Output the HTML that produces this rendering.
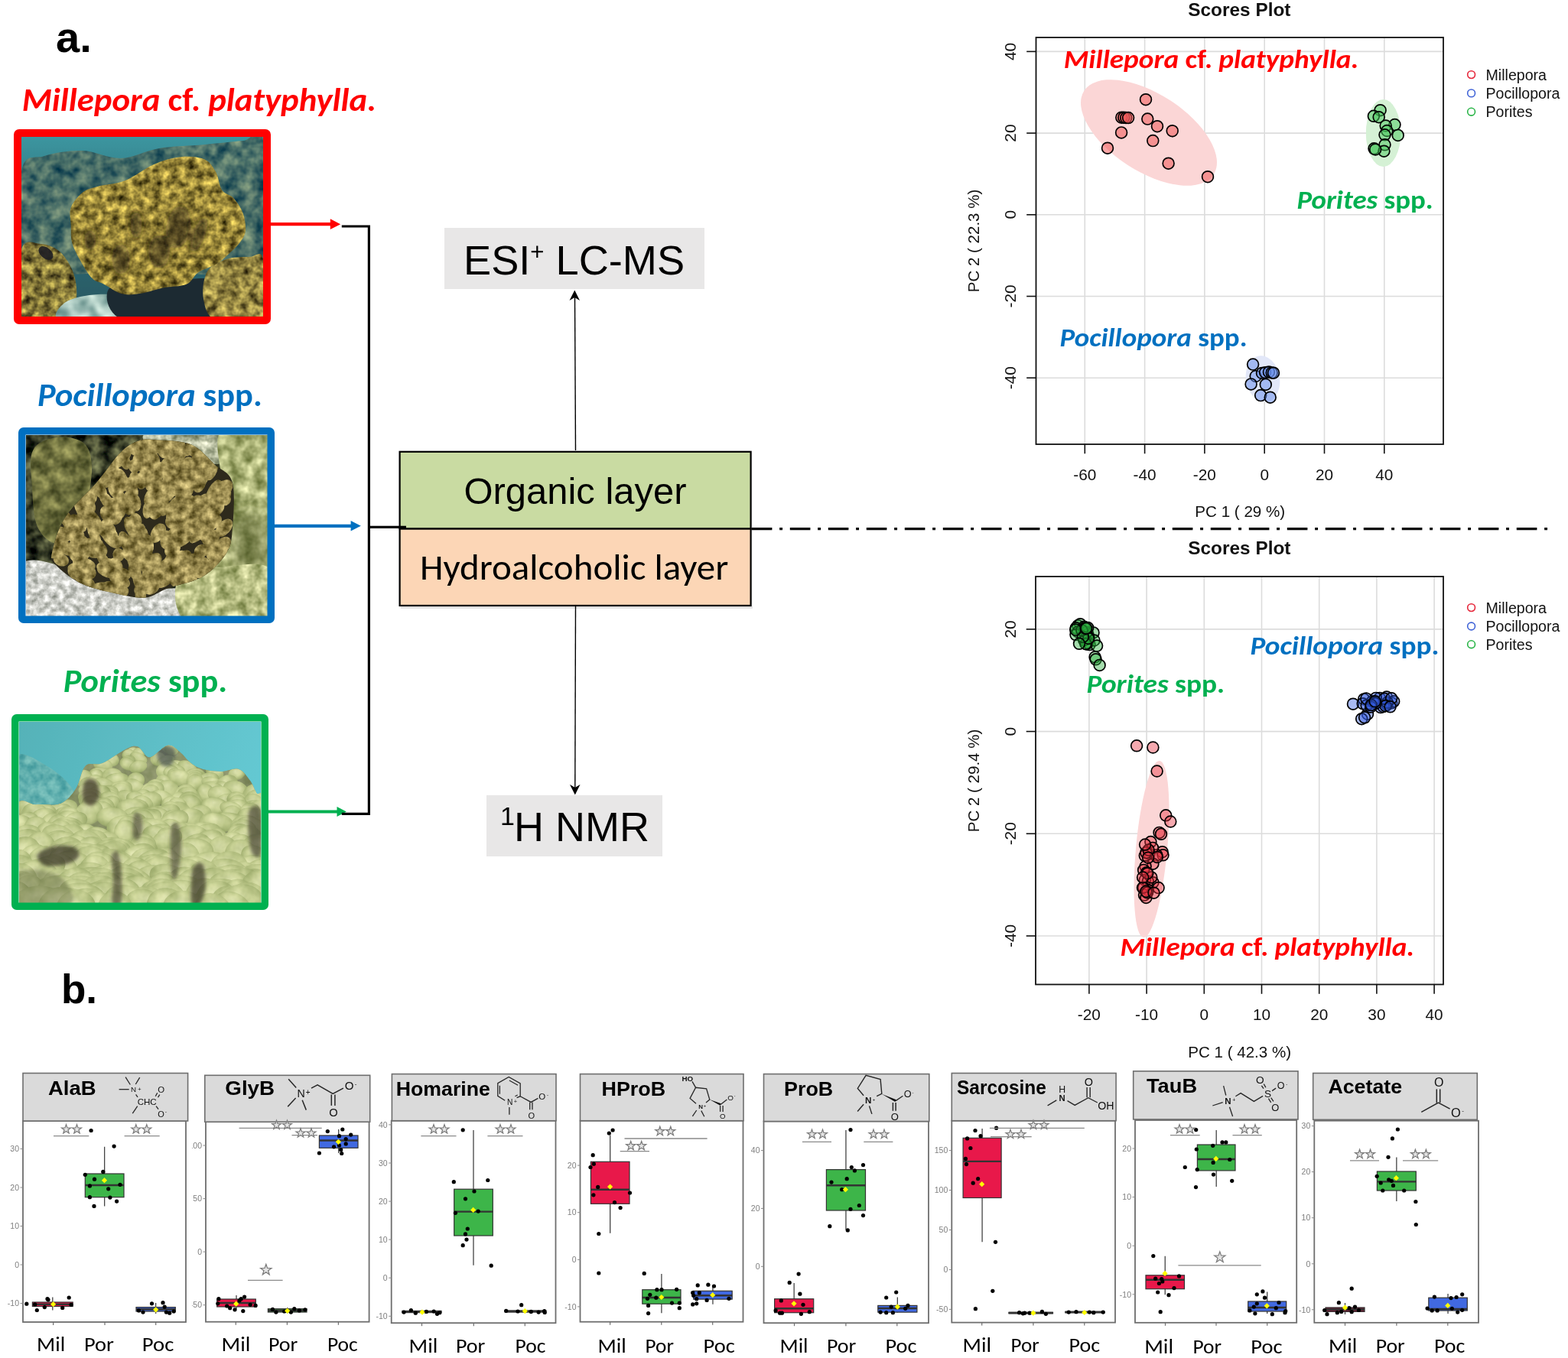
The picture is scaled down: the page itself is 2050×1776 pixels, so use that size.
<!DOCTYPE html>
<html><head><meta charset="utf-8"><title>Figure</title>
<style>html,body{margin:0;padding:0;background:#fff;width:2050px;height:1776px;overflow:hidden} svg{display:block}</style>
</head><body>
<svg width="2050" height="1776" viewBox="0 0 2050 1776">
<defs>
<filter id="tf1" x="28" y="179" width="316" height="237" filterUnits="userSpaceOnUse" color-interpolation-filters="sRGB"><feTurbulence type="fractalNoise" baseFrequency="0.06" numOctaves="3" seed="4"/><feColorMatrix type="matrix" values="0.8298 0 0 0 -0.1247 0.6765 0 0 0 0.0833 0.3608 0 0 0 0.2118 0 0 0 0 1"/></filter>
<clipPath id="tc1"><path d="M28.0,224.0 C33.0,199.0 44.7,208.5 58.0,204.0 C71.3,199.5 91.3,196.5 108.0,197.0 C124.7,197.5 141.3,207.5 158.0,207.0 C174.7,206.5 189.7,197.0 208.0,194.0 C226.3,191.0 249.7,190.7 268.0,189.0 C286.3,187.3 305.3,184.8 318.0,184.0 C330.7,183.2 339.7,156.5 344.0,184.0 C348.3,211.5 355.0,319.8 344.0,349.0 C333.0,378.2 305.7,358.2 278.0,359.0 C250.3,359.8 209.7,354.0 178.0,354.0 C146.3,354.0 113.0,359.0 88.0,359.0 C63.0,359.0 38.0,376.5 28.0,354.0 C18.0,331.5 23.0,249.0 28.0,224.0 Z"/></clipPath>
<filter id="tf2" x="28" y="179" width="316" height="237" filterUnits="userSpaceOnUse" color-interpolation-filters="sRGB"><feTurbulence type="fractalNoise" baseFrequency="0.09" numOctaves="3" seed="5"/><feColorMatrix type="matrix" values="1.1765 0 0 0 -0.0686 1.0918 0 0 0 -0.0753 0.5365 0 0 0 -0.0467 0 0 0 0 1"/></filter>
<clipPath id="tc2"><path d="M28.0,327.0 C32.2,310.3 44.7,318.7 53.0,319.0 C61.3,319.3 70.8,322.7 78.0,329.0 C85.2,335.3 92.3,346.7 96.0,357.0 C99.7,367.3 101.0,380.7 100.0,391.0 C99.0,401.3 102.0,414.3 90.0,419.0 C78.0,423.7 38.3,434.3 28.0,419.0 C17.7,403.7 23.8,343.7 28.0,327.0 Z"/></clipPath>
<filter id="tf3" x="28" y="179" width="316" height="237" filterUnits="userSpaceOnUse" color-interpolation-filters="sRGB"><feTurbulence type="fractalNoise" baseFrequency="0.05" numOctaves="2" seed="6"/><feColorMatrix type="matrix" values="0.8824 0 0 0 0.1667 0.7353 0 0 0 0.3676 0.6863 0 0 0 0.3627 0 0 0 0 1"/></filter>
<clipPath id="tc3"><path d="M86.0,395.0 C94.0,389.3 114.3,385.7 128.0,385.0 C141.7,384.3 159.3,385.3 168.0,391.0 C176.7,396.7 194.7,414.3 180.0,419.0 C165.3,423.7 95.7,423.0 80.0,419.0 C64.3,415.0 78.0,400.7 86.0,395.0 Z"/></clipPath>
<filter id="tf4" x="28" y="179" width="316" height="237" filterUnits="userSpaceOnUse" color-interpolation-filters="sRGB"><feTurbulence type="fractalNoise" baseFrequency="0.08" numOctaves="3" seed="7"/><feColorMatrix type="matrix" values="1.2706 0 0 0 -0.0569 1.1765 0 0 0 -0.0686 0.6588 0 0 0 -0.0745 0 0 0 0 1"/></filter>
<clipPath id="tc4"><path d="M271.0,355.0 C276.0,346.3 286.8,342.2 296.0,339.0 C305.2,335.8 318.0,336.0 326.0,336.0 C334.0,336.0 341.0,325.2 344.0,339.0 C347.0,352.8 354.2,405.7 344.0,419.0 C333.8,432.3 296.0,423.7 283.0,419.0 C270.0,414.3 268.0,401.7 266.0,391.0 C264.0,380.3 266.0,363.7 271.0,355.0 Z"/></clipPath>
<filter id="tf5" x="28" y="179" width="316" height="237" filterUnits="userSpaceOnUse" color-interpolation-filters="sRGB"><feTurbulence type="fractalNoise" baseFrequency="0.09" numOctaves="3" seed="8"/><feColorMatrix type="matrix" values="1.2255 0 0 0 -0.0147 1.0980 0 0 0 -0.0235 0.5588 0 0 0 -0.0578 0 0 0 0 1"/></filter>
<clipPath id="tc5"><path d="M92.7,271.5 C95.3,264.3 102.3,256.1 108.2,251.5 C114.1,246.9 118.9,246.3 128.2,243.7 C137.4,241.1 151.4,240.9 163.7,236.0 C176.0,231.1 190.1,219.6 202.2,214.5 C214.3,209.4 225.3,206.2 236.1,205.2 C246.9,204.2 259.3,205.0 267.0,208.3 C274.7,211.6 278.5,218.5 282.4,225.2 C286.2,231.9 286.2,242.7 290.1,248.4 C294.0,254.1 300.9,254.1 305.5,259.2 C310.1,264.3 315.2,272.0 317.8,279.2 C320.4,286.4 321.7,295.9 320.9,302.3 C320.1,308.7 317.0,312.6 313.2,317.7 C309.4,322.8 302.9,328.6 297.8,333.2 C292.7,337.8 288.8,341.6 282.4,345.5 C276.0,349.4 265.6,351.9 259.2,356.3 C252.8,360.7 251.5,368.4 243.8,371.7 C236.1,375.0 223.3,374.3 213.0,376.4 C202.7,378.5 191.2,382.8 182.2,384.1 C173.2,385.4 166.7,386.2 159.0,384.1 C151.3,382.0 142.3,375.1 135.9,371.7 C129.5,368.3 125.6,369.1 120.5,364.0 C115.4,358.9 109.5,348.6 105.1,340.9 C100.7,333.2 96.4,325.4 94.3,317.7 C92.2,310.0 93.0,302.3 92.7,294.6 C92.4,286.9 90.1,278.7 92.7,271.5 Z"/></clipPath>
<clipPath id="mc1"><path d="M92.7,271.5 C95.3,264.3 102.3,256.1 108.2,251.5 C114.1,246.9 118.9,246.3 128.2,243.7 C137.4,241.1 151.4,240.9 163.7,236.0 C176.0,231.1 190.1,219.6 202.2,214.5 C214.3,209.4 225.3,206.2 236.1,205.2 C246.9,204.2 259.3,205.0 267.0,208.3 C274.7,211.6 278.5,218.5 282.4,225.2 C286.2,231.9 286.2,242.7 290.1,248.4 C294.0,254.1 300.9,254.1 305.5,259.2 C310.1,264.3 315.2,272.0 317.8,279.2 C320.4,286.4 321.7,295.9 320.9,302.3 C320.1,308.7 317.0,312.6 313.2,317.7 C309.4,322.8 302.9,328.6 297.8,333.2 C292.7,337.8 288.8,341.6 282.4,345.5 C276.0,349.4 265.6,351.9 259.2,356.3 C252.8,360.7 251.5,368.4 243.8,371.7 C236.1,375.0 223.3,374.3 213.0,376.4 C202.7,378.5 191.2,382.8 182.2,384.1 C173.2,385.4 166.7,386.2 159.0,384.1 C151.3,382.0 142.3,375.1 135.9,371.7 C129.5,368.3 125.6,369.1 120.5,364.0 C115.4,358.9 109.5,348.6 105.1,340.9 C100.7,333.2 96.4,325.4 94.3,317.7 C92.2,310.0 93.0,302.3 92.7,294.6 C92.4,286.9 90.1,278.7 92.7,271.5 Z"/></clipPath>
<filter id="pb1s" x="28" y="179" width="316" height="237" filterUnits="userSpaceOnUse"><feGaussianBlur stdDeviation="5"/></filter>
<clipPath id="pc1"><rect x="28" y="179" width="316" height="237"/></clipPath>
<filter id="pb1" x="18" y="169" width="336" height="257" filterUnits="userSpaceOnUse"><feGaussianBlur stdDeviation="0.6"/></filter>
<filter id="tf6" x="34" y="569" width="316" height="237" filterUnits="userSpaceOnUse" color-interpolation-filters="sRGB"><feTurbulence type="fractalNoise" baseFrequency="0.06" numOctaves="3" seed="11"/><feColorMatrix type="matrix" values="0.8333 0 0 0 -0.1912 0.8333 0 0 0 -0.1716 0.5686 0 0 0 -0.1235 0 0 0 0 1"/></filter>
<filter id="tf7" x="34" y="569" width="316" height="237" filterUnits="userSpaceOnUse" color-interpolation-filters="sRGB"><feTurbulence type="fractalNoise" baseFrequency="0.08" numOctaves="3" seed="12"/><feColorMatrix type="matrix" values="1.0373 0 0 0 0.1382 0.9741 0 0 0 0.1953 0.9922 0 0 0 0.0725 0 0 0 0 1"/></filter>
<clipPath id="tc7"><path d="M199.0,564.0 C224.2,559.8 324.8,557.8 350.0,564.0 C375.2,570.2 361.0,593.8 350.0,601.0 C339.0,608.2 304.2,607.3 284.0,607.0 C263.8,606.7 243.2,602.0 229.0,599.0 C214.8,596.0 204.0,594.8 199.0,589.0 C194.0,583.2 173.8,568.2 199.0,564.0 Z"/></clipPath>
<filter id="tf8" x="34" y="569" width="316" height="237" filterUnits="userSpaceOnUse" color-interpolation-filters="sRGB"><feTurbulence type="fractalNoise" baseFrequency="0.06" numOctaves="3" seed="13"/><feColorMatrix type="matrix" values="0.8667 0 0 0 0.2431 0.8157 0 0 0 0.2980 0.8157 0 0 0 0.0627 0 0 0 0 1"/></filter>
<clipPath id="tc8"><path d="M289.0,564.0 C299.7,553.2 343.2,522.3 354.0,564.0 C364.8,605.7 369.3,772.3 354.0,814.0 C338.7,855.7 275.7,826.2 262.0,814.0 C248.3,801.8 266.3,761.8 272.0,741.0 C277.7,720.2 293.0,707.7 296.0,689.0 C299.0,670.3 291.2,649.8 290.0,629.0 C288.8,608.2 278.3,574.8 289.0,564.0 Z"/></clipPath>
<filter id="pshade2" x="34" y="569" width="316" height="237" filterUnits="userSpaceOnUse"><feGaussianBlur stdDeviation="8"/></filter>
<filter id="tf9" x="34" y="569" width="316" height="237" filterUnits="userSpaceOnUse" color-interpolation-filters="sRGB"><feTurbulence type="fractalNoise" baseFrequency="0.06" numOctaves="3" seed="14"/><feColorMatrix type="matrix" values="0.7216 0 0 0 0.0706 0.6855 0 0 0 0.0965 0.4690 0 0 0 0.0086 0 0 0 0 1"/></filter>
<clipPath id="tc9"><path d="M43.0,589.0 C48.3,577.8 63.0,573.7 74.0,572.0 C85.0,570.3 101.3,572.8 109.0,579.0 C116.7,585.2 119.2,595.7 120.0,609.0 C120.8,622.3 116.7,644.8 114.0,659.0 C111.3,673.2 110.7,685.3 104.0,694.0 C97.3,702.7 83.2,711.8 74.0,711.0 C64.8,710.2 54.3,701.0 49.0,689.0 C43.7,677.0 43.0,655.7 42.0,639.0 C41.0,622.3 37.7,600.2 43.0,589.0 Z"/></clipPath>
<filter id="tf10" x="34" y="569" width="316" height="237" filterUnits="userSpaceOnUse" color-interpolation-filters="sRGB"><feTurbulence type="fractalNoise" baseFrequency="0.12" numOctaves="3" seed="15"/><feColorMatrix type="matrix" values="0.7216 0 0 0 0.4471 0.6980 0 0 0 0.4647 0.7294 0 0 0 0.4255 0 0 0 0 1"/></filter>
<clipPath id="tc10"><path d="M29.0,737.0 C39.8,725.3 73.2,739.3 94.0,744.0 C114.8,748.7 130.7,760.8 154.0,765.0 C177.3,769.2 210.7,770.7 234.0,769.0 C257.3,767.3 274.0,755.3 294.0,755.0 C314.0,754.7 344.0,757.2 354.0,767.0 C364.0,776.8 408.2,806.2 354.0,814.0 C299.8,821.8 83.2,826.8 29.0,814.0 C-25.2,801.2 18.2,748.7 29.0,737.0 Z"/></clipPath>
<filter id="tf11" x="34" y="569" width="316" height="237" filterUnits="userSpaceOnUse" color-interpolation-filters="sRGB"><feTurbulence type="fractalNoise" baseFrequency="0.07" numOctaves="3" seed="16"/><feColorMatrix type="matrix" values="0.8667 0 0 0 0.2824 0.7953 0 0 0 0.3435 0.8157 0 0 0 0.1020 0 0 0 0 1"/></filter>
<clipPath id="tc11"><path d="M234.0,755.0 C242.3,742.8 276.0,742.7 296.0,741.0 C316.0,739.3 344.3,732.8 354.0,745.0 C363.7,757.2 372.0,802.5 354.0,814.0 C336.0,825.5 266.0,823.8 246.0,814.0 C226.0,804.2 225.7,767.2 234.0,755.0 Z"/></clipPath>
<mask id="brm"><rect x="34" y="569" width="316" height="237" fill="black"/><ellipse cx="220.8" cy="646.1" rx="15.2" ry="7.3" transform="rotate(-50.4 220.8 646.1)" fill="white" opacity="1"/><ellipse cx="143.4" cy="697.2" rx="15.5" ry="8.9" transform="rotate(-98.3 143.4 697.2)" fill="white" opacity="1"/><ellipse cx="234.0" cy="586.7" rx="15.2" ry="8.6" transform="rotate(-84.1 234.0 586.7)" fill="white" opacity="1"/><ellipse cx="113.3" cy="747.0" rx="13.1" ry="9.8" transform="rotate(-149.0 113.3 747.0)" fill="white" opacity="1"/><ellipse cx="293.0" cy="690.3" rx="13.9" ry="8.6" transform="rotate(-47.9 293.0 690.3)" fill="white" opacity="1"/><ellipse cx="291.9" cy="639.5" rx="14.5" ry="9.8" transform="rotate(-42.7 291.9 639.5)" fill="white" opacity="1"/><ellipse cx="102.1" cy="742.0" rx="13.7" ry="7.1" transform="rotate(-184.3 102.1 742.0)" fill="white" opacity="1"/><ellipse cx="192.9" cy="583.5" rx="15.5" ry="8.3" transform="rotate(-86.4 192.9 583.5)" fill="white" opacity="1"/><ellipse cx="164.4" cy="709.2" rx="15.4" ry="7.6" transform="rotate(-114.5 164.4 709.2)" fill="white" opacity="1"/><ellipse cx="204.7" cy="636.5" rx="13.2" ry="8.4" transform="rotate(-84.4 204.7 636.5)" fill="white" opacity="1"/><ellipse cx="225.9" cy="682.6" rx="9.6" ry="10.0" transform="rotate(-71.4 225.9 682.6)" fill="white" opacity="1"/><ellipse cx="169.6" cy="657.6" rx="15.5" ry="9.8" transform="rotate(-96.8 169.6 657.6)" fill="white" opacity="1"/><ellipse cx="162.4" cy="596.3" rx="15.3" ry="7.1" transform="rotate(-94.8 162.4 596.3)" fill="white" opacity="1"/><ellipse cx="150.3" cy="642.7" rx="11.5" ry="7.2" transform="rotate(-128.1 150.3 642.7)" fill="white" opacity="1"/><ellipse cx="193.8" cy="736.2" rx="13.5" ry="7.2" transform="rotate(-63.8 193.8 736.2)" fill="white" opacity="1"/><ellipse cx="176.3" cy="746.3" rx="12.5" ry="8.3" transform="rotate(-104.5 176.3 746.3)" fill="white" opacity="1"/><ellipse cx="179.2" cy="722.5" rx="13.5" ry="7.7" transform="rotate(-81.7 179.2 722.5)" fill="white" opacity="1"/><ellipse cx="260.0" cy="698.7" rx="15.6" ry="6.6" transform="rotate(-42.8 260.0 698.7)" fill="white" opacity="1"/><ellipse cx="216.9" cy="645.1" rx="10.2" ry="8.9" transform="rotate(-78.4 216.9 645.1)" fill="white" opacity="1"/><ellipse cx="294.3" cy="647.5" rx="9.8" ry="7.3" transform="rotate(-60.0 294.3 647.5)" fill="white" opacity="1"/><ellipse cx="270.8" cy="613.1" rx="10.9" ry="6.8" transform="rotate(-62.4 270.8 613.1)" fill="white" opacity="1"/><ellipse cx="117.4" cy="645.8" rx="14.1" ry="9.7" transform="rotate(-101.7 117.4 645.8)" fill="white" opacity="1"/><ellipse cx="116.3" cy="675.0" rx="11.7" ry="9.1" transform="rotate(-114.8 116.3 675.0)" fill="white" opacity="1"/><ellipse cx="177.2" cy="626.8" rx="10.6" ry="7.4" transform="rotate(-114.5 177.2 626.8)" fill="white" opacity="1"/><ellipse cx="224.1" cy="608.6" rx="15.2" ry="8.8" transform="rotate(-98.1 224.1 608.6)" fill="white" opacity="1"/><ellipse cx="185.2" cy="697.7" rx="9.3" ry="8.2" transform="rotate(-112.5 185.2 697.7)" fill="white" opacity="1"/><ellipse cx="266.2" cy="623.7" rx="12.7" ry="7.0" transform="rotate(-68.4 266.2 623.7)" fill="white" opacity="1"/><ellipse cx="270.3" cy="740.5" rx="9.1" ry="7.8" transform="rotate(-11.2 270.3 740.5)" fill="white" opacity="1"/><ellipse cx="109.9" cy="737.5" rx="15.3" ry="8.4" transform="rotate(-163.9 109.9 737.5)" fill="white" opacity="1"/><ellipse cx="266.7" cy="679.6" rx="10.3" ry="7.5" transform="rotate(-64.3 266.7 679.6)" fill="white" opacity="1"/><ellipse cx="264.4" cy="679.0" rx="13.9" ry="9.4" transform="rotate(-24.5 264.4 679.0)" fill="white" opacity="1"/><ellipse cx="113.4" cy="658.1" rx="15.1" ry="9.2" transform="rotate(-128.2 113.4 658.1)" fill="white" opacity="1"/><ellipse cx="221.8" cy="616.0" rx="10.1" ry="6.7" transform="rotate(-82.1 221.8 616.0)" fill="white" opacity="1"/><ellipse cx="124.0" cy="680.5" rx="15.8" ry="7.0" transform="rotate(-121.3 124.0 680.5)" fill="white" opacity="1"/><ellipse cx="270.5" cy="696.7" rx="12.7" ry="9.2" transform="rotate(-63.8 270.5 696.7)" fill="white" opacity="1"/><ellipse cx="290.0" cy="714.3" rx="14.6" ry="9.4" transform="rotate(-47.4 290.0 714.3)" fill="white" opacity="1"/><ellipse cx="186.6" cy="764.7" rx="15.4" ry="7.9" transform="rotate(-52.8 186.6 764.7)" fill="white" opacity="1"/><ellipse cx="241.4" cy="643.5" rx="15.8" ry="9.8" transform="rotate(-54.1 241.4 643.5)" fill="white" opacity="1"/><ellipse cx="279.0" cy="737.2" rx="13.6" ry="7.6" transform="rotate(-29.5 279.0 737.2)" fill="white" opacity="1"/><ellipse cx="284.7" cy="636.7" rx="9.2" ry="7.6" transform="rotate(-72.6 284.7 636.7)" fill="white" opacity="1"/><ellipse cx="172.7" cy="643.4" rx="10.2" ry="8.2" transform="rotate(-99.4 172.7 643.4)" fill="white" opacity="1"/><ellipse cx="151.5" cy="739.7" rx="11.1" ry="8.4" transform="rotate(-119.0 151.5 739.7)" fill="white" opacity="1"/><ellipse cx="292.5" cy="652.0" rx="9.3" ry="9.8" transform="rotate(-46.5 292.5 652.0)" fill="white" opacity="1"/><ellipse cx="124.7" cy="639.1" rx="10.0" ry="6.7" transform="rotate(-89.8 124.7 639.1)" fill="white" opacity="1"/><ellipse cx="260.1" cy="599.7" rx="12.4" ry="9.3" transform="rotate(-65.6 260.1 599.7)" fill="white" opacity="1"/><ellipse cx="157.7" cy="759.9" rx="13.1" ry="8.1" transform="rotate(-154.4 157.7 759.9)" fill="white" opacity="1"/><ellipse cx="80.3" cy="714.2" rx="14.7" ry="8.8" transform="rotate(-159.1 80.3 714.2)" fill="white" opacity="1"/><ellipse cx="174.6" cy="732.7" rx="10.5" ry="8.2" transform="rotate(-97.7 174.6 732.7)" fill="white" opacity="1"/><ellipse cx="215.7" cy="581.1" rx="15.4" ry="8.5" transform="rotate(-90.3 215.7 581.1)" fill="white" opacity="1"/><ellipse cx="124.8" cy="714.8" rx="15.5" ry="7.7" transform="rotate(-142.6 124.8 714.8)" fill="white" opacity="1"/><ellipse cx="198.8" cy="612.0" rx="11.8" ry="9.7" transform="rotate(-81.8 198.8 612.0)" fill="white" opacity="1"/><ellipse cx="260.8" cy="629.4" rx="15.1" ry="9.2" transform="rotate(-74.9 260.8 629.4)" fill="white" opacity="1"/><ellipse cx="192.5" cy="713.4" rx="13.0" ry="8.6" transform="rotate(-94.3 192.5 713.4)" fill="white" opacity="1"/><ellipse cx="198.1" cy="647.9" rx="14.6" ry="7.8" transform="rotate(-59.4 198.1 647.9)" fill="white" opacity="1"/><ellipse cx="204.3" cy="622.6" rx="11.9" ry="6.9" transform="rotate(-70.3 204.3 622.6)" fill="white" opacity="1"/><ellipse cx="79.7" cy="698.0" rx="11.2" ry="9.2" transform="rotate(-164.4 79.7 698.0)" fill="white" opacity="1"/><ellipse cx="227.5" cy="719.8" rx="10.6" ry="7.0" transform="rotate(-54.9 227.5 719.8)" fill="white" opacity="1"/><ellipse cx="220.2" cy="629.2" rx="9.1" ry="8.0" transform="rotate(-60.0 220.2 629.2)" fill="white" opacity="1"/><ellipse cx="187.4" cy="609.1" rx="9.7" ry="7.8" transform="rotate(-90.0 187.4 609.1)" fill="white" opacity="1"/><ellipse cx="185.8" cy="627.8" rx="12.1" ry="8.1" transform="rotate(-79.4 185.8 627.8)" fill="white" opacity="1"/><ellipse cx="203.6" cy="622.7" rx="10.3" ry="9.5" transform="rotate(-104.9 203.6 622.7)" fill="white" opacity="1"/><ellipse cx="261.5" cy="685.2" rx="15.5" ry="8.7" transform="rotate(-55.5 261.5 685.2)" fill="white" opacity="1"/><ellipse cx="169.3" cy="723.5" rx="10.6" ry="9.3" transform="rotate(-112.5 169.3 723.5)" fill="white" opacity="1"/><ellipse cx="199.5" cy="606.3" rx="15.3" ry="9.7" transform="rotate(-84.0 199.5 606.3)" fill="white" opacity="1"/><ellipse cx="279.8" cy="715.0" rx="12.8" ry="7.1" transform="rotate(-6.8 279.8 715.0)" fill="white" opacity="1"/><ellipse cx="283.3" cy="667.4" rx="11.7" ry="6.8" transform="rotate(-39.7 283.3 667.4)" fill="white" opacity="1"/><ellipse cx="268.2" cy="654.8" rx="11.0" ry="8.6" transform="rotate(-38.9 268.2 654.8)" fill="white" opacity="1"/><ellipse cx="218.7" cy="585.3" rx="14.7" ry="7.6" transform="rotate(-62.7 218.7 585.3)" fill="white" opacity="1"/><ellipse cx="175.0" cy="610.1" rx="9.1" ry="6.9" transform="rotate(-105.2 175.0 610.1)" fill="white" opacity="1"/><ellipse cx="245.5" cy="735.8" rx="13.4" ry="7.6" transform="rotate(-20.2 245.5 735.8)" fill="white" opacity="1"/><ellipse cx="239.7" cy="650.5" rx="9.6" ry="8.1" transform="rotate(-78.7 239.7 650.5)" fill="white" opacity="1"/><ellipse cx="113.0" cy="655.1" rx="9.5" ry="9.6" transform="rotate(-132.9 113.0 655.1)" fill="white" opacity="1"/><ellipse cx="278.3" cy="724.5" rx="9.1" ry="9.6" transform="rotate(-9.8 278.3 724.5)" fill="white" opacity="1"/><ellipse cx="191.4" cy="753.9" rx="12.3" ry="6.6" transform="rotate(-81.4 191.4 753.9)" fill="white" opacity="1"/><ellipse cx="141.4" cy="748.6" rx="14.8" ry="6.9" transform="rotate(-161.9 141.4 748.6)" fill="white" opacity="1"/><ellipse cx="151.0" cy="659.9" rx="10.0" ry="8.8" transform="rotate(-119.7 151.0 659.9)" fill="white" opacity="1"/><ellipse cx="276.4" cy="673.3" rx="12.0" ry="9.2" transform="rotate(-53.8 276.4 673.3)" fill="white" opacity="1"/><ellipse cx="137.7" cy="623.9" rx="14.1" ry="7.7" transform="rotate(-97.4 137.7 623.9)" fill="white" opacity="1"/><ellipse cx="140.0" cy="655.5" rx="15.4" ry="7.2" transform="rotate(-125.6 140.0 655.5)" fill="white" opacity="1"/><ellipse cx="182.4" cy="693.9" rx="9.8" ry="8.0" transform="rotate(-77.8 182.4 693.9)" fill="white" opacity="1"/><ellipse cx="69.3" cy="720.7" rx="13.8" ry="9.3" transform="rotate(-157.8 69.3 720.7)" fill="white" opacity="1"/><ellipse cx="177.1" cy="680.7" rx="10.0" ry="8.3" transform="rotate(-107.5 177.1 680.7)" fill="white" opacity="1"/><ellipse cx="195.1" cy="624.3" rx="12.9" ry="8.3" transform="rotate(-99.0 195.1 624.3)" fill="white" opacity="1"/><ellipse cx="98.6" cy="696.2" rx="13.7" ry="8.9" transform="rotate(-139.2 98.6 696.2)" fill="white" opacity="1"/><ellipse cx="204.1" cy="581.9" rx="11.1" ry="9.3" transform="rotate(-90.0 204.1 581.9)" fill="white" opacity="1"/><ellipse cx="263.3" cy="596.6" rx="9.8" ry="8.2" transform="rotate(-46.7 263.3 596.6)" fill="white" opacity="1"/><ellipse cx="160.0" cy="626.6" rx="14.4" ry="6.8" transform="rotate(-109.8 160.0 626.6)" fill="white" opacity="1"/><ellipse cx="208.4" cy="746.9" rx="15.0" ry="7.6" transform="rotate(-53.9 208.4 746.9)" fill="white" opacity="1"/><ellipse cx="153.7" cy="601.3" rx="10.9" ry="9.2" transform="rotate(-76.3 153.7 601.3)" fill="white" opacity="1"/><ellipse cx="254.0" cy="659.5" rx="14.2" ry="9.2" transform="rotate(-45.2 254.0 659.5)" fill="white" opacity="1"/><ellipse cx="183.8" cy="776.8" rx="14.5" ry="7.3" transform="rotate(87.8 183.8 776.8)" fill="white" opacity="1"/><ellipse cx="259.4" cy="674.3" rx="12.7" ry="9.2" transform="rotate(-72.1 259.4 674.3)" fill="white" opacity="1"/><ellipse cx="151.4" cy="673.7" rx="12.5" ry="8.9" transform="rotate(-87.0 151.4 673.7)" fill="white" opacity="1"/><ellipse cx="255.7" cy="686.1" rx="13.8" ry="8.4" transform="rotate(-24.8 255.7 686.1)" fill="white" opacity="1"/><ellipse cx="208.0" cy="695.8" rx="11.8" ry="8.0" transform="rotate(-58.7 208.0 695.8)" fill="white" opacity="1"/><ellipse cx="155.9" cy="757.8" rx="14.1" ry="9.8" transform="rotate(-147.9 155.9 757.8)" fill="white" opacity="1"/><ellipse cx="201.8" cy="650.4" rx="9.1" ry="8.8" transform="rotate(-68.9 201.8 650.4)" fill="white" opacity="1"/><ellipse cx="237.5" cy="728.8" rx="9.3" ry="8.9" transform="rotate(-47.9 237.5 728.8)" fill="white" opacity="1"/><ellipse cx="159.5" cy="750.7" rx="11.8" ry="8.1" transform="rotate(-165.7 159.5 750.7)" fill="white" opacity="1"/><ellipse cx="119.1" cy="681.5" rx="9.3" ry="6.8" transform="rotate(-147.3 119.1 681.5)" fill="white" opacity="1"/><ellipse cx="243.8" cy="680.0" rx="9.9" ry="9.2" transform="rotate(-74.7 243.8 680.0)" fill="white" opacity="1"/><ellipse cx="86.9" cy="679.3" rx="15.0" ry="7.6" transform="rotate(-119.1 86.9 679.3)" fill="white" opacity="1"/><ellipse cx="146.4" cy="770.3" rx="14.2" ry="9.5" transform="rotate(202.3 146.4 770.3)" fill="white" opacity="1"/><ellipse cx="259.3" cy="616.2" rx="12.6" ry="8.4" transform="rotate(-52.6 259.3 616.2)" fill="white" opacity="1"/><ellipse cx="122.5" cy="692.4" rx="11.0" ry="7.1" transform="rotate(-131.3 122.5 692.4)" fill="white" opacity="1"/><ellipse cx="256.2" cy="687.8" rx="11.5" ry="7.3" transform="rotate(-55.4 256.2 687.8)" fill="white" opacity="1"/><ellipse cx="162.0" cy="631.3" rx="11.2" ry="7.3" transform="rotate(-109.4 162.0 631.3)" fill="white" opacity="1"/><ellipse cx="225.9" cy="702.0" rx="13.4" ry="9.7" transform="rotate(-49.7 225.9 702.0)" fill="white" opacity="1"/><ellipse cx="191.1" cy="726.3" rx="12.7" ry="6.8" transform="rotate(-81.7 191.1 726.3)" fill="white" opacity="1"/><ellipse cx="221.6" cy="734.1" rx="12.1" ry="7.2" transform="rotate(-66.2 221.6 734.1)" fill="white" opacity="1"/><ellipse cx="186.2" cy="727.0" rx="9.8" ry="8.3" transform="rotate(-82.1 186.2 727.0)" fill="white" opacity="1"/><ellipse cx="199.5" cy="623.3" rx="9.6" ry="6.6" transform="rotate(-93.7 199.5 623.3)" fill="white" opacity="1"/><ellipse cx="278.0" cy="660.9" rx="15.9" ry="9.4" transform="rotate(-44.8 278.0 660.9)" fill="white" opacity="1"/><ellipse cx="171.5" cy="689.5" rx="14.9" ry="7.7" transform="rotate(-116.1 171.5 689.5)" fill="white" opacity="1"/><ellipse cx="278.4" cy="703.2" rx="11.6" ry="7.9" transform="rotate(-54.8 278.4 703.2)" fill="white" opacity="1"/><ellipse cx="201.2" cy="734.2" rx="12.5" ry="8.9" transform="rotate(-51.8 201.2 734.2)" fill="white" opacity="1"/><ellipse cx="146.1" cy="704.6" rx="15.8" ry="9.0" transform="rotate(-136.3 146.1 704.6)" fill="white" opacity="1"/><ellipse cx="223.4" cy="705.9" rx="14.4" ry="9.0" transform="rotate(-37.4 223.4 705.9)" fill="white" opacity="1"/><ellipse cx="180.7" cy="586.1" rx="15.9" ry="6.9" transform="rotate(-94.7 180.7 586.1)" fill="white" opacity="1"/><ellipse cx="212.6" cy="662.8" rx="10.2" ry="8.3" transform="rotate(-88.7 212.6 662.8)" fill="white" opacity="1"/><ellipse cx="183.2" cy="720.0" rx="11.1" ry="8.1" transform="rotate(-84.4 183.2 720.0)" fill="white" opacity="1"/><ellipse cx="192.9" cy="737.2" rx="15.2" ry="9.9" transform="rotate(-91.1 192.9 737.2)" fill="white" opacity="1"/><ellipse cx="181.4" cy="600.6" rx="13.9" ry="7.9" transform="rotate(-73.4 181.4 600.6)" fill="white" opacity="1"/><ellipse cx="181.6" cy="736.6" rx="9.2" ry="8.6" transform="rotate(-98.5 181.6 736.6)" fill="white" opacity="1"/><ellipse cx="263.0" cy="597.6" rx="9.6" ry="8.9" transform="rotate(-73.9 263.0 597.6)" fill="white" opacity="1"/><ellipse cx="170.3" cy="657.8" rx="15.9" ry="8.7" transform="rotate(-80.4 170.3 657.8)" fill="white" opacity="1"/><ellipse cx="264.5" cy="748.6" rx="12.1" ry="7.5" transform="rotate(-13.5 264.5 748.6)" fill="white" opacity="1"/><ellipse cx="180.4" cy="758.4" rx="14.3" ry="6.6" transform="rotate(-102.0 180.4 758.4)" fill="white" opacity="1"/><ellipse cx="253.9" cy="585.7" rx="11.6" ry="8.8" transform="rotate(-68.8 253.9 585.7)" fill="white" opacity="1"/><ellipse cx="192.5" cy="595.0" rx="10.8" ry="9.5" transform="rotate(-94.7 192.5 595.0)" fill="white" opacity="1"/><ellipse cx="180.6" cy="695.1" rx="11.0" ry="8.0" transform="rotate(-92.3 180.6 695.1)" fill="white" opacity="1"/><ellipse cx="271.5" cy="745.5" rx="10.2" ry="8.3" transform="rotate(-2.5 271.5 745.5)" fill="white" opacity="1"/><ellipse cx="277.9" cy="683.1" rx="13.4" ry="8.8" transform="rotate(-34.1 277.9 683.1)" fill="white" opacity="1"/><ellipse cx="236.0" cy="654.6" rx="11.0" ry="6.8" transform="rotate(-45.0 236.0 654.6)" fill="white" opacity="1"/><ellipse cx="277.2" cy="682.7" rx="12.5" ry="7.2" transform="rotate(-21.4 277.2 682.7)" fill="white" opacity="1"/><ellipse cx="245.5" cy="610.4" rx="13.0" ry="10.0" transform="rotate(-80.6 245.5 610.4)" fill="white" opacity="1"/><ellipse cx="155.9" cy="649.7" rx="11.6" ry="6.9" transform="rotate(-96.8 155.9 649.7)" fill="white" opacity="1"/><ellipse cx="126.0" cy="713.1" rx="12.3" ry="9.5" transform="rotate(-123.7 126.0 713.1)" fill="white" opacity="1"/><ellipse cx="269.0" cy="608.0" rx="14.6" ry="9.2" transform="rotate(-72.6 269.0 608.0)" fill="white" opacity="1"/><ellipse cx="162.7" cy="590.6" rx="13.5" ry="9.5" transform="rotate(-79.7 162.7 590.6)" fill="white" opacity="1"/><ellipse cx="110.6" cy="759.1" rx="14.5" ry="7.0" transform="rotate(-154.6 110.6 759.1)" fill="white" opacity="1"/><ellipse cx="244.0" cy="740.4" rx="12.7" ry="6.5" transform="rotate(-16.6 244.0 740.4)" fill="white" opacity="1"/><ellipse cx="185.4" cy="606.7" rx="9.9" ry="9.6" transform="rotate(-69.3 185.4 606.7)" fill="white" opacity="1"/><ellipse cx="231.6" cy="635.3" rx="15.1" ry="8.1" transform="rotate(-59.8 231.6 635.3)" fill="white" opacity="1"/><ellipse cx="79.9" cy="732.3" rx="10.4" ry="8.0" transform="rotate(-161.3 79.9 732.3)" fill="white" opacity="1"/><ellipse cx="144.7" cy="625.6" rx="12.1" ry="6.7" transform="rotate(-122.5 144.7 625.6)" fill="white" opacity="1"/><ellipse cx="99.3" cy="747.8" rx="11.2" ry="9.9" transform="rotate(-145.9 99.3 747.8)" fill="white" opacity="1"/><ellipse cx="107.5" cy="748.2" rx="15.9" ry="8.0" transform="rotate(-165.6 107.5 748.2)" fill="white" opacity="1"/><ellipse cx="226.1" cy="675.1" rx="10.8" ry="9.1" transform="rotate(-79.9 226.1 675.1)" fill="white" opacity="1"/><ellipse cx="144.4" cy="738.2" rx="10.0" ry="7.2" transform="rotate(-147.4 144.4 738.2)" fill="white" opacity="1"/><ellipse cx="253.7" cy="732.3" rx="14.6" ry="8.9" transform="rotate(-2.9 253.7 732.3)" fill="white" opacity="1"/><ellipse cx="129.1" cy="718.5" rx="12.1" ry="9.9" transform="rotate(-140.3 129.1 718.5)" fill="white" opacity="1"/><ellipse cx="237.6" cy="732.2" rx="15.7" ry="9.2" transform="rotate(-43.1 237.6 732.2)" fill="white" opacity="1"/><ellipse cx="220.3" cy="736.3" rx="15.6" ry="7.4" transform="rotate(-30.5 220.3 736.3)" fill="white" opacity="1"/><ellipse cx="237.1" cy="608.6" rx="9.8" ry="8.5" transform="rotate(-66.8 237.1 608.6)" fill="white" opacity="1"/><ellipse cx="145.6" cy="700.7" rx="10.0" ry="8.5" transform="rotate(-117.6 145.6 700.7)" fill="white" opacity="1"/><ellipse cx="262.7" cy="721.0" rx="9.6" ry="8.4" transform="rotate(-50.0 262.7 721.0)" fill="white" opacity="1"/><ellipse cx="191.6" cy="712.7" rx="13.9" ry="6.5" transform="rotate(-80.7 191.6 712.7)" fill="white" opacity="1"/><ellipse cx="109.7" cy="678.3" rx="12.5" ry="8.2" transform="rotate(-116.2 109.7 678.3)" fill="white" opacity="1"/><ellipse cx="138.4" cy="672.3" rx="10.7" ry="7.2" transform="rotate(-108.6 138.4 672.3)" fill="white" opacity="1"/><ellipse cx="105.9" cy="737.0" rx="11.6" ry="6.9" transform="rotate(-143.3 105.9 737.0)" fill="white" opacity="1"/><ellipse cx="221.6" cy="580.2" rx="13.9" ry="8.5" transform="rotate(-54.9 221.6 580.2)" fill="white" opacity="1"/><ellipse cx="141.8" cy="742.9" rx="15.9" ry="8.2" transform="rotate(-169.4 141.8 742.9)" fill="white" opacity="1"/><ellipse cx="148.5" cy="739.8" rx="9.0" ry="8.7" transform="rotate(-139.5 148.5 739.8)" fill="white" opacity="1"/><ellipse cx="241.5" cy="651.0" rx="15.6" ry="6.9" transform="rotate(-68.2 241.5 651.0)" fill="white" opacity="1"/><ellipse cx="140.3" cy="688.8" rx="10.5" ry="7.9" transform="rotate(-121.1 140.3 688.8)" fill="white" opacity="1"/><ellipse cx="235.6" cy="731.3" rx="9.1" ry="9.2" transform="rotate(-17.1 235.6 731.3)" fill="white" opacity="1"/><ellipse cx="176.9" cy="696.1" rx="14.5" ry="9.7" transform="rotate(-109.3 176.9 696.1)" fill="white" opacity="1"/><ellipse cx="234.0" cy="592.8" rx="11.6" ry="9.7" transform="rotate(-67.8 234.0 592.8)" fill="white" opacity="1"/><ellipse cx="193.3" cy="666.1" rx="12.2" ry="6.6" transform="rotate(-81.8 193.3 666.1)" fill="white" opacity="1"/><ellipse cx="77.1" cy="702.0" rx="14.8" ry="8.0" transform="rotate(-168.7 77.1 702.0)" fill="white" opacity="1"/><ellipse cx="219.2" cy="708.3" rx="10.6" ry="9.3" transform="rotate(-57.7 219.2 708.3)" fill="white" opacity="1"/><ellipse cx="252.2" cy="624.0" rx="11.5" ry="8.8" transform="rotate(-56.4 252.2 624.0)" fill="white" opacity="1"/><ellipse cx="177.5" cy="710.2" rx="14.5" ry="7.6" transform="rotate(-118.3 177.5 710.2)" fill="white" opacity="1"/><ellipse cx="204.3" cy="615.6" rx="12.6" ry="7.3" transform="rotate(-63.5 204.3 615.6)" fill="white" opacity="1"/><ellipse cx="273.7" cy="705.5" rx="10.0" ry="8.4" transform="rotate(-19.0 273.7 705.5)" fill="white" opacity="1"/><ellipse cx="216.1" cy="758.2" rx="14.7" ry="7.8" transform="rotate(-37.3 216.1 758.2)" fill="white" opacity="1"/><ellipse cx="230.0" cy="673.1" rx="14.7" ry="8.1" transform="rotate(-53.4 230.0 673.1)" fill="white" opacity="1"/><ellipse cx="102.5" cy="728.2" rx="15.1" ry="9.3" transform="rotate(-139.6 102.5 728.2)" fill="white" opacity="1"/><ellipse cx="225.4" cy="611.1" rx="11.3" ry="7.5" transform="rotate(-85.7 225.4 611.1)" fill="white" opacity="1"/><ellipse cx="205.2" cy="649.6" rx="13.6" ry="9.6" transform="rotate(-55.3 205.2 649.6)" fill="white" opacity="1"/><ellipse cx="204.0" cy="663.5" rx="14.1" ry="9.6" transform="rotate(-92.0 204.0 663.5)" fill="white" opacity="1"/><ellipse cx="217.1" cy="608.6" rx="12.1" ry="7.7" transform="rotate(-62.3 217.1 608.6)" fill="white" opacity="1"/><ellipse cx="190.7" cy="719.0" rx="13.6" ry="8.4" transform="rotate(-100.6 190.7 719.0)" fill="white" opacity="1"/><ellipse cx="131.7" cy="768.3" rx="13.2" ry="6.9" transform="rotate(-186.4 131.7 768.3)" fill="white" opacity="1"/><ellipse cx="157.7" cy="635.4" rx="9.1" ry="8.2" transform="rotate(-79.7 157.7 635.4)" fill="white" opacity="1"/><ellipse cx="176.8" cy="657.0" rx="11.7" ry="7.4" transform="rotate(-102.3 176.8 657.0)" fill="white" opacity="1"/><ellipse cx="114.3" cy="662.8" rx="15.4" ry="7.8" transform="rotate(-104.3 114.3 662.8)" fill="white" opacity="1"/><ellipse cx="185.3" cy="704.3" rx="12.4" ry="7.9" transform="rotate(-69.6 185.3 704.3)" fill="white" opacity="1"/><ellipse cx="206.7" cy="615.1" rx="11.1" ry="7.9" transform="rotate(-78.3 206.7 615.1)" fill="white" opacity="1"/><ellipse cx="156.9" cy="630.1" rx="11.1" ry="10.0" transform="rotate(-89.1 156.9 630.1)" fill="white" opacity="1"/><ellipse cx="102.0" cy="684.2" rx="14.1" ry="8.2" transform="rotate(-132.6 102.0 684.2)" fill="white" opacity="1"/><ellipse cx="216.4" cy="703.5" rx="10.2" ry="6.7" transform="rotate(-75.0 216.4 703.5)" fill="white" opacity="1"/><ellipse cx="222.0" cy="616.0" rx="14.0" ry="8.0" transform="rotate(-59.2 222.0 616.0)" fill="white" opacity="1"/><ellipse cx="199.0" cy="751.3" rx="12.0" ry="8.0" transform="rotate(-28.3 199.0 751.3)" fill="white" opacity="1"/><ellipse cx="228.6" cy="662.7" rx="15.1" ry="9.1" transform="rotate(-60.0 228.6 662.7)" fill="white" opacity="1"/><ellipse cx="148.0" cy="615.8" rx="10.7" ry="8.2" transform="rotate(-103.1 148.0 615.8)" fill="white" opacity="1"/><ellipse cx="227.5" cy="750.1" rx="13.9" ry="9.5" transform="rotate(-27.0 227.5 750.1)" fill="white" opacity="1"/><ellipse cx="103.5" cy="719.1" rx="16.0" ry="7.1" transform="rotate(-142.5 103.5 719.1)" fill="white" opacity="1"/><ellipse cx="159.2" cy="773.6" rx="9.2" ry="8.2" transform="rotate(162.4 159.2 773.6)" fill="white" opacity="1"/><ellipse cx="155.0" cy="725.7" rx="9.0" ry="7.5" transform="rotate(-100.4 155.0 725.7)" fill="white" opacity="1"/><ellipse cx="176.1" cy="579.7" rx="13.3" ry="8.8" transform="rotate(-71.0 176.1 579.7)" fill="white" opacity="1"/><ellipse cx="130.7" cy="640.6" rx="13.9" ry="7.7" transform="rotate(-118.8 130.7 640.6)" fill="white" opacity="1"/><ellipse cx="232.3" cy="615.8" rx="11.0" ry="6.8" transform="rotate(-77.2 232.3 615.8)" fill="white" opacity="1"/><ellipse cx="206.0" cy="697.2" rx="13.5" ry="8.4" transform="rotate(-63.2 206.0 697.2)" fill="white" opacity="1"/><ellipse cx="255.6" cy="745.0" rx="9.0" ry="9.8" transform="rotate(-19.6 255.6 745.0)" fill="white" opacity="1"/><ellipse cx="176.7" cy="586.1" rx="9.7" ry="9.2" transform="rotate(-117.0 176.7 586.1)" fill="white" opacity="1"/><ellipse cx="80.7" cy="716.7" rx="13.3" ry="8.9" transform="rotate(-174.8 80.7 716.7)" fill="white" opacity="1"/><ellipse cx="292.3" cy="726.8" rx="9.1" ry="8.5" transform="rotate(-30.0 292.3 726.8)" fill="white" opacity="1"/><ellipse cx="123.2" cy="699.8" rx="15.9" ry="6.6" transform="rotate(-116.1 123.2 699.8)" fill="white" opacity="1"/><ellipse cx="199.9" cy="664.1" rx="15.8" ry="9.1" transform="rotate(-102.7 199.9 664.1)" fill="white" opacity="1"/><ellipse cx="258.9" cy="737.4" rx="14.9" ry="9.5" transform="rotate(-11.3 258.9 737.4)" fill="white" opacity="1"/><ellipse cx="199.3" cy="745.3" rx="14.8" ry="9.4" transform="rotate(-38.2 199.3 745.3)" fill="white" opacity="1"/><ellipse cx="192.9" cy="594.4" rx="13.4" ry="9.0" transform="rotate(-64.6 192.9 594.4)" fill="white" opacity="1"/><ellipse cx="243.1" cy="756.1" rx="15.4" ry="7.6" transform="rotate(9.0 243.1 756.1)" fill="white" opacity="1"/><ellipse cx="201.6" cy="663.7" rx="12.1" ry="8.2" transform="rotate(-84.8 201.6 663.7)" fill="white" opacity="1"/><ellipse cx="237.2" cy="628.3" rx="12.1" ry="8.8" transform="rotate(-45.8 237.2 628.3)" fill="white" opacity="1"/><ellipse cx="239.2" cy="688.0" rx="11.6" ry="8.8" transform="rotate(-34.5 239.2 688.0)" fill="white" opacity="1"/><ellipse cx="135.1" cy="732.1" rx="13.7" ry="6.5" transform="rotate(-123.1 135.1 732.1)" fill="white" opacity="1"/><ellipse cx="164.1" cy="604.7" rx="9.7" ry="6.7" transform="rotate(-109.5 164.1 604.7)" fill="white" opacity="1"/><ellipse cx="88.1" cy="718.0" rx="10.0" ry="8.0" transform="rotate(-144.1 88.1 718.0)" fill="white" opacity="1"/><ellipse cx="171.9" cy="635.3" rx="12.2" ry="8.1" transform="rotate(-91.3 171.9 635.3)" fill="white" opacity="1"/><ellipse cx="206.4" cy="640.2" rx="13.8" ry="9.5" transform="rotate(-56.8 206.4 640.2)" fill="white" opacity="1"/><ellipse cx="213.2" cy="635.8" rx="9.0" ry="8.0" transform="rotate(-53.1 213.2 635.8)" fill="white" opacity="1"/><ellipse cx="105.1" cy="663.6" rx="15.7" ry="7.2" transform="rotate(-111.0 105.1 663.6)" fill="white" opacity="1"/><ellipse cx="196.9" cy="630.4" rx="12.2" ry="6.7" transform="rotate(-78.0 196.9 630.4)" fill="white" opacity="1"/><ellipse cx="279.7" cy="641.8" rx="15.8" ry="7.5" transform="rotate(-60.4 279.7 641.8)" fill="white" opacity="1"/><ellipse cx="231.0" cy="619.8" rx="9.3" ry="8.2" transform="rotate(-73.0 231.0 619.8)" fill="white" opacity="1"/><ellipse cx="104.0" cy="707.1" rx="15.2" ry="8.6" transform="rotate(-155.8 104.0 707.1)" fill="white" opacity="1"/><ellipse cx="197.6" cy="768.0" rx="11.5" ry="9.1" transform="rotate(-29.1 197.6 768.0)" fill="white" opacity="1"/><ellipse cx="247.4" cy="748.9" rx="12.8" ry="9.6" transform="rotate(-12.8 247.4 748.9)" fill="white" opacity="1"/><ellipse cx="251.3" cy="675.0" rx="11.7" ry="7.5" transform="rotate(-51.4 251.3 675.0)" fill="white" opacity="1"/><ellipse cx="248.7" cy="584.0" rx="13.7" ry="6.6" transform="rotate(-63.5 248.7 584.0)" fill="white" opacity="1"/><ellipse cx="235.7" cy="760.4" rx="13.6" ry="8.8" transform="rotate(-0.3 235.7 760.4)" fill="white" opacity="1"/><ellipse cx="225.9" cy="715.8" rx="13.8" ry="9.5" transform="rotate(-58.9 225.9 715.8)" fill="white" opacity="1"/><ellipse cx="196.8" cy="748.3" rx="9.9" ry="9.6" transform="rotate(-58.3 196.8 748.3)" fill="white" opacity="1"/><ellipse cx="223.7" cy="610.0" rx="15.9" ry="8.1" transform="rotate(-89.0 223.7 610.0)" fill="white" opacity="1"/><ellipse cx="214.1" cy="586.1" rx="13.6" ry="9.4" transform="rotate(-99.4 214.1 586.1)" fill="white" opacity="1"/><ellipse cx="127.9" cy="631.8" rx="10.4" ry="8.7" transform="rotate(-96.5 127.9 631.8)" fill="white" opacity="1"/><ellipse cx="175.6" cy="716.0" rx="15.4" ry="9.4" transform="rotate(-105.0 175.6 716.0)" fill="white" opacity="1"/><ellipse cx="277.4" cy="614.4" rx="14.8" ry="6.8" transform="rotate(-67.9 277.4 614.4)" fill="white" opacity="1"/><ellipse cx="93.1" cy="689.8" rx="9.8" ry="8.6" transform="rotate(-155.6 93.1 689.8)" fill="white" opacity="1"/><ellipse cx="225.7" cy="676.1" rx="11.2" ry="7.0" transform="rotate(-53.0 225.7 676.1)" fill="white" opacity="1"/><ellipse cx="237.4" cy="704.5" rx="14.9" ry="9.4" transform="rotate(-33.8 237.4 704.5)" fill="white" opacity="1"/><ellipse cx="244.3" cy="660.1" rx="14.3" ry="7.9" transform="rotate(-57.9 244.3 660.1)" fill="white" opacity="1"/><ellipse cx="226.1" cy="594.1" rx="9.7" ry="9.6" transform="rotate(-56.6 226.1 594.1)" fill="white" opacity="1"/><ellipse cx="139.0" cy="698.1" rx="12.6" ry="6.8" transform="rotate(-139.5 139.0 698.1)" fill="white" opacity="1"/><ellipse cx="211.9" cy="661.8" rx="13.0" ry="9.7" transform="rotate(-96.8 211.9 661.8)" fill="white" opacity="1"/><ellipse cx="198.0" cy="630.2" rx="11.7" ry="7.1" transform="rotate(-68.8 198.0 630.2)" fill="white" opacity="1"/><ellipse cx="121.6" cy="721.4" rx="12.2" ry="8.3" transform="rotate(-163.7 121.6 721.4)" fill="white" opacity="1"/><ellipse cx="158.1" cy="665.9" rx="13.3" ry="7.4" transform="rotate(-79.3 158.1 665.9)" fill="white" opacity="1"/><ellipse cx="149.3" cy="621.0" rx="14.1" ry="8.8" transform="rotate(-97.8 149.3 621.0)" fill="white" opacity="1"/></mask>
<clipPath id="mc2"><path d="M67.9,723.2 C70.0,712.9 75.1,692.3 84.9,676.9 C94.7,661.5 114.4,644.8 126.5,630.7 C138.6,616.6 148.3,601.1 157.3,592.1 C166.3,583.1 172.7,579.5 180.4,576.7 C188.1,573.9 192.0,574.4 203.6,575.2 C215.2,576.0 237.0,575.9 249.8,581.3 C262.6,586.7 271.6,599.3 280.6,607.5 C289.6,615.7 299.9,616.6 303.8,630.7 C307.7,644.8 305.1,676.9 303.8,692.3 C302.5,707.7 302.5,712.9 296.1,723.2 C289.7,733.5 278.1,746.3 265.2,754.0 C252.3,761.7 231.8,764.8 219.0,769.4 C206.2,774.0 201.0,780.9 188.2,781.7 C175.3,782.5 156.0,777.4 141.9,774.1 C127.8,770.8 115.0,767.6 103.4,761.7 C91.8,755.8 78.4,745.0 72.5,738.6 C66.6,732.2 65.8,733.5 67.9,723.2 Z"/></clipPath>
<filter id="tf12" x="34" y="569" width="316" height="237" filterUnits="userSpaceOnUse" color-interpolation-filters="sRGB"><feTurbulence type="fractalNoise" baseFrequency="0.1" numOctaves="3" seed="17"/><feColorMatrix type="matrix" values="0.9020 0 0 0 0.1373 0.8478 0 0 0 0.1055 0.6765 0 0 0 -0.0343 0 0 0 0 1"/></filter>
<clipPath id="pc2"><rect x="34" y="569" width="316" height="237"/></clipPath>
<filter id="pb2" x="24" y="559" width="336" height="257" filterUnits="userSpaceOnUse"><feGaussianBlur stdDeviation="0.7"/></filter>
<filter id="tf13" x="25" y="944" width="316" height="237" filterUnits="userSpaceOnUse" color-interpolation-filters="sRGB"><feTurbulence type="fractalNoise" baseFrequency="0.08" numOctaves="3" seed="21"/><feColorMatrix type="matrix" values="0.6039 0 0 0 0.1098 0.4314 0 0 0 0.4706 0.3451 0 0 0 0.4941 0 0 0 0 1"/></filter>
<clipPath id="tc13"><path d="M20.0,989.0 C27.5,979.0 52.2,996.2 65.0,1004.0 C77.8,1011.8 93.3,1026.3 97.0,1036.0 C100.7,1045.7 99.8,1057.3 87.0,1062.0 C74.2,1066.7 31.2,1076.2 20.0,1064.0 C8.8,1051.8 12.5,999.0 20.0,989.0 Z"/></clipPath>
<radialGradient id="lobeg" cx="0.5" cy="0.45" r="0.6" fx="0.45" fy="0.3"><stop offset="0" stop-color="rgb(226,230,178)"/><stop offset="0.5" stop-color="rgb(198,208,142)"/><stop offset="0.82" stop-color="rgb(155,170,102)"/><stop offset="1" stop-color="rgb(115,126,76)"/></radialGradient>
<clipPath id="mc3"><path d="M20.0,1058.8 C24.7,1036.1 38.4,1053.9 48.3,1052.6 C58.2,1051.3 70.8,1054.6 79.3,1051.0 C87.8,1047.4 94.1,1039.2 99.5,1030.9 C104.9,1022.6 106.2,1006.8 111.9,1001.4 C117.6,996.0 124.8,1001.9 133.6,998.3 C142.4,994.7 156.8,983.3 164.6,979.7 C172.3,976.1 174.9,974.8 180.1,976.6 C185.3,978.4 189.1,990.8 195.6,990.5 C202.1,990.2 212.4,976.3 218.9,975.0 C225.4,973.7 229.2,978.9 234.4,982.8 C239.6,986.7 244.7,994.4 249.9,998.3 C255.1,1002.2 258.9,1004.2 265.4,1006.0 C271.9,1007.8 280.9,1009.1 288.7,1009.1 C296.5,1009.1 305.5,1003.9 312.0,1006.0 C318.5,1008.1 323.6,1016.4 327.5,1021.6 C331.4,1026.8 331.9,1031.9 335.2,1037.1 C338.4,1042.3 345.0,1027.3 347.0,1052.6 C349.0,1077.9 401.5,1166.3 347.0,1189.0 C292.5,1211.7 74.5,1210.7 20.0,1189.0 C-34.5,1167.3 15.3,1081.5 20.0,1058.8 Z"/></clipPath>
<filter id="tf14" x="25" y="944" width="316" height="237" filterUnits="userSpaceOnUse" color-interpolation-filters="sRGB"><feTurbulence type="fractalNoise" baseFrequency="0.06" numOctaves="3" seed="22"/><feColorMatrix type="matrix" values="0.6667 0 0 0 0.4216 0.5725 0 0 0 0.5039 0.6275 0 0 0 0.2745 0 0 0 0 1"/></filter>
<filter id="crb3" x="25" y="944" width="316" height="237" filterUnits="userSpaceOnUse"><feGaussianBlur stdDeviation="2"/></filter>
<clipPath id="pc3"><rect x="25" y="944" width="316" height="237"/></clipPath>
<filter id="pb3" x="15" y="934" width="336" height="257" filterUnits="userSpaceOnUse"><feGaussianBlur stdDeviation="0.7"/></filter>
<clipPath id="glyclip"><rect x="251" y="1400" width="300" height="380"/></clipPath>
</defs>
<rect width="2050" height="1776" fill="#fff"/>
<text x="73" y="68" font-family="'Liberation Sans', Arial, sans-serif" font-weight="bold" font-size="56">a.</text>
<text x="80" y="1312" font-family="'Liberation Sans', Arial, sans-serif" font-weight="bold" font-size="53">b.</text>
<text id="t_mil" x="28.7" y="145" font-family="Carlito, 'Liberation Sans', sans-serif" font-weight="bold" font-size="43" fill="#ff0000" textLength="463.5" lengthAdjust="spacingAndGlyphs"><tspan font-style="italic">Millepora</tspan> cf. <tspan font-style="italic">platyphylla.</tspan></text>
<text id="t_poc" x="49.0" y="531" font-family="Carlito, 'Liberation Sans', sans-serif" font-weight="bold" font-size="43" fill="#0070c0" textLength="293.8" lengthAdjust="spacingAndGlyphs"><tspan font-style="italic">Pocillopora</tspan> spp.</text>
<text id="t_por" x="82.7" y="904.5" font-family="Carlito, 'Liberation Sans', sans-serif" font-weight="bold" font-size="43" fill="#00b050" textLength="214.4" lengthAdjust="spacingAndGlyphs"><tspan font-style="italic">Porites</tspan> spp.</text>
<g clip-path="url(#pc1)"><g filter="url(#pb1)"><linearGradient id="w1" x1="0" y1="0" x2="0" y2="1"><stop offset="0" stop-color="rgb(60,150,160)"/><stop offset="0.3" stop-color="rgb(50,120,130)"/><stop offset="1" stop-color="rgb(40,85,95)"/></linearGradient>
<rect x="28" y="179" width="316" height="237" fill="url(#w1)"/>
<g clip-path="url(#tc1)"><rect x="28" y="179" width="316" height="237" filter="url(#tf1)" opacity="0.92"/></g>
<g clip-path="url(#tc2)"><rect x="28" y="179" width="316" height="237" filter="url(#tf2)" opacity="1.0"/></g>
<g clip-path="url(#tc3)"><rect x="28" y="179" width="316" height="237" filter="url(#tf3)" opacity="1.0"/></g>
<path d="M143.0,377.0 C150.5,369.0 186.3,373.0 208.0,371.0 C229.7,369.0 259.3,361.2 273.0,365.0 C286.7,368.8 288.3,385.0 290.0,394.0 C291.7,403.0 304.2,414.8 283.0,419.0 C261.8,423.2 186.3,426.0 163.0,419.0 C139.7,412.0 135.5,385.0 143.0,377.0 Z" fill="rgb(30,42,48)"/>
<g clip-path="url(#tc4)"><rect x="28" y="179" width="316" height="237" filter="url(#tf4)" opacity="1.0"/></g>
<g clip-path="url(#tc5)"><rect x="28" y="179" width="316" height="237" filter="url(#tf5)" opacity="1.0"/></g>
<g clip-path="url(#mc1)" filter="url(#pb1s)"><ellipse cx="233.0" cy="297.0" rx="16.0" ry="28.0" transform="rotate(10.0 233.0 297.0)" fill="rgb(35,32,15)" opacity="0.6"/><ellipse cx="208.0" cy="329.0" rx="14.0" ry="22.0" transform="rotate(0.0 208.0 329.0)" fill="rgb(35,32,15)" opacity="0.6"/><ellipse cx="260.0" cy="307.0" rx="8.0" ry="25.0" transform="rotate(20.0 260.0 307.0)" fill="rgb(35,32,15)" opacity="0.6"/><ellipse cx="158.0" cy="339.0" rx="12.0" ry="20.0" transform="rotate(0.0 158.0 339.0)" fill="rgb(35,32,15)" opacity="0.6"/><ellipse cx="118.0" cy="314.0" rx="8.0" ry="14.0" transform="rotate(0.0 118.0 314.0)" fill="rgb(35,32,15)" opacity="0.6"/><ellipse cx="178.0" cy="294.0" rx="8.0" ry="18.0" transform="rotate(0.0 178.0 294.0)" fill="rgb(35,32,15)" opacity="0.6"/></g>
<ellipse cx="60.0" cy="331.0" rx="11.0" ry="7.0" transform="rotate(40.0 60.0 331.0)" fill="rgb(30,30,35)" opacity="0.9"/></g></g>
<g clip-path="url(#pc2)"><g filter="url(#pb2)"><g><rect x="34" y="569" width="316" height="237" filter="url(#tf6)" opacity="1.0"/></g>
<g clip-path="url(#tc7)"><rect x="34" y="569" width="316" height="237" filter="url(#tf7)" opacity="1.0"/></g>
<g clip-path="url(#tc8)"><rect x="34" y="569" width="316" height="237" filter="url(#tf8)" opacity="1.0"/></g>
<ellipse cx="326" cy="709" rx="26" ry="40" fill="rgb(70,80,35)" opacity="0.45" filter="url(#pshade2)"/>
<g clip-path="url(#tc9)"><rect x="34" y="569" width="316" height="237" filter="url(#tf9)" opacity="1.0"/></g>
<g clip-path="url(#tc10)"><rect x="34" y="569" width="316" height="237" filter="url(#tf10)" opacity="1.0"/></g>
<g clip-path="url(#tc11)"><rect x="34" y="569" width="316" height="237" filter="url(#tf11)" opacity="1.0"/></g>
<path d="M67.9,723.2 C70.0,712.9 75.1,692.3 84.9,676.9 C94.7,661.5 114.4,644.8 126.5,630.7 C138.6,616.6 148.3,601.1 157.3,592.1 C166.3,583.1 172.7,579.5 180.4,576.7 C188.1,573.9 192.0,574.4 203.6,575.2 C215.2,576.0 237.0,575.9 249.8,581.3 C262.6,586.7 271.6,599.3 280.6,607.5 C289.6,615.7 299.9,616.6 303.8,630.7 C307.7,644.8 305.1,676.9 303.8,692.3 C302.5,707.7 302.5,712.9 296.1,723.2 C289.7,733.5 278.1,746.3 265.2,754.0 C252.3,761.7 231.8,764.8 219.0,769.4 C206.2,774.0 201.0,780.9 188.2,781.7 C175.3,782.5 156.0,777.4 141.9,774.1 C127.8,770.8 115.0,767.6 103.4,761.7 C91.8,755.8 78.4,745.0 72.5,738.6 C66.6,732.2 65.8,733.5 67.9,723.2 Z" fill="rgb(45,42,26)"/>
<g mask="url(#brm)" clip-path="url(#mc2)"><g><rect x="34" y="569" width="316" height="237" filter="url(#tf12)" opacity="1.0"/></g></g></g></g>
<g clip-path="url(#pc3)"><g filter="url(#pb3)"><linearGradient id="w3" x1="0" y1="0" x2="1" y2="0.25"><stop offset="0" stop-color="rgb(85,178,184)"/><stop offset="1" stop-color="rgb(100,200,210)"/></linearGradient>
<rect x="25" y="944" width="316" height="237" fill="url(#w3)"/>
<g clip-path="url(#tc13)"><rect x="25" y="944" width="316" height="237" filter="url(#tf13)" opacity="0.7"/></g>
<path d="M20.0,1058.8 C24.7,1036.1 38.4,1053.9 48.3,1052.6 C58.2,1051.3 70.8,1054.6 79.3,1051.0 C87.8,1047.4 94.1,1039.2 99.5,1030.9 C104.9,1022.6 106.2,1006.8 111.9,1001.4 C117.6,996.0 124.8,1001.9 133.6,998.3 C142.4,994.7 156.8,983.3 164.6,979.7 C172.3,976.1 174.9,974.8 180.1,976.6 C185.3,978.4 189.1,990.8 195.6,990.5 C202.1,990.2 212.4,976.3 218.9,975.0 C225.4,973.7 229.2,978.9 234.4,982.8 C239.6,986.7 244.7,994.4 249.9,998.3 C255.1,1002.2 258.9,1004.2 265.4,1006.0 C271.9,1007.8 280.9,1009.1 288.7,1009.1 C296.5,1009.1 305.5,1003.9 312.0,1006.0 C318.5,1008.1 323.6,1016.4 327.5,1021.6 C331.4,1026.8 331.9,1031.9 335.2,1037.1 C338.4,1042.3 345.0,1027.3 347.0,1052.6 C349.0,1077.9 401.5,1166.3 347.0,1189.0 C292.5,1211.7 74.5,1210.7 20.0,1189.0 C-34.5,1167.3 15.3,1081.5 20.0,1058.8 Z" fill="rgb(110,118,80)"/>
<g clip-path="url(#mc3)"><ellipse cx="221.3" cy="977.2" rx="11.9" ry="8.7" transform="rotate(23.6 221.3 977.2)" fill="url(#lobeg)" opacity="1"/><ellipse cx="224.2" cy="979.9" rx="9.3" ry="7.8" transform="rotate(24.6 224.2 979.9)" fill="url(#lobeg)" opacity="1"/><ellipse cx="173.4" cy="983.1" rx="7.4" ry="5.8" transform="rotate(-8.2 173.4 983.1)" fill="url(#lobeg)" opacity="1"/><ellipse cx="181.2" cy="985.6" rx="8.1" ry="7.5" transform="rotate(26.0 181.2 985.6)" fill="url(#lobeg)" opacity="1"/><ellipse cx="168.2" cy="987.2" rx="8.8" ry="7.3" transform="rotate(-8.2 168.2 987.2)" fill="url(#lobeg)" opacity="1"/><ellipse cx="181.3" cy="991.2" rx="11.9" ry="6.7" transform="rotate(25.3 181.3 991.2)" fill="url(#lobeg)" opacity="1"/><ellipse cx="206.8" cy="992.7" rx="10.5" ry="9.2" transform="rotate(7.7 206.8 992.7)" fill="url(#lobeg)" opacity="1"/><ellipse cx="146.0" cy="993.7" rx="9.9" ry="8.7" transform="rotate(19.6 146.0 993.7)" fill="url(#lobeg)" opacity="1"/><ellipse cx="216.2" cy="994.7" rx="12.0" ry="6.3" transform="rotate(-19.4 216.2 994.7)" fill="url(#lobeg)" opacity="1"/><ellipse cx="167.0" cy="995.6" rx="10.3" ry="7.4" transform="rotate(-23.0 167.0 995.6)" fill="url(#lobeg)" opacity="1"/><ellipse cx="166.5" cy="999.0" rx="10.5" ry="8.1" transform="rotate(26.1 166.5 999.0)" fill="url(#lobeg)" opacity="1"/><ellipse cx="134.5" cy="1000.2" rx="12.8" ry="8.6" transform="rotate(14.5 134.5 1000.2)" fill="url(#lobeg)" opacity="1"/><ellipse cx="231.7" cy="1001.2" rx="12.3" ry="6.8" transform="rotate(11.4 231.7 1001.2)" fill="url(#lobeg)" opacity="1"/><ellipse cx="180.7" cy="1002.8" rx="12.0" ry="8.3" transform="rotate(-14.9 180.7 1002.8)" fill="url(#lobeg)" opacity="1"/><ellipse cx="222.4" cy="1003.4" rx="12.9" ry="8.7" transform="rotate(15.7 222.4 1003.4)" fill="url(#lobeg)" opacity="1"/><ellipse cx="245.0" cy="1004.8" rx="13.9" ry="9.3" transform="rotate(29.2 245.0 1004.8)" fill="url(#lobeg)" opacity="1"/><ellipse cx="227.0" cy="1007.3" rx="14.7" ry="7.6" transform="rotate(1.1 227.0 1007.3)" fill="url(#lobeg)" opacity="1"/><ellipse cx="216.1" cy="1008.3" rx="12.2" ry="10.6" transform="rotate(-10.2 216.1 1008.3)" fill="url(#lobeg)" opacity="1"/><ellipse cx="223.6" cy="1009.7" rx="10.2" ry="8.7" transform="rotate(-13.2 223.6 1009.7)" fill="url(#lobeg)" opacity="1"/><ellipse cx="280.7" cy="1010.5" rx="12.3" ry="8.8" transform="rotate(27.5 280.7 1010.5)" fill="url(#lobeg)" opacity="1"/><ellipse cx="309.8" cy="1011.4" rx="11.7" ry="8.7" transform="rotate(-19.2 309.8 1011.4)" fill="url(#lobeg)" opacity="1"/><ellipse cx="131.4" cy="1012.3" rx="14.9" ry="8.8" transform="rotate(4.7 131.4 1012.3)" fill="url(#lobeg)" opacity="1"/><ellipse cx="125.7" cy="1013.6" rx="9.8" ry="7.4" transform="rotate(-9.0 125.7 1013.6)" fill="url(#lobeg)" opacity="1"/><ellipse cx="229.9" cy="1014.3" rx="11.5" ry="9.2" transform="rotate(25.5 229.9 1014.3)" fill="url(#lobeg)" opacity="1"/><ellipse cx="146.9" cy="1015.2" rx="13.7" ry="10.6" transform="rotate(2.1 146.9 1015.2)" fill="url(#lobeg)" opacity="1"/><ellipse cx="255.3" cy="1015.9" rx="14.3" ry="11.4" transform="rotate(2.8 255.3 1015.9)" fill="url(#lobeg)" opacity="1"/><ellipse cx="255.0" cy="1016.7" rx="11.7" ry="9.5" transform="rotate(-17.4 255.0 1016.7)" fill="url(#lobeg)" opacity="1"/><ellipse cx="233.3" cy="1017.3" rx="15.7" ry="11.1" transform="rotate(5.1 233.3 1017.3)" fill="url(#lobeg)" opacity="1"/><ellipse cx="109.4" cy="1018.1" rx="12.3" ry="11.5" transform="rotate(5.5 109.4 1018.1)" fill="url(#lobeg)" opacity="1"/><ellipse cx="152.2" cy="1018.8" rx="15.7" ry="7.8" transform="rotate(-7.7 152.2 1018.8)" fill="url(#lobeg)" opacity="1"/><ellipse cx="272.3" cy="1019.3" rx="14.0" ry="9.0" transform="rotate(-10.3 272.3 1019.3)" fill="url(#lobeg)" opacity="1"/><ellipse cx="177.8" cy="1020.2" rx="11.3" ry="10.2" transform="rotate(-0.3 177.8 1020.2)" fill="url(#lobeg)" opacity="1"/><ellipse cx="254.5" cy="1021.0" rx="10.8" ry="11.5" transform="rotate(10.3 254.5 1021.0)" fill="url(#lobeg)" opacity="1"/><ellipse cx="213.7" cy="1022.0" rx="10.3" ry="8.6" transform="rotate(29.0 213.7 1022.0)" fill="url(#lobeg)" opacity="1"/><ellipse cx="255.6" cy="1023.4" rx="11.0" ry="11.0" transform="rotate(-9.2 255.6 1023.4)" fill="url(#lobeg)" opacity="1"/><ellipse cx="124.0" cy="1024.1" rx="11.9" ry="10.9" transform="rotate(-18.9 124.0 1024.1)" fill="url(#lobeg)" opacity="1"/><ellipse cx="278.8" cy="1025.1" rx="15.9" ry="8.6" transform="rotate(18.6 278.8 1025.1)" fill="url(#lobeg)" opacity="1"/><ellipse cx="296.3" cy="1026.4" rx="15.5" ry="12.2" transform="rotate(-28.6 296.3 1026.4)" fill="url(#lobeg)" opacity="1"/><ellipse cx="135.4" cy="1027.0" rx="15.9" ry="9.5" transform="rotate(13.9 135.4 1027.0)" fill="url(#lobeg)" opacity="1"/><ellipse cx="117.8" cy="1027.8" rx="14.5" ry="11.1" transform="rotate(18.2 117.8 1027.8)" fill="url(#lobeg)" opacity="1"/><ellipse cx="176.2" cy="1028.7" rx="13.9" ry="9.2" transform="rotate(27.9 176.2 1028.7)" fill="url(#lobeg)" opacity="1"/><ellipse cx="281.0" cy="1029.5" rx="17.1" ry="8.4" transform="rotate(3.6 281.0 1029.5)" fill="url(#lobeg)" opacity="1"/><ellipse cx="291.8" cy="1030.5" rx="11.7" ry="8.4" transform="rotate(22.1 291.8 1030.5)" fill="url(#lobeg)" opacity="1"/><ellipse cx="207.4" cy="1031.4" rx="16.5" ry="12.4" transform="rotate(13.8 207.4 1031.4)" fill="url(#lobeg)" opacity="1"/><ellipse cx="219.5" cy="1031.9" rx="14.2" ry="12.0" transform="rotate(4.8 219.5 1031.9)" fill="url(#lobeg)" opacity="1"/><ellipse cx="115.5" cy="1032.5" rx="13.0" ry="9.0" transform="rotate(-6.4 115.5 1032.5)" fill="url(#lobeg)" opacity="1"/><ellipse cx="155.9" cy="1033.1" rx="17.5" ry="11.1" transform="rotate(-16.2 155.9 1033.1)" fill="url(#lobeg)" opacity="1"/><ellipse cx="308.7" cy="1033.9" rx="17.7" ry="12.5" transform="rotate(22.0 308.7 1033.9)" fill="url(#lobeg)" opacity="1"/><ellipse cx="278.9" cy="1034.4" rx="17.0" ry="11.3" transform="rotate(17.3 278.9 1034.4)" fill="url(#lobeg)" opacity="1"/><ellipse cx="158.6" cy="1035.1" rx="13.9" ry="11.4" transform="rotate(8.4 158.6 1035.1)" fill="url(#lobeg)" opacity="1"/><ellipse cx="197.8" cy="1035.7" rx="17.9" ry="12.9" transform="rotate(-28.9 197.8 1035.7)" fill="url(#lobeg)" opacity="1"/><ellipse cx="196.7" cy="1036.3" rx="11.9" ry="10.1" transform="rotate(-20.0 196.7 1036.3)" fill="url(#lobeg)" opacity="1"/><ellipse cx="334.5" cy="1036.9" rx="17.8" ry="12.5" transform="rotate(-19.3 334.5 1036.9)" fill="url(#lobeg)" opacity="1"/><ellipse cx="269.0" cy="1037.3" rx="11.3" ry="12.5" transform="rotate(-20.5 269.0 1037.3)" fill="url(#lobeg)" opacity="1"/><ellipse cx="241.4" cy="1037.9" rx="14.4" ry="11.6" transform="rotate(-29.3 241.4 1037.9)" fill="url(#lobeg)" opacity="1"/><ellipse cx="140.0" cy="1038.3" rx="15.4" ry="11.3" transform="rotate(-12.1 140.0 1038.3)" fill="url(#lobeg)" opacity="1"/><ellipse cx="288.2" cy="1039.5" rx="16.8" ry="11.6" transform="rotate(12.4 288.2 1039.5)" fill="url(#lobeg)" opacity="1"/><ellipse cx="141.1" cy="1040.3" rx="15.8" ry="9.6" transform="rotate(18.9 141.1 1040.3)" fill="url(#lobeg)" opacity="1"/><ellipse cx="128.8" cy="1040.9" rx="17.1" ry="13.6" transform="rotate(-24.7 128.8 1040.9)" fill="url(#lobeg)" opacity="1"/><ellipse cx="246.9" cy="1041.3" rx="15.7" ry="11.7" transform="rotate(21.8 246.9 1041.3)" fill="url(#lobeg)" opacity="1"/><ellipse cx="117.9" cy="1042.0" rx="15.9" ry="10.6" transform="rotate(-1.5 117.9 1042.0)" fill="url(#lobeg)" opacity="1"/><ellipse cx="211.4" cy="1042.6" rx="15.0" ry="9.2" transform="rotate(13.2 211.4 1042.6)" fill="url(#lobeg)" opacity="1"/><ellipse cx="333.7" cy="1043.1" rx="12.3" ry="10.5" transform="rotate(-19.9 333.7 1043.1)" fill="url(#lobeg)" opacity="1"/><ellipse cx="186.6" cy="1043.8" rx="12.7" ry="11.6" transform="rotate(-25.7 186.6 1043.8)" fill="url(#lobeg)" opacity="1"/><ellipse cx="167.3" cy="1044.3" rx="15.5" ry="10.0" transform="rotate(25.9 167.3 1044.3)" fill="url(#lobeg)" opacity="1"/><ellipse cx="178.2" cy="1044.7" rx="13.4" ry="9.5" transform="rotate(11.8 178.2 1044.7)" fill="url(#lobeg)" opacity="1"/><ellipse cx="335.5" cy="1045.1" rx="12.9" ry="12.0" transform="rotate(-28.4 335.5 1045.1)" fill="url(#lobeg)" opacity="1"/><ellipse cx="116.4" cy="1045.6" rx="12.8" ry="11.0" transform="rotate(-13.5 116.4 1045.6)" fill="url(#lobeg)" opacity="1"/><ellipse cx="144.7" cy="1046.3" rx="14.7" ry="10.6" transform="rotate(23.0 144.7 1046.3)" fill="url(#lobeg)" opacity="1"/><ellipse cx="115.9" cy="1046.9" rx="13.1" ry="10.6" transform="rotate(4.7 115.9 1046.9)" fill="url(#lobeg)" opacity="1"/><ellipse cx="294.9" cy="1047.5" rx="13.8" ry="9.2" transform="rotate(-17.5 294.9 1047.5)" fill="url(#lobeg)" opacity="1"/><ellipse cx="311.3" cy="1048.0" rx="15.3" ry="12.0" transform="rotate(25.7 311.3 1048.0)" fill="url(#lobeg)" opacity="1"/><ellipse cx="194.4" cy="1048.3" rx="17.8" ry="12.6" transform="rotate(-16.2 194.4 1048.3)" fill="url(#lobeg)" opacity="1"/><ellipse cx="236.5" cy="1049.1" rx="12.1" ry="14.2" transform="rotate(-28.6 236.5 1049.1)" fill="url(#lobeg)" opacity="1"/><ellipse cx="249.1" cy="1049.8" rx="16.4" ry="14.1" transform="rotate(29.1 249.1 1049.8)" fill="url(#lobeg)" opacity="1"/><ellipse cx="249.1" cy="1050.3" rx="14.5" ry="11.0" transform="rotate(18.2 249.1 1050.3)" fill="url(#lobeg)" opacity="1"/><ellipse cx="143.7" cy="1051.0" rx="13.9" ry="9.7" transform="rotate(-22.6 143.7 1051.0)" fill="url(#lobeg)" opacity="1"/><ellipse cx="330.6" cy="1051.6" rx="14.1" ry="13.8" transform="rotate(-7.4 330.6 1051.6)" fill="url(#lobeg)" opacity="1"/><ellipse cx="186.0" cy="1052.3" rx="14.6" ry="11.9" transform="rotate(17.1 186.0 1052.3)" fill="url(#lobeg)" opacity="1"/><ellipse cx="310.1" cy="1052.9" rx="12.7" ry="13.8" transform="rotate(15.8 310.1 1052.9)" fill="url(#lobeg)" opacity="1"/><ellipse cx="223.2" cy="1053.4" rx="12.4" ry="12.3" transform="rotate(-15.8 223.2 1053.4)" fill="url(#lobeg)" opacity="1"/><ellipse cx="232.3" cy="1054.2" rx="12.8" ry="11.3" transform="rotate(22.8 232.3 1054.2)" fill="url(#lobeg)" opacity="1"/><ellipse cx="280.8" cy="1054.4" rx="18.7" ry="11.4" transform="rotate(8.1 280.8 1054.4)" fill="url(#lobeg)" opacity="1"/><ellipse cx="124.1" cy="1054.9" rx="18.5" ry="13.2" transform="rotate(29.4 124.1 1054.9)" fill="url(#lobeg)" opacity="1"/><ellipse cx="38.1" cy="1055.9" rx="19.5" ry="14.8" transform="rotate(28.6 38.1 1055.9)" fill="url(#lobeg)" opacity="1"/><ellipse cx="330.2" cy="1056.3" rx="14.1" ry="9.7" transform="rotate(-11.8 330.2 1056.3)" fill="url(#lobeg)" opacity="1"/><ellipse cx="136.9" cy="1057.0" rx="13.2" ry="13.7" transform="rotate(-14.9 136.9 1057.0)" fill="url(#lobeg)" opacity="1"/><ellipse cx="176.4" cy="1057.4" rx="18.0" ry="12.4" transform="rotate(-7.5 176.4 1057.4)" fill="url(#lobeg)" opacity="1"/><ellipse cx="341.0" cy="1057.7" rx="16.6" ry="9.9" transform="rotate(-12.5 341.0 1057.7)" fill="url(#lobeg)" opacity="1"/><ellipse cx="310.4" cy="1058.0" rx="17.9" ry="12.8" transform="rotate(-2.1 310.4 1058.0)" fill="url(#lobeg)" opacity="1"/><ellipse cx="302.9" cy="1058.5" rx="16.1" ry="9.8" transform="rotate(20.6 302.9 1058.5)" fill="url(#lobeg)" opacity="1"/><ellipse cx="340.3" cy="1059.2" rx="15.3" ry="12.7" transform="rotate(10.1 340.3 1059.2)" fill="url(#lobeg)" opacity="1"/><ellipse cx="173.0" cy="1059.4" rx="20.8" ry="14.6" transform="rotate(11.1 173.0 1059.4)" fill="url(#lobeg)" opacity="1"/><ellipse cx="81.8" cy="1059.8" rx="20.5" ry="13.4" transform="rotate(-21.0 81.8 1059.8)" fill="url(#lobeg)" opacity="1"/><ellipse cx="131.8" cy="1060.5" rx="15.8" ry="12.7" transform="rotate(-8.6 131.8 1060.5)" fill="url(#lobeg)" opacity="1"/><ellipse cx="50.9" cy="1061.3" rx="18.9" ry="15.3" transform="rotate(-4.5 50.9 1061.3)" fill="url(#lobeg)" opacity="1"/><ellipse cx="223.5" cy="1061.9" rx="13.2" ry="14.3" transform="rotate(-22.2 223.5 1061.9)" fill="url(#lobeg)" opacity="1"/><ellipse cx="74.0" cy="1062.3" rx="19.5" ry="10.1" transform="rotate(-19.0 74.0 1062.3)" fill="url(#lobeg)" opacity="1"/><ellipse cx="116.2" cy="1062.8" rx="19.4" ry="15.5" transform="rotate(-29.9 116.2 1062.8)" fill="url(#lobeg)" opacity="1"/><ellipse cx="57.0" cy="1062.9" rx="17.2" ry="11.8" transform="rotate(-1.7 57.0 1062.9)" fill="url(#lobeg)" opacity="1"/><ellipse cx="326.7" cy="1063.2" rx="14.1" ry="13.5" transform="rotate(-29.5 326.7 1063.2)" fill="url(#lobeg)" opacity="1"/><ellipse cx="261.1" cy="1063.9" rx="15.4" ry="11.2" transform="rotate(-7.7 261.1 1063.9)" fill="url(#lobeg)" opacity="1"/><ellipse cx="231.5" cy="1064.4" rx="18.1" ry="15.7" transform="rotate(-24.6 231.5 1064.4)" fill="url(#lobeg)" opacity="1"/><ellipse cx="211.5" cy="1064.9" rx="16.3" ry="11.2" transform="rotate(12.4 211.5 1064.9)" fill="url(#lobeg)" opacity="1"/><ellipse cx="219.7" cy="1065.3" rx="17.1" ry="13.2" transform="rotate(-28.0 219.7 1065.3)" fill="url(#lobeg)" opacity="1"/><ellipse cx="46.6" cy="1066.4" rx="18.9" ry="16.0" transform="rotate(22.3 46.6 1066.4)" fill="url(#lobeg)" opacity="1"/><ellipse cx="205.6" cy="1067.0" rx="20.1" ry="11.4" transform="rotate(15.3 205.6 1067.0)" fill="url(#lobeg)" opacity="1"/><ellipse cx="303.4" cy="1067.6" rx="14.1" ry="14.3" transform="rotate(2.0 303.4 1067.6)" fill="url(#lobeg)" opacity="1"/><ellipse cx="180.4" cy="1067.9" rx="21.7" ry="12.7" transform="rotate(0.3 180.4 1067.9)" fill="url(#lobeg)" opacity="1"/><ellipse cx="83.9" cy="1068.5" rx="13.7" ry="12.8" transform="rotate(26.1 83.9 1068.5)" fill="url(#lobeg)" opacity="1"/><ellipse cx="89.9" cy="1068.6" rx="14.9" ry="13.8" transform="rotate(2.3 89.9 1068.6)" fill="url(#lobeg)" opacity="1"/><ellipse cx="147.3" cy="1069.2" rx="21.3" ry="13.5" transform="rotate(5.7 147.3 1069.2)" fill="url(#lobeg)" opacity="1"/><ellipse cx="247.6" cy="1069.8" rx="19.6" ry="12.7" transform="rotate(-5.7 247.6 1069.8)" fill="url(#lobeg)" opacity="1"/><ellipse cx="56.4" cy="1070.2" rx="17.6" ry="13.3" transform="rotate(-17.0 56.4 1070.2)" fill="url(#lobeg)" opacity="1"/><ellipse cx="329.6" cy="1071.0" rx="20.2" ry="13.9" transform="rotate(19.2 329.6 1071.0)" fill="url(#lobeg)" opacity="1"/><ellipse cx="194.2" cy="1071.6" rx="18.5" ry="11.6" transform="rotate(-28.9 194.2 1071.6)" fill="url(#lobeg)" opacity="1"/><ellipse cx="191.7" cy="1072.0" rx="22.2" ry="14.1" transform="rotate(16.7 191.7 1072.0)" fill="url(#lobeg)" opacity="1"/><ellipse cx="226.6" cy="1072.4" rx="15.1" ry="13.7" transform="rotate(9.1 226.6 1072.4)" fill="url(#lobeg)" opacity="1"/><ellipse cx="90.5" cy="1073.0" rx="16.3" ry="13.1" transform="rotate(13.7 90.5 1073.0)" fill="url(#lobeg)" opacity="1"/><ellipse cx="98.7" cy="1073.6" rx="15.9" ry="11.3" transform="rotate(-17.5 98.7 1073.6)" fill="url(#lobeg)" opacity="1"/><ellipse cx="296.5" cy="1074.1" rx="22.3" ry="11.5" transform="rotate(-0.7 296.5 1074.1)" fill="url(#lobeg)" opacity="1"/><ellipse cx="186.0" cy="1074.4" rx="16.3" ry="15.6" transform="rotate(9.6 186.0 1074.4)" fill="url(#lobeg)" opacity="1"/><ellipse cx="227.5" cy="1074.8" rx="20.4" ry="13.7" transform="rotate(-28.6 227.5 1074.8)" fill="url(#lobeg)" opacity="1"/><ellipse cx="37.5" cy="1075.1" rx="14.5" ry="13.3" transform="rotate(-0.2 37.5 1075.1)" fill="url(#lobeg)" opacity="1"/><ellipse cx="282.8" cy="1076.0" rx="22.9" ry="12.6" transform="rotate(9.0 282.8 1076.0)" fill="url(#lobeg)" opacity="1"/><ellipse cx="174.8" cy="1077.1" rx="17.3" ry="13.8" transform="rotate(-14.6 174.8 1077.1)" fill="url(#lobeg)" opacity="1"/><ellipse cx="22.5" cy="1078.1" rx="19.8" ry="12.5" transform="rotate(-6.6 22.5 1078.1)" fill="url(#lobeg)" opacity="1"/><ellipse cx="319.5" cy="1078.8" rx="18.6" ry="12.9" transform="rotate(-9.6 319.5 1078.8)" fill="url(#lobeg)" opacity="1"/><ellipse cx="68.9" cy="1079.5" rx="16.0" ry="16.6" transform="rotate(14.1 68.9 1079.5)" fill="url(#lobeg)" opacity="1"/><ellipse cx="76.6" cy="1080.3" rx="14.7" ry="15.1" transform="rotate(-8.3 76.6 1080.3)" fill="url(#lobeg)" opacity="1"/><ellipse cx="158.4" cy="1080.7" rx="19.2" ry="14.0" transform="rotate(-14.6 158.4 1080.7)" fill="url(#lobeg)" opacity="1"/><ellipse cx="167.8" cy="1081.1" rx="15.2" ry="13.9" transform="rotate(-16.0 167.8 1081.1)" fill="url(#lobeg)" opacity="1"/><ellipse cx="46.7" cy="1082.0" rx="15.2" ry="14.4" transform="rotate(-10.2 46.7 1082.0)" fill="url(#lobeg)" opacity="1"/><ellipse cx="327.8" cy="1082.9" rx="20.5" ry="14.8" transform="rotate(17.0 327.8 1082.9)" fill="url(#lobeg)" opacity="1"/><ellipse cx="87.7" cy="1083.3" rx="22.3" ry="14.9" transform="rotate(1.1 87.7 1083.3)" fill="url(#lobeg)" opacity="1"/><ellipse cx="318.0" cy="1083.9" rx="17.1" ry="12.4" transform="rotate(3.5 318.0 1083.9)" fill="url(#lobeg)" opacity="1"/><ellipse cx="185.6" cy="1084.8" rx="21.8" ry="13.8" transform="rotate(-23.4 185.6 1084.8)" fill="url(#lobeg)" opacity="1"/><ellipse cx="223.1" cy="1085.1" rx="15.5" ry="14.1" transform="rotate(19.8 223.1 1085.1)" fill="url(#lobeg)" opacity="1"/><ellipse cx="91.3" cy="1085.8" rx="15.3" ry="12.2" transform="rotate(-27.7 91.3 1085.8)" fill="url(#lobeg)" opacity="1"/><ellipse cx="202.9" cy="1086.2" rx="22.6" ry="15.2" transform="rotate(11.1 202.9 1086.2)" fill="url(#lobeg)" opacity="1"/><ellipse cx="83.2" cy="1086.8" rx="19.1" ry="16.3" transform="rotate(6.6 83.2 1086.8)" fill="url(#lobeg)" opacity="1"/><ellipse cx="186.3" cy="1087.5" rx="16.0" ry="14.1" transform="rotate(3.1 186.3 1087.5)" fill="url(#lobeg)" opacity="1"/><ellipse cx="78.6" cy="1088.0" rx="16.6" ry="16.0" transform="rotate(7.3 78.6 1088.0)" fill="url(#lobeg)" opacity="1"/><ellipse cx="64.0" cy="1088.9" rx="16.4" ry="13.9" transform="rotate(14.4 64.0 1088.9)" fill="url(#lobeg)" opacity="1"/><ellipse cx="111.0" cy="1089.8" rx="16.2" ry="12.4" transform="rotate(-0.7 111.0 1089.8)" fill="url(#lobeg)" opacity="1"/><ellipse cx="164.8" cy="1090.1" rx="15.7" ry="18.0" transform="rotate(-12.5 164.8 1090.1)" fill="url(#lobeg)" opacity="1"/><ellipse cx="269.6" cy="1090.2" rx="24.6" ry="15.1" transform="rotate(5.2 269.6 1090.2)" fill="url(#lobeg)" opacity="1"/><ellipse cx="312.3" cy="1090.8" rx="15.5" ry="13.4" transform="rotate(-20.9 312.3 1090.8)" fill="url(#lobeg)" opacity="1"/><ellipse cx="266.3" cy="1091.0" rx="22.5" ry="12.1" transform="rotate(-22.7 266.3 1091.0)" fill="url(#lobeg)" opacity="1"/><ellipse cx="35.6" cy="1091.2" rx="17.8" ry="12.7" transform="rotate(-6.5 35.6 1091.2)" fill="url(#lobeg)" opacity="1"/><ellipse cx="249.4" cy="1091.6" rx="21.2" ry="14.9" transform="rotate(18.5 249.4 1091.6)" fill="url(#lobeg)" opacity="1"/><ellipse cx="233.5" cy="1092.0" rx="15.0" ry="17.2" transform="rotate(28.7 233.5 1092.0)" fill="url(#lobeg)" opacity="1"/><ellipse cx="212.1" cy="1092.4" rx="21.3" ry="14.7" transform="rotate(8.6 212.1 1092.4)" fill="url(#lobeg)" opacity="1"/><ellipse cx="203.3" cy="1092.8" rx="17.3" ry="13.0" transform="rotate(14.6 203.3 1092.8)" fill="url(#lobeg)" opacity="1"/><ellipse cx="128.3" cy="1093.7" rx="18.3" ry="12.0" transform="rotate(12.1 128.3 1093.7)" fill="url(#lobeg)" opacity="1"/><ellipse cx="316.7" cy="1094.5" rx="21.0" ry="14.6" transform="rotate(-22.8 316.7 1094.5)" fill="url(#lobeg)" opacity="1"/><ellipse cx="92.0" cy="1095.3" rx="20.4" ry="17.3" transform="rotate(-15.3 92.0 1095.3)" fill="url(#lobeg)" opacity="1"/><ellipse cx="222.3" cy="1096.0" rx="17.6" ry="13.2" transform="rotate(23.6 222.3 1096.0)" fill="url(#lobeg)" opacity="1"/><ellipse cx="64.7" cy="1096.4" rx="17.0" ry="12.3" transform="rotate(-20.7 64.7 1096.4)" fill="url(#lobeg)" opacity="1"/><ellipse cx="251.0" cy="1096.6" rx="24.9" ry="17.4" transform="rotate(3.3 251.0 1096.6)" fill="url(#lobeg)" opacity="1"/><ellipse cx="78.1" cy="1097.0" rx="25.1" ry="17.2" transform="rotate(26.8 78.1 1097.0)" fill="url(#lobeg)" opacity="1"/><ellipse cx="36.4" cy="1097.4" rx="23.4" ry="12.0" transform="rotate(-0.5 36.4 1097.4)" fill="url(#lobeg)" opacity="1"/><ellipse cx="321.9" cy="1097.8" rx="21.1" ry="17.7" transform="rotate(-18.0 321.9 1097.8)" fill="url(#lobeg)" opacity="1"/><ellipse cx="218.1" cy="1098.6" rx="21.3" ry="14.2" transform="rotate(-25.3 218.1 1098.6)" fill="url(#lobeg)" opacity="1"/><ellipse cx="282.8" cy="1099.6" rx="15.7" ry="16.5" transform="rotate(12.2 282.8 1099.6)" fill="url(#lobeg)" opacity="1"/><ellipse cx="270.9" cy="1100.2" rx="21.6" ry="14.0" transform="rotate(-21.6 270.9 1100.2)" fill="url(#lobeg)" opacity="1"/><ellipse cx="138.6" cy="1101.1" rx="17.7" ry="13.2" transform="rotate(-9.6 138.6 1101.1)" fill="url(#lobeg)" opacity="1"/><ellipse cx="67.1" cy="1101.4" rx="23.7" ry="12.3" transform="rotate(-28.1 67.1 1101.4)" fill="url(#lobeg)" opacity="1"/><ellipse cx="31.5" cy="1101.7" rx="22.4" ry="16.7" transform="rotate(-23.6 31.5 1101.7)" fill="url(#lobeg)" opacity="1"/><ellipse cx="304.3" cy="1102.4" rx="16.8" ry="14.6" transform="rotate(4.9 304.3 1102.4)" fill="url(#lobeg)" opacity="1"/><ellipse cx="274.9" cy="1102.7" rx="19.7" ry="16.7" transform="rotate(21.1 274.9 1102.7)" fill="url(#lobeg)" opacity="1"/><ellipse cx="82.3" cy="1103.2" rx="25.7" ry="15.8" transform="rotate(0.3 82.3 1103.2)" fill="url(#lobeg)" opacity="1"/><ellipse cx="119.7" cy="1103.9" rx="22.5" ry="19.1" transform="rotate(-14.6 119.7 1103.9)" fill="url(#lobeg)" opacity="1"/><ellipse cx="255.7" cy="1104.6" rx="19.5" ry="13.5" transform="rotate(-22.6 255.7 1104.6)" fill="url(#lobeg)" opacity="1"/><ellipse cx="113.7" cy="1105.4" rx="23.2" ry="19.2" transform="rotate(27.2 113.7 1105.4)" fill="url(#lobeg)" opacity="1"/><ellipse cx="99.9" cy="1106.4" rx="18.3" ry="14.4" transform="rotate(9.1 99.9 1106.4)" fill="url(#lobeg)" opacity="1"/><ellipse cx="52.5" cy="1107.3" rx="19.9" ry="19.4" transform="rotate(11.6 52.5 1107.3)" fill="url(#lobeg)" opacity="1"/><ellipse cx="264.5" cy="1107.5" rx="16.7" ry="13.8" transform="rotate(2.3 264.5 1107.5)" fill="url(#lobeg)" opacity="1"/><ellipse cx="314.6" cy="1108.1" rx="17.5" ry="17.4" transform="rotate(-15.0 314.6 1108.1)" fill="url(#lobeg)" opacity="1"/><ellipse cx="180.9" cy="1108.7" rx="23.9" ry="13.9" transform="rotate(-18.5 180.9 1108.7)" fill="url(#lobeg)" opacity="1"/><ellipse cx="186.1" cy="1109.0" rx="17.7" ry="19.6" transform="rotate(16.5 186.1 1109.0)" fill="url(#lobeg)" opacity="1"/><ellipse cx="337.3" cy="1109.5" rx="21.2" ry="18.7" transform="rotate(12.9 337.3 1109.5)" fill="url(#lobeg)" opacity="1"/><ellipse cx="142.8" cy="1110.1" rx="26.0" ry="14.0" transform="rotate(-5.5 142.8 1110.1)" fill="url(#lobeg)" opacity="1"/><ellipse cx="122.3" cy="1110.7" rx="19.5" ry="15.1" transform="rotate(11.8 122.3 1110.7)" fill="url(#lobeg)" opacity="1"/><ellipse cx="290.2" cy="1111.4" rx="20.1" ry="18.2" transform="rotate(-21.6 290.2 1111.4)" fill="url(#lobeg)" opacity="1"/><ellipse cx="140.2" cy="1112.4" rx="25.0" ry="17.1" transform="rotate(-11.6 140.2 1112.4)" fill="url(#lobeg)" opacity="1"/><ellipse cx="118.4" cy="1112.7" rx="21.2" ry="18.4" transform="rotate(-19.4 118.4 1112.7)" fill="url(#lobeg)" opacity="1"/><ellipse cx="253.6" cy="1112.9" rx="25.8" ry="17.2" transform="rotate(1.7 253.6 1112.9)" fill="url(#lobeg)" opacity="1"/><ellipse cx="85.2" cy="1113.2" rx="19.6" ry="18.3" transform="rotate(-28.7 85.2 1113.2)" fill="url(#lobeg)" opacity="1"/><ellipse cx="185.6" cy="1113.7" rx="20.9" ry="19.6" transform="rotate(-7.8 185.6 1113.7)" fill="url(#lobeg)" opacity="1"/><ellipse cx="30.9" cy="1114.2" rx="22.5" ry="19.4" transform="rotate(-28.4 30.9 1114.2)" fill="url(#lobeg)" opacity="1"/><ellipse cx="85.1" cy="1114.6" rx="24.9" ry="19.5" transform="rotate(-20.3 85.1 1114.6)" fill="url(#lobeg)" opacity="1"/><ellipse cx="153.2" cy="1115.4" rx="27.6" ry="19.4" transform="rotate(1.9 153.2 1115.4)" fill="url(#lobeg)" opacity="1"/><ellipse cx="315.2" cy="1116.0" rx="21.1" ry="18.1" transform="rotate(5.7 315.2 1116.0)" fill="url(#lobeg)" opacity="1"/><ellipse cx="155.2" cy="1116.7" rx="17.6" ry="13.5" transform="rotate(21.6 155.2 1116.7)" fill="url(#lobeg)" opacity="1"/><ellipse cx="141.7" cy="1117.3" rx="22.6" ry="19.7" transform="rotate(-13.8 141.7 1117.3)" fill="url(#lobeg)" opacity="1"/><ellipse cx="80.2" cy="1117.6" rx="19.6" ry="13.8" transform="rotate(4.9 80.2 1117.6)" fill="url(#lobeg)" opacity="1"/><ellipse cx="150.6" cy="1118.5" rx="22.6" ry="19.1" transform="rotate(-25.0 150.6 1118.5)" fill="url(#lobeg)" opacity="1"/><ellipse cx="42.6" cy="1118.8" rx="18.8" ry="13.7" transform="rotate(-27.9 42.6 1118.8)" fill="url(#lobeg)" opacity="1"/><ellipse cx="331.7" cy="1119.6" rx="17.0" ry="13.9" transform="rotate(23.6 331.7 1119.6)" fill="url(#lobeg)" opacity="1"/><ellipse cx="142.2" cy="1120.2" rx="26.4" ry="18.3" transform="rotate(-27.8 142.2 1120.2)" fill="url(#lobeg)" opacity="1"/><ellipse cx="179.3" cy="1120.4" rx="24.7" ry="15.2" transform="rotate(-26.7 179.3 1120.4)" fill="url(#lobeg)" opacity="1"/><ellipse cx="96.2" cy="1121.0" rx="25.7" ry="20.4" transform="rotate(12.0 96.2 1121.0)" fill="url(#lobeg)" opacity="1"/><ellipse cx="119.8" cy="1121.4" rx="28.1" ry="17.0" transform="rotate(23.9 119.8 1121.4)" fill="url(#lobeg)" opacity="1"/><ellipse cx="241.4" cy="1121.9" rx="19.5" ry="20.2" transform="rotate(13.7 241.4 1121.9)" fill="url(#lobeg)" opacity="1"/><ellipse cx="90.7" cy="1123.0" rx="19.8" ry="15.0" transform="rotate(12.9 90.7 1123.0)" fill="url(#lobeg)" opacity="1"/><ellipse cx="125.3" cy="1123.6" rx="24.1" ry="19.7" transform="rotate(-6.7 125.3 1123.6)" fill="url(#lobeg)" opacity="1"/><ellipse cx="189.4" cy="1124.3" rx="20.1" ry="15.5" transform="rotate(-14.1 189.4 1124.3)" fill="url(#lobeg)" opacity="1"/><ellipse cx="92.7" cy="1124.7" rx="28.7" ry="15.3" transform="rotate(-7.8 92.7 1124.7)" fill="url(#lobeg)" opacity="1"/><ellipse cx="56.7" cy="1125.2" rx="21.3" ry="18.5" transform="rotate(-23.0 56.7 1125.2)" fill="url(#lobeg)" opacity="1"/><ellipse cx="113.8" cy="1125.6" rx="28.7" ry="15.9" transform="rotate(25.3 113.8 1125.6)" fill="url(#lobeg)" opacity="1"/><ellipse cx="81.6" cy="1126.6" rx="19.1" ry="18.8" transform="rotate(12.5 81.6 1126.6)" fill="url(#lobeg)" opacity="1"/><ellipse cx="215.6" cy="1127.3" rx="19.5" ry="18.9" transform="rotate(-6.0 215.6 1127.3)" fill="url(#lobeg)" opacity="1"/><ellipse cx="154.1" cy="1127.7" rx="28.6" ry="15.6" transform="rotate(22.2 154.1 1127.7)" fill="url(#lobeg)" opacity="1"/><ellipse cx="198.9" cy="1128.1" rx="24.8" ry="16.4" transform="rotate(-24.3 198.9 1128.1)" fill="url(#lobeg)" opacity="1"/><ellipse cx="121.8" cy="1128.5" rx="27.2" ry="20.8" transform="rotate(24.2 121.8 1128.5)" fill="url(#lobeg)" opacity="1"/><ellipse cx="153.8" cy="1128.8" rx="26.3" ry="15.2" transform="rotate(25.2 153.8 1128.8)" fill="url(#lobeg)" opacity="1"/><ellipse cx="98.7" cy="1129.6" rx="26.7" ry="15.8" transform="rotate(18.4 98.7 1129.6)" fill="url(#lobeg)" opacity="1"/><ellipse cx="23.8" cy="1130.1" rx="18.4" ry="19.3" transform="rotate(13.1 23.8 1130.1)" fill="url(#lobeg)" opacity="1"/><ellipse cx="128.1" cy="1130.9" rx="19.1" ry="17.3" transform="rotate(8.0 128.1 1130.9)" fill="url(#lobeg)" opacity="1"/><ellipse cx="274.5" cy="1131.3" rx="29.2" ry="17.6" transform="rotate(-1.9 274.5 1131.3)" fill="url(#lobeg)" opacity="1"/><ellipse cx="211.2" cy="1132.0" rx="29.5" ry="14.7" transform="rotate(9.7 211.2 1132.0)" fill="url(#lobeg)" opacity="1"/><ellipse cx="223.1" cy="1132.7" rx="25.6" ry="17.1" transform="rotate(13.8 223.1 1132.7)" fill="url(#lobeg)" opacity="1"/><ellipse cx="129.5" cy="1133.1" rx="22.6" ry="18.7" transform="rotate(-7.1 129.5 1133.1)" fill="url(#lobeg)" opacity="1"/><ellipse cx="191.0" cy="1134.1" rx="28.7" ry="15.0" transform="rotate(-16.8 191.0 1134.1)" fill="url(#lobeg)" opacity="1"/><ellipse cx="331.4" cy="1134.6" rx="25.4" ry="16.7" transform="rotate(-1.1 331.4 1134.6)" fill="url(#lobeg)" opacity="1"/><ellipse cx="299.3" cy="1135.3" rx="25.2" ry="22.1" transform="rotate(-5.7 299.3 1135.3)" fill="url(#lobeg)" opacity="1"/><ellipse cx="80.1" cy="1135.7" rx="22.6" ry="18.5" transform="rotate(28.9 80.1 1135.7)" fill="url(#lobeg)" opacity="1"/><ellipse cx="61.3" cy="1136.1" rx="25.7" ry="16.2" transform="rotate(-25.0 61.3 1136.1)" fill="url(#lobeg)" opacity="1"/><ellipse cx="62.9" cy="1136.5" rx="20.8" ry="16.5" transform="rotate(-0.7 62.9 1136.5)" fill="url(#lobeg)" opacity="1"/><ellipse cx="202.0" cy="1137.5" rx="18.3" ry="18.6" transform="rotate(-8.8 202.0 1137.5)" fill="url(#lobeg)" opacity="1"/><ellipse cx="124.2" cy="1138.3" rx="20.7" ry="20.3" transform="rotate(5.1 124.2 1138.3)" fill="url(#lobeg)" opacity="1"/><ellipse cx="25.8" cy="1139.3" rx="21.7" ry="21.6" transform="rotate(3.6 25.8 1139.3)" fill="url(#lobeg)" opacity="1"/><ellipse cx="250.3" cy="1139.9" rx="27.9" ry="20.3" transform="rotate(-5.2 250.3 1139.9)" fill="url(#lobeg)" opacity="1"/><ellipse cx="177.1" cy="1140.2" rx="19.8" ry="19.1" transform="rotate(-11.2 177.1 1140.2)" fill="url(#lobeg)" opacity="1"/><ellipse cx="339.8" cy="1140.7" rx="30.7" ry="17.0" transform="rotate(-23.3 339.8 1140.7)" fill="url(#lobeg)" opacity="1"/><ellipse cx="222.7" cy="1141.3" rx="21.2" ry="14.9" transform="rotate(-9.7 222.7 1141.3)" fill="url(#lobeg)" opacity="1"/><ellipse cx="316.8" cy="1142.4" rx="21.1" ry="15.7" transform="rotate(0.1 316.8 1142.4)" fill="url(#lobeg)" opacity="1"/><ellipse cx="206.6" cy="1143.1" rx="27.8" ry="22.4" transform="rotate(-25.7 206.6 1143.1)" fill="url(#lobeg)" opacity="1"/><ellipse cx="296.7" cy="1143.5" rx="29.3" ry="20.6" transform="rotate(9.0 296.7 1143.5)" fill="url(#lobeg)" opacity="1"/><ellipse cx="58.1" cy="1144.9" rx="29.1" ry="21.2" transform="rotate(15.7 58.1 1144.9)" fill="url(#lobeg)" opacity="1"/><ellipse cx="238.9" cy="1145.4" rx="30.4" ry="22.8" transform="rotate(-4.5 238.9 1145.4)" fill="url(#lobeg)" opacity="1"/><ellipse cx="125.4" cy="1145.9" rx="28.2" ry="16.3" transform="rotate(22.3 125.4 1145.9)" fill="url(#lobeg)" opacity="1"/><ellipse cx="149.2" cy="1146.2" rx="18.9" ry="20.6" transform="rotate(5.0 149.2 1146.2)" fill="url(#lobeg)" opacity="1"/><ellipse cx="183.3" cy="1146.6" rx="21.5" ry="21.5" transform="rotate(24.3 183.3 1146.6)" fill="url(#lobeg)" opacity="1"/><ellipse cx="266.4" cy="1146.8" rx="20.7" ry="22.0" transform="rotate(14.8 266.4 1146.8)" fill="url(#lobeg)" opacity="1"/><ellipse cx="46.8" cy="1147.5" rx="30.4" ry="22.7" transform="rotate(-3.8 46.8 1147.5)" fill="url(#lobeg)" opacity="1"/><ellipse cx="200.0" cy="1148.1" rx="25.0" ry="16.8" transform="rotate(-3.2 200.0 1148.1)" fill="url(#lobeg)" opacity="1"/><ellipse cx="329.7" cy="1148.6" rx="30.7" ry="16.6" transform="rotate(-18.6 329.7 1148.6)" fill="url(#lobeg)" opacity="1"/><ellipse cx="282.5" cy="1148.8" rx="28.4" ry="14.9" transform="rotate(-8.1 282.5 1148.8)" fill="url(#lobeg)" opacity="1"/><ellipse cx="122.4" cy="1149.5" rx="25.4" ry="15.2" transform="rotate(-3.7 122.4 1149.5)" fill="url(#lobeg)" opacity="1"/><ellipse cx="139.1" cy="1149.9" rx="27.4" ry="19.2" transform="rotate(-8.0 139.1 1149.9)" fill="url(#lobeg)" opacity="1"/><ellipse cx="25.9" cy="1150.3" rx="22.9" ry="21.5" transform="rotate(12.3 25.9 1150.3)" fill="url(#lobeg)" opacity="1"/><ellipse cx="149.1" cy="1150.7" rx="30.8" ry="20.8" transform="rotate(-18.0 149.1 1150.7)" fill="url(#lobeg)" opacity="1"/><ellipse cx="223.9" cy="1151.3" rx="30.1" ry="19.2" transform="rotate(25.0 223.9 1151.3)" fill="url(#lobeg)" opacity="1"/><ellipse cx="175.9" cy="1151.8" rx="30.4" ry="16.5" transform="rotate(29.6 175.9 1151.8)" fill="url(#lobeg)" opacity="1"/><ellipse cx="77.5" cy="1152.2" rx="21.8" ry="16.0" transform="rotate(-6.5 77.5 1152.2)" fill="url(#lobeg)" opacity="1"/><ellipse cx="107.2" cy="1152.3" rx="32.0" ry="16.0" transform="rotate(-19.6 107.2 1152.3)" fill="url(#lobeg)" opacity="1"/><ellipse cx="318.7" cy="1152.6" rx="32.1" ry="18.3" transform="rotate(-24.4 318.7 1152.6)" fill="url(#lobeg)" opacity="1"/><ellipse cx="300.4" cy="1152.8" rx="28.1" ry="22.0" transform="rotate(-10.2 300.4 1152.8)" fill="url(#lobeg)" opacity="1"/><ellipse cx="343.0" cy="1153.0" rx="31.8" ry="22.3" transform="rotate(15.1 343.0 1153.0)" fill="url(#lobeg)" opacity="1"/><ellipse cx="248.3" cy="1154.0" rx="27.7" ry="18.7" transform="rotate(24.3 248.3 1154.0)" fill="url(#lobeg)" opacity="1"/><ellipse cx="298.4" cy="1154.5" rx="23.2" ry="16.9" transform="rotate(-23.5 298.4 1154.5)" fill="url(#lobeg)" opacity="1"/><ellipse cx="130.5" cy="1154.7" rx="26.6" ry="19.5" transform="rotate(-7.3 130.5 1154.7)" fill="url(#lobeg)" opacity="1"/><ellipse cx="259.1" cy="1155.6" rx="27.6" ry="20.2" transform="rotate(6.4 259.1 1155.6)" fill="url(#lobeg)" opacity="1"/><ellipse cx="221.9" cy="1155.9" rx="23.7" ry="15.4" transform="rotate(14.2 221.9 1155.9)" fill="url(#lobeg)" opacity="1"/><ellipse cx="97.5" cy="1156.0" rx="25.4" ry="21.1" transform="rotate(-18.1 97.5 1156.0)" fill="url(#lobeg)" opacity="1"/><ellipse cx="162.5" cy="1156.5" rx="29.5" ry="22.1" transform="rotate(3.9 162.5 1156.5)" fill="url(#lobeg)" opacity="1"/><ellipse cx="334.0" cy="1156.9" rx="19.9" ry="21.2" transform="rotate(-26.9 334.0 1156.9)" fill="url(#lobeg)" opacity="1"/><ellipse cx="273.7" cy="1157.3" rx="29.6" ry="21.2" transform="rotate(-20.4 273.7 1157.3)" fill="url(#lobeg)" opacity="1"/><ellipse cx="315.6" cy="1158.0" rx="26.2" ry="21.4" transform="rotate(-28.5 315.6 1158.0)" fill="url(#lobeg)" opacity="1"/><ellipse cx="300.5" cy="1158.8" rx="28.8" ry="20.2" transform="rotate(2.5 300.5 1158.8)" fill="url(#lobeg)" opacity="1"/><ellipse cx="343.2" cy="1159.2" rx="27.7" ry="22.0" transform="rotate(6.0 343.2 1159.2)" fill="url(#lobeg)" opacity="1"/><ellipse cx="126.2" cy="1159.4" rx="20.3" ry="19.1" transform="rotate(-8.0 126.2 1159.4)" fill="url(#lobeg)" opacity="1"/><ellipse cx="167.2" cy="1160.1" rx="28.6" ry="18.3" transform="rotate(17.1 167.2 1160.1)" fill="url(#lobeg)" opacity="1"/><ellipse cx="109.2" cy="1160.7" rx="24.3" ry="20.2" transform="rotate(12.1 109.2 1160.7)" fill="url(#lobeg)" opacity="1"/><ellipse cx="28.1" cy="1161.2" rx="22.5" ry="22.0" transform="rotate(-0.7 28.1 1161.2)" fill="url(#lobeg)" opacity="1"/><ellipse cx="105.1" cy="1161.9" rx="26.0" ry="16.6" transform="rotate(-1.6 105.1 1161.9)" fill="url(#lobeg)" opacity="1"/><ellipse cx="158.1" cy="1162.4" rx="29.0" ry="19.4" transform="rotate(20.5 158.1 1162.4)" fill="url(#lobeg)" opacity="1"/><ellipse cx="33.8" cy="1162.8" rx="23.7" ry="21.1" transform="rotate(4.9 33.8 1162.8)" fill="url(#lobeg)" opacity="1"/><ellipse cx="183.8" cy="1163.0" rx="25.8" ry="17.0" transform="rotate(22.4 183.8 1163.0)" fill="url(#lobeg)" opacity="1"/><ellipse cx="130.6" cy="1163.6" rx="30.6" ry="20.9" transform="rotate(-26.4 130.6 1163.6)" fill="url(#lobeg)" opacity="1"/><ellipse cx="213.1" cy="1164.7" rx="21.4" ry="23.1" transform="rotate(-9.0 213.1 1164.7)" fill="url(#lobeg)" opacity="1"/><ellipse cx="123.9" cy="1164.9" rx="28.1" ry="18.2" transform="rotate(-24.6 123.9 1164.9)" fill="url(#lobeg)" opacity="1"/><ellipse cx="70.3" cy="1165.2" rx="23.7" ry="17.4" transform="rotate(22.4 70.3 1165.2)" fill="url(#lobeg)" opacity="1"/><ellipse cx="240.8" cy="1165.8" rx="28.2" ry="20.6" transform="rotate(-0.7 240.8 1165.8)" fill="url(#lobeg)" opacity="1"/><ellipse cx="210.0" cy="1166.5" rx="26.6" ry="16.5" transform="rotate(3.9 210.0 1166.5)" fill="url(#lobeg)" opacity="1"/><ellipse cx="38.5" cy="1166.8" rx="21.0" ry="22.6" transform="rotate(-14.5 38.5 1166.8)" fill="url(#lobeg)" opacity="1"/><ellipse cx="265.5" cy="1167.7" rx="29.7" ry="17.8" transform="rotate(-9.1 265.5 1167.7)" fill="url(#lobeg)" opacity="1"/><ellipse cx="235.8" cy="1167.9" rx="28.7" ry="17.1" transform="rotate(-0.9 235.8 1167.9)" fill="url(#lobeg)" opacity="1"/><ellipse cx="137.0" cy="1168.5" rx="24.2" ry="18.9" transform="rotate(-20.4 137.0 1168.5)" fill="url(#lobeg)" opacity="1"/><ellipse cx="80.4" cy="1169.0" rx="33.0" ry="24.2" transform="rotate(9.1 80.4 1169.0)" fill="url(#lobeg)" opacity="1"/><ellipse cx="136.9" cy="1169.8" rx="29.1" ry="19.0" transform="rotate(-3.9 136.9 1169.8)" fill="url(#lobeg)" opacity="1"/><ellipse cx="104.1" cy="1170.6" rx="28.0" ry="20.3" transform="rotate(21.3 104.1 1170.6)" fill="url(#lobeg)" opacity="1"/><ellipse cx="266.6" cy="1171.2" rx="24.6" ry="22.7" transform="rotate(-17.1 266.6 1171.2)" fill="url(#lobeg)" opacity="1"/><ellipse cx="291.3" cy="1171.7" rx="33.6" ry="22.6" transform="rotate(4.9 291.3 1171.7)" fill="url(#lobeg)" opacity="1"/><ellipse cx="159.6" cy="1172.5" rx="25.5" ry="24.1" transform="rotate(-16.1 159.6 1172.5)" fill="url(#lobeg)" opacity="1"/><ellipse cx="128.7" cy="1172.9" rx="33.0" ry="19.0" transform="rotate(-10.9 128.7 1172.9)" fill="url(#lobeg)" opacity="1"/><ellipse cx="311.8" cy="1174.0" rx="23.4" ry="24.7" transform="rotate(-27.7 311.8 1174.0)" fill="url(#lobeg)" opacity="1"/><ellipse cx="212.4" cy="1174.4" rx="25.8" ry="25.5" transform="rotate(25.2 212.4 1174.4)" fill="url(#lobeg)" opacity="1"/><ellipse cx="21.6" cy="1175.3" rx="21.4" ry="23.8" transform="rotate(-23.9 21.6 1175.3)" fill="url(#lobeg)" opacity="1"/><ellipse cx="214.7" cy="1175.6" rx="25.1" ry="21.4" transform="rotate(20.5 214.7 1175.6)" fill="url(#lobeg)" opacity="1"/><ellipse cx="282.1" cy="1176.3" rx="28.0" ry="20.5" transform="rotate(-2.9 282.1 1176.3)" fill="url(#lobeg)" opacity="1"/><ellipse cx="284.4" cy="1176.9" rx="26.3" ry="25.0" transform="rotate(-8.8 284.4 1176.9)" fill="url(#lobeg)" opacity="1"/><ellipse cx="104.6" cy="1177.6" rx="34.7" ry="23.2" transform="rotate(1.4 104.6 1177.6)" fill="url(#lobeg)" opacity="1"/><ellipse cx="217.0" cy="1178.0" rx="26.7" ry="25.1" transform="rotate(15.1 217.0 1178.0)" fill="url(#lobeg)" opacity="1"/><ellipse cx="49.9" cy="1178.4" rx="32.9" ry="20.0" transform="rotate(-3.8 49.9 1178.4)" fill="url(#lobeg)" opacity="1"/><ellipse cx="324.4" cy="1179.1" rx="26.8" ry="25.2" transform="rotate(24.6 324.4 1179.1)" fill="url(#lobeg)" opacity="1"/><ellipse cx="176.0" cy="1179.4" rx="27.5" ry="17.1" transform="rotate(-4.1 176.0 1179.4)" fill="url(#lobeg)" opacity="1"/><ellipse cx="299.1" cy="1180.0" rx="23.2" ry="21.2" transform="rotate(20.4 299.1 1180.0)" fill="url(#lobeg)" opacity="1"/><ellipse cx="190.6" cy="1180.4" rx="25.3" ry="21.4" transform="rotate(-3.7 190.6 1180.4)" fill="url(#lobeg)" opacity="1"/><ellipse cx="100.7" cy="1181.1" rx="28.9" ry="17.3" transform="rotate(19.3 100.7 1181.1)" fill="url(#lobeg)" opacity="1"/><ellipse cx="94.0" cy="1181.6" rx="25.3" ry="19.7" transform="rotate(17.2 94.0 1181.6)" fill="url(#lobeg)" opacity="1"/><ellipse cx="169.3" cy="1182.3" rx="34.2" ry="23.1" transform="rotate(22.7 169.3 1182.3)" fill="url(#lobeg)" opacity="1"/><ellipse cx="312.8" cy="1182.8" rx="32.7" ry="25.9" transform="rotate(-16.6 312.8 1182.8)" fill="url(#lobeg)" opacity="1"/><ellipse cx="90.0" cy="1183.3" rx="28.5" ry="21.8" transform="rotate(22.4 90.0 1183.3)" fill="url(#lobeg)" opacity="1"/><ellipse cx="189.6" cy="1183.6" rx="26.5" ry="20.2" transform="rotate(21.5 189.6 1183.6)" fill="url(#lobeg)" opacity="1"/><ellipse cx="221.1" cy="1184.3" rx="27.3" ry="21.9" transform="rotate(22.5 221.1 1184.3)" fill="url(#lobeg)" opacity="1"/><ellipse cx="304.5" cy="1184.7" rx="25.1" ry="17.4" transform="rotate(26.4 304.5 1184.7)" fill="url(#lobeg)" opacity="1"/><ellipse cx="78.3" cy="1185.4" rx="29.5" ry="25.3" transform="rotate(-18.1 78.3 1185.4)" fill="url(#lobeg)" opacity="1"/><ellipse cx="217.9" cy="1185.7" rx="26.6" ry="23.9" transform="rotate(27.2 217.9 1185.7)" fill="url(#lobeg)" opacity="1"/><ellipse cx="128.2" cy="1186.4" rx="36.2" ry="20.5" transform="rotate(28.6 128.2 1186.4)" fill="url(#lobeg)" opacity="1"/><ellipse cx="124.8" cy="1186.7" rx="22.1" ry="21.3" transform="rotate(21.0 124.8 1186.7)" fill="url(#lobeg)" opacity="1"/><ellipse cx="240.5" cy="1187.4" rx="27.7" ry="22.5" transform="rotate(6.9 240.5 1187.4)" fill="url(#lobeg)" opacity="1"/><ellipse cx="150.4" cy="1187.9" rx="22.8" ry="22.2" transform="rotate(-1.3 150.4 1187.9)" fill="url(#lobeg)" opacity="1"/><ellipse cx="99.5" cy="1188.4" rx="26.3" ry="24.6" transform="rotate(-12.5 99.5 1188.4)" fill="url(#lobeg)" opacity="1"/><ellipse cx="278.4" cy="1188.9" rx="24.7" ry="20.0" transform="rotate(23.1 278.4 1188.9)" fill="url(#lobeg)" opacity="1"/></g>
<g clip-path="url(#mc3)"><g><rect x="25" y="944" width="316" height="237" filter="url(#tf14)" opacity="0.35"/></g></g>
<g filter="url(#crb3)" clip-path="url(#mc3)"><path d="M49.0,1118.0 C50.8,1113.8 62.0,1108.7 70.0,1107.0 C78.0,1105.3 91.5,1105.8 97.0,1108.0 C102.5,1110.2 104.7,1116.3 103.0,1120.0 C101.3,1123.7 94.3,1128.0 87.0,1130.0 C79.7,1132.0 65.3,1134.0 59.0,1132.0 C52.7,1130.0 47.2,1122.2 49.0,1118.0 Z" fill="rgb(50,45,35)" opacity="0.7"/><path d="M146.0,1120.0 C147.0,1114.2 151.8,1110.0 154.0,1114.0 C156.2,1118.0 158.3,1132.3 159.0,1144.0 C159.7,1155.7 160.0,1177.3 158.0,1184.0 C156.0,1190.7 148.7,1189.8 147.0,1184.0 C145.3,1178.2 148.2,1159.7 148.0,1149.0 C147.8,1138.3 145.0,1125.8 146.0,1120.0 Z" fill="rgb(55,48,38)" opacity="0.6"/><path d="M176.0,1064.0 C177.7,1062.3 182.3,1062.7 184.0,1066.0 C185.7,1069.3 186.5,1078.7 186.0,1084.0 C185.5,1089.3 183.0,1096.3 181.0,1098.0 C179.0,1099.7 175.2,1097.7 174.0,1094.0 C172.8,1090.3 173.7,1081.0 174.0,1076.0 C174.3,1071.0 174.3,1065.7 176.0,1064.0 Z" fill="rgb(55,48,38)" opacity="0.55"/><path d="M224.0,1081.0 C225.7,1075.0 230.8,1073.8 233.0,1078.0 C235.2,1082.2 237.2,1095.0 237.0,1106.0 C236.8,1117.0 234.0,1137.2 232.0,1144.0 C230.0,1150.8 226.5,1152.0 225.0,1147.0 C223.5,1142.0 223.2,1125.0 223.0,1114.0 C222.8,1103.0 222.3,1087.0 224.0,1081.0 Z" fill="rgb(55,48,38)" opacity="0.55"/><path d="M113.0,1020.0 C115.8,1018.2 122.2,1017.8 125.0,1021.0 C127.8,1024.2 130.5,1033.7 130.0,1039.0 C129.5,1044.3 125.3,1051.3 122.0,1053.0 C118.7,1054.7 112.3,1052.5 110.0,1049.0 C107.7,1045.5 107.5,1036.8 108.0,1032.0 C108.5,1027.2 110.2,1021.8 113.0,1020.0 Z" fill="rgb(60,55,42)" opacity="0.75"/><path d="M20.0,1144.0 C25.5,1136.3 42.2,1136.7 53.0,1138.0 C63.8,1139.3 78.7,1144.3 85.0,1152.0 C91.3,1159.7 101.8,1178.7 91.0,1184.0 C80.2,1189.3 31.8,1190.7 20.0,1184.0 C8.2,1177.3 14.5,1151.7 20.0,1144.0 Z" fill="rgb(95,100,65)" opacity="0.45"/><path d="M325.0,1062.0 C327.2,1053.2 338.3,1050.0 341.0,1059.0 C343.7,1068.0 343.2,1107.2 341.0,1116.0 C338.8,1124.8 330.7,1121.0 328.0,1112.0 C325.3,1103.0 322.8,1070.8 325.0,1062.0 Z" fill="rgb(70,68,52)" opacity="0.7"/><path d="M205.0,984.0 C206.0,979.8 213.0,975.3 217.0,975.0 C221.0,974.7 227.8,977.8 229.0,982.0 C230.2,986.2 227.0,997.0 224.0,1000.0 C221.0,1003.0 214.2,1002.7 211.0,1000.0 C207.8,997.3 204.0,988.2 205.0,984.0 Z" fill="rgb(70,80,80)" opacity="0.7"/><path d="M253.0,1134.0 C255.5,1129.7 262.3,1125.8 265.0,1130.0 C267.7,1134.2 269.7,1150.0 269.0,1159.0 C268.3,1168.0 264.0,1179.8 261.0,1184.0 C258.0,1188.2 252.8,1188.7 251.0,1184.0 C249.2,1179.3 249.7,1164.3 250.0,1156.0 C250.3,1147.7 250.5,1138.3 253.0,1134.0 Z" fill="rgb(60,55,42)" opacity="0.7"/></g></g></g>
<rect x="23.0" y="174.0" width="326" height="245" rx="2" fill="none" stroke="#ff0000" stroke-width="10"/>
<rect x="28.75" y="563.75" width="325.5" height="246.5" rx="2" fill="none" stroke="#0070c0" stroke-width="9.5"/>
<rect x="19.75" y="938.75" width="326.5" height="246.5" rx="2" fill="none" stroke="#00b050" stroke-width="9.5"/>
<line x1="353" y1="293.2" x2="432.8" y2="293.2" stroke="#ff0000" stroke-width="4.2"/><polygon points="431.8,286.3 445.2,293.2 431.8,300.09999999999997" fill="#ff0000"/>
<line x1="359" y1="687.8" x2="459.6" y2="687.8" stroke="#0070c0" stroke-width="4.2"/><polygon points="458.6,681.0999999999999 471.8,687.8 458.6,694.5" fill="#0070c0"/>
<line x1="351" y1="1061.5" x2="441.5" y2="1061.5" stroke="#00b050" stroke-width="4.2"/><polygon points="440.5,1055.0 452.9,1061.5 440.5,1068.0" fill="#00b050"/>
<polyline points="446.8,296 482.4,296 482.4,1064.4 446.8,1064.4" fill="none" stroke="#000" stroke-width="3.2"/>
<rect x="581" y="298" width="340" height="80" fill="#e8e7e7"/>
<text x="606" y="359" font-family="'Liberation Sans', Arial, sans-serif" font-size="54.2">ESI<tspan font-size="31" dy="-19">+</tspan><tspan dy="19"> LC-MS</tspan></text>
<rect x="636" y="1040" width="230" height="80" fill="#e8e7e7"/>
<text x="654" y="1100" font-family="'Liberation Sans', Arial, sans-serif" font-size="34" dy="-21">1</text><text x="672" y="1100" font-family="'Liberation Sans', Arial, sans-serif" font-size="54">H NMR</text>
<rect x="524" y="793" width="460" height="3" fill="#e6e6e6"/>
<rect x="522.6" y="590.8" width="459" height="100.8" fill="#c9dba2" stroke="#000" stroke-width="2.2"/>
<rect x="522.6" y="691.6" width="459" height="100.4" fill="#fcd6b6" stroke="#000" stroke-width="2.2"/>
<text id="t_org" x="606.5" y="658.5" font-family="'Liberation Sans', Arial, sans-serif" font-size="48" textLength="291.0" lengthAdjust="spacingAndGlyphs">Organic layer</text>
<text id="t_hyd" x="548.9" y="758" font-family="Carlito, 'Liberation Sans', sans-serif" font-size="48" textLength="403.4" lengthAdjust="spacingAndGlyphs">Hydroalcoholic layer</text>
<line x1="482.4" y1="689.4" x2="531" y2="689.4" stroke="#000" stroke-width="3.2"/>
<line x1="752.5" y1="589" x2="751.5" y2="386" stroke="#000" stroke-width="1.4"/>
<path d="M744.5,393 L751.3,379.5 L758,393 L751.3,389 Z" fill="#000"/>
<line x1="752.5" y1="793" x2="751.8" y2="1032" stroke="#000" stroke-width="1.4"/>
<path d="M745,1026 L751.8,1039.5 L758.5,1026 L751.8,1030 Z" fill="#000"/>
<line x1="982.8" y1="691.7" x2="2026" y2="691.7" stroke="#000" stroke-width="3.3" stroke-dasharray="26.6 9.75 3.9 9.75"/>
<line x1="1418.3" y1="49" x2="1418.3" y2="581" stroke="#dcdcdc" stroke-width="1.6"/>
<line x1="1496.6" y1="49" x2="1496.6" y2="581" stroke="#dcdcdc" stroke-width="1.6"/>
<line x1="1574.9" y1="49" x2="1574.9" y2="581" stroke="#dcdcdc" stroke-width="1.6"/>
<line x1="1653.2" y1="49" x2="1653.2" y2="581" stroke="#dcdcdc" stroke-width="1.6"/>
<line x1="1731.5" y1="49" x2="1731.5" y2="581" stroke="#dcdcdc" stroke-width="1.6"/>
<line x1="1809.8" y1="49" x2="1809.8" y2="581" stroke="#dcdcdc" stroke-width="1.6"/>
<line x1="1354.5" y1="494.2" x2="1887" y2="494.2" stroke="#dcdcdc" stroke-width="1.6"/>
<line x1="1354.5" y1="387.5" x2="1887" y2="387.5" stroke="#dcdcdc" stroke-width="1.6"/>
<line x1="1354.5" y1="280.8" x2="1887" y2="280.8" stroke="#dcdcdc" stroke-width="1.6"/>
<line x1="1354.5" y1="174.1" x2="1887" y2="174.1" stroke="#dcdcdc" stroke-width="1.6"/>
<line x1="1354.5" y1="67.4" x2="1887" y2="67.4" stroke="#dcdcdc" stroke-width="1.6"/>
<ellipse cx="1502" cy="173.5" rx="100.8" ry="50.6" transform="rotate(32.9 1502 173.5)" fill="#fbd6d6"/>
<ellipse cx="1808.6" cy="174" rx="22.8" ry="44" transform="rotate(0 1808.6 174)" fill="#d5f1d5"/>
<ellipse cx="1651" cy="495.5" rx="22" ry="30.5" transform="rotate(-10 1651 495.5)" fill="#e2e7f8"/>
<circle cx="1498.0" cy="130.2" r="7.4" fill="rgba(240,90,90,0.55)" stroke="#000" stroke-width="1.7"/>
<circle cx="1466.3" cy="153.7" r="7.4" fill="rgba(240,90,90,0.55)" stroke="#000" stroke-width="1.7"/>
<circle cx="1469.3" cy="153.7" r="7.4" fill="rgba(240,90,90,0.55)" stroke="#000" stroke-width="1.7"/>
<circle cx="1472.2" cy="154.1" r="7.4" fill="rgba(240,90,90,0.55)" stroke="#000" stroke-width="1.7"/>
<circle cx="1475.1" cy="154.1" r="7.4" fill="rgba(240,90,90,0.55)" stroke="#000" stroke-width="1.7"/>
<circle cx="1500.3" cy="155.6" r="7.4" fill="rgba(240,90,90,0.55)" stroke="#000" stroke-width="1.7"/>
<circle cx="1513.0" cy="165.2" r="7.4" fill="rgba(240,90,90,0.55)" stroke="#000" stroke-width="1.7"/>
<circle cx="1532.7" cy="171.2" r="7.4" fill="rgba(240,90,90,0.55)" stroke="#000" stroke-width="1.7"/>
<circle cx="1466.1" cy="173.4" r="7.4" fill="rgba(240,90,90,0.55)" stroke="#000" stroke-width="1.7"/>
<circle cx="1507.3" cy="184.1" r="7.4" fill="rgba(240,90,90,0.55)" stroke="#000" stroke-width="1.7"/>
<circle cx="1448.0" cy="193.7" r="7.4" fill="rgba(240,90,90,0.55)" stroke="#000" stroke-width="1.7"/>
<circle cx="1527.6" cy="213.7" r="7.4" fill="rgba(240,90,90,0.55)" stroke="#000" stroke-width="1.7"/>
<circle cx="1579.0" cy="231.2" r="7.4" fill="rgba(240,90,90,0.55)" stroke="#000" stroke-width="1.7"/>
<circle cx="1804.6" cy="144.2" r="7.4" fill="rgba(70,200,90,0.5)" stroke="#000" stroke-width="1.7"/>
<circle cx="1795.9" cy="151.8" r="7.4" fill="rgba(70,200,90,0.5)" stroke="#000" stroke-width="1.7"/>
<circle cx="1802.7" cy="153.2" r="7.4" fill="rgba(70,200,90,0.5)" stroke="#000" stroke-width="1.7"/>
<circle cx="1823.5" cy="163.1" r="7.4" fill="rgba(70,200,90,0.5)" stroke="#000" stroke-width="1.7"/>
<circle cx="1811.7" cy="164.5" r="7.4" fill="rgba(70,200,90,0.5)" stroke="#000" stroke-width="1.7"/>
<circle cx="1813.4" cy="171.0" r="7.4" fill="rgba(70,200,90,0.5)" stroke="#000" stroke-width="1.7"/>
<circle cx="1827.7" cy="176.9" r="7.4" fill="rgba(70,200,90,0.5)" stroke="#000" stroke-width="1.7"/>
<circle cx="1810.5" cy="176.3" r="7.4" fill="rgba(70,200,90,0.5)" stroke="#000" stroke-width="1.7"/>
<circle cx="1810.5" cy="189.3" r="7.4" fill="rgba(70,200,90,0.5)" stroke="#000" stroke-width="1.7"/>
<circle cx="1796.5" cy="194.3" r="7.4" fill="rgba(70,200,90,0.5)" stroke="#000" stroke-width="1.7"/>
<circle cx="1809.4" cy="197.7" r="7.4" fill="rgba(70,200,90,0.5)" stroke="#000" stroke-width="1.7"/>
<circle cx="1798.2" cy="195.5" r="7.4" fill="rgba(70,200,90,0.5)" stroke="#000" stroke-width="1.7"/>
<circle cx="1638.1" cy="476.6" r="7.4" fill="rgba(100,140,235,0.5)" stroke="#000" stroke-width="1.7"/>
<circle cx="1641.7" cy="492.0" r="7.4" fill="rgba(100,140,235,0.5)" stroke="#000" stroke-width="1.7"/>
<circle cx="1650.0" cy="488.0" r="7.4" fill="rgba(100,140,235,0.5)" stroke="#000" stroke-width="1.7"/>
<circle cx="1654.1" cy="487.2" r="7.4" fill="rgba(100,140,235,0.5)" stroke="#000" stroke-width="1.7"/>
<circle cx="1658.9" cy="486.5" r="7.4" fill="rgba(100,140,235,0.5)" stroke="#000" stroke-width="1.7"/>
<circle cx="1662.7" cy="487.5" r="7.4" fill="rgba(100,140,235,0.5)" stroke="#000" stroke-width="1.7"/>
<circle cx="1665.0" cy="487.7" r="7.4" fill="rgba(100,140,235,0.5)" stroke="#000" stroke-width="1.7"/>
<circle cx="1635.6" cy="502.4" r="7.4" fill="rgba(100,140,235,0.5)" stroke="#000" stroke-width="1.7"/>
<circle cx="1654.8" cy="502.9" r="7.4" fill="rgba(100,140,235,0.5)" stroke="#000" stroke-width="1.7"/>
<circle cx="1648.2" cy="517.1" r="7.4" fill="rgba(100,140,235,0.5)" stroke="#000" stroke-width="1.7"/>
<circle cx="1660.7" cy="519.7" r="7.4" fill="rgba(100,140,235,0.5)" stroke="#000" stroke-width="1.7"/>
<rect x="1354.5" y="49" width="532.5" height="532" fill="none" stroke="#111" stroke-width="1.8"/>
<line x1="1418.3" y1="581" x2="1418.3" y2="593.3" stroke="#111" stroke-width="1.6"/>
<text x="1418.3" y="628" text-anchor="middle" font-family="'Liberation Sans', Arial, sans-serif" font-size="20.8" fill="#111">-60</text>
<line x1="1496.6" y1="581" x2="1496.6" y2="593.3" stroke="#111" stroke-width="1.6"/>
<text x="1496.6" y="628" text-anchor="middle" font-family="'Liberation Sans', Arial, sans-serif" font-size="20.8" fill="#111">-40</text>
<line x1="1574.9" y1="581" x2="1574.9" y2="593.3" stroke="#111" stroke-width="1.6"/>
<text x="1574.9" y="628" text-anchor="middle" font-family="'Liberation Sans', Arial, sans-serif" font-size="20.8" fill="#111">-20</text>
<line x1="1653.2" y1="581" x2="1653.2" y2="593.3" stroke="#111" stroke-width="1.6"/>
<text x="1653.2" y="628" text-anchor="middle" font-family="'Liberation Sans', Arial, sans-serif" font-size="20.8" fill="#111">0</text>
<line x1="1731.5" y1="581" x2="1731.5" y2="593.3" stroke="#111" stroke-width="1.6"/>
<text x="1731.5" y="628" text-anchor="middle" font-family="'Liberation Sans', Arial, sans-serif" font-size="20.8" fill="#111">20</text>
<line x1="1809.8" y1="581" x2="1809.8" y2="593.3" stroke="#111" stroke-width="1.6"/>
<text x="1809.8" y="628" text-anchor="middle" font-family="'Liberation Sans', Arial, sans-serif" font-size="20.8" fill="#111">40</text>
<line x1="1342.2" y1="494.2" x2="1354.5" y2="494.2" stroke="#111" stroke-width="1.6"/>
<text transform="translate(1328.3,494.2) rotate(-90)" text-anchor="middle" font-family="'Liberation Sans', Arial, sans-serif" font-size="20.8" fill="#111">-40</text>
<line x1="1342.2" y1="387.5" x2="1354.5" y2="387.5" stroke="#111" stroke-width="1.6"/>
<text transform="translate(1328.3,387.5) rotate(-90)" text-anchor="middle" font-family="'Liberation Sans', Arial, sans-serif" font-size="20.8" fill="#111">-20</text>
<line x1="1342.2" y1="280.8" x2="1354.5" y2="280.8" stroke="#111" stroke-width="1.6"/>
<text transform="translate(1328.3,280.8) rotate(-90)" text-anchor="middle" font-family="'Liberation Sans', Arial, sans-serif" font-size="20.8" fill="#111">0</text>
<line x1="1342.2" y1="174.1" x2="1354.5" y2="174.1" stroke="#111" stroke-width="1.6"/>
<text transform="translate(1328.3,174.1) rotate(-90)" text-anchor="middle" font-family="'Liberation Sans', Arial, sans-serif" font-size="20.8" fill="#111">20</text>
<line x1="1342.2" y1="67.4" x2="1354.5" y2="67.4" stroke="#111" stroke-width="1.6"/>
<text transform="translate(1328.3,67.4) rotate(-90)" text-anchor="middle" font-family="'Liberation Sans', Arial, sans-serif" font-size="20.8" fill="#111">40</text>
<text id="sp21" x="1553.2" y="21" font-family="'Liberation Sans', Arial, sans-serif" font-weight="bold" font-size="24" fill="#111" textLength="134.3" lengthAdjust="spacingAndGlyphs">Scores Plot</text>
<text id="xl675.5" x="1562.3" y="675.5" font-family="'Liberation Sans', Arial, sans-serif" font-size="20.5" fill="#111" textLength="117.9" lengthAdjust="spacingAndGlyphs">PC 1 ( 29 %)</text>
<text transform="translate(1280,315) rotate(-90)" text-anchor="middle" font-family="'Liberation Sans', Arial, sans-serif" font-size="20.5" fill="#111">PC 2 ( 22.3 %)</text>
<circle cx="1923.6" cy="97.6" r="4.9" fill="none" stroke="rgb(230, 40, 60)" stroke-width="1.6"/>
<text x="1942.5" y="104.6" font-family="'Liberation Sans', Arial, sans-serif" font-size="19.6" fill="#111">Millepora</text>
<circle cx="1923.6" cy="121.9" r="4.9" fill="none" stroke="rgb(65, 100, 215)" stroke-width="1.6"/>
<text x="1942.5" y="128.9" font-family="'Liberation Sans', Arial, sans-serif" font-size="19.6" fill="#111">Pocillopora</text>
<circle cx="1923.6" cy="146.2" r="4.9" fill="none" stroke="rgb(40, 180, 70)" stroke-width="1.6"/>
<text x="1942.5" y="153.2" font-family="'Liberation Sans', Arial, sans-serif" font-size="19.6" fill="#111">Porites</text>
<text id="u_mil" x="1390.8" y="88.7" font-family="Carlito, 'Liberation Sans', sans-serif" font-weight="bold" font-size="34.5" fill="#ff0000" textLength="385.6" lengthAdjust="spacingAndGlyphs"><tspan font-style="italic">Millepora</tspan> cf. <tspan font-style="italic">platyphylla.</tspan></text>
<text id="u_por" x="1695.4" y="272.7" font-family="Carlito, 'Liberation Sans', sans-serif" font-weight="bold" font-size="34.5" fill="#00b050" textLength="178.2" lengthAdjust="spacingAndGlyphs"><tspan font-style="italic">Porites</tspan> spp.</text>
<text id="u_poc" x="1385.6" y="453.2" font-family="Carlito, 'Liberation Sans', sans-serif" font-weight="bold" font-size="34.5" fill="#0070c0" textLength="245.0" lengthAdjust="spacingAndGlyphs"><tspan font-style="italic">Pocillopora</tspan> spp.</text>
<line x1="1423.9" y1="754" x2="1423.9" y2="1287.5" stroke="#dcdcdc" stroke-width="1.6"/>
<line x1="1499.1" y1="754" x2="1499.1" y2="1287.5" stroke="#dcdcdc" stroke-width="1.6"/>
<line x1="1574.3" y1="754" x2="1574.3" y2="1287.5" stroke="#dcdcdc" stroke-width="1.6"/>
<line x1="1649.5" y1="754" x2="1649.5" y2="1287.5" stroke="#dcdcdc" stroke-width="1.6"/>
<line x1="1724.7" y1="754" x2="1724.7" y2="1287.5" stroke="#dcdcdc" stroke-width="1.6"/>
<line x1="1799.9" y1="754" x2="1799.9" y2="1287.5" stroke="#dcdcdc" stroke-width="1.6"/>
<line x1="1875.1" y1="754" x2="1875.1" y2="1287.5" stroke="#dcdcdc" stroke-width="1.6"/>
<line x1="1354" y1="1224.0" x2="1887" y2="1224.0" stroke="#dcdcdc" stroke-width="1.6"/>
<line x1="1354" y1="1090.3" x2="1887" y2="1090.3" stroke="#dcdcdc" stroke-width="1.6"/>
<line x1="1354" y1="956.6" x2="1887" y2="956.6" stroke="#dcdcdc" stroke-width="1.6"/>
<line x1="1354" y1="822.9" x2="1887" y2="822.9" stroke="#dcdcdc" stroke-width="1.6"/>
<ellipse cx="1505.5" cy="1110.5" rx="20.5" ry="116" transform="rotate(5.2 1505.5 1110.5)" fill="#fbd6d6"/>
<circle cx="1409.3" cy="818.2" r="7.4" fill="rgba(40,175,60,0.42)" stroke="#000" stroke-width="1.7"/>
<circle cx="1412.3" cy="816.2" r="7.4" fill="rgba(40,175,60,0.42)" stroke="#000" stroke-width="1.7"/>
<circle cx="1406.7" cy="821.3" r="7.4" fill="rgba(40,175,60,0.42)" stroke="#000" stroke-width="1.7"/>
<circle cx="1409.3" cy="826.4" r="7.4" fill="rgba(40,175,60,0.42)" stroke="#000" stroke-width="1.7"/>
<circle cx="1417.4" cy="819.8" r="7.4" fill="rgba(40,175,60,0.42)" stroke="#000" stroke-width="1.7"/>
<circle cx="1418.4" cy="821.3" r="7.4" fill="rgba(40,175,60,0.42)" stroke="#000" stroke-width="1.7"/>
<circle cx="1420.4" cy="826.9" r="7.4" fill="rgba(40,175,60,0.42)" stroke="#000" stroke-width="1.7"/>
<circle cx="1422.4" cy="829.4" r="7.4" fill="rgba(40,175,60,0.42)" stroke="#000" stroke-width="1.7"/>
<circle cx="1429.5" cy="827.4" r="7.4" fill="rgba(40,175,60,0.42)" stroke="#000" stroke-width="1.7"/>
<circle cx="1423.5" cy="833.5" r="7.4" fill="rgba(40,175,60,0.42)" stroke="#000" stroke-width="1.7"/>
<circle cx="1422.4" cy="840.5" r="7.4" fill="rgba(40,175,60,0.42)" stroke="#000" stroke-width="1.7"/>
<circle cx="1424.5" cy="843.1" r="7.4" fill="rgba(40,175,60,0.42)" stroke="#000" stroke-width="1.7"/>
<circle cx="1430.5" cy="837.5" r="7.4" fill="rgba(40,175,60,0.42)" stroke="#000" stroke-width="1.7"/>
<circle cx="1434.1" cy="844.6" r="7.4" fill="rgba(40,175,60,0.42)" stroke="#000" stroke-width="1.7"/>
<circle cx="1431.6" cy="859.3" r="7.4" fill="rgba(40,175,60,0.42)" stroke="#000" stroke-width="1.7"/>
<circle cx="1432.6" cy="862.3" r="7.4" fill="rgba(40,175,60,0.42)" stroke="#000" stroke-width="1.7"/>
<circle cx="1437.6" cy="869.9" r="7.4" fill="rgba(40,175,60,0.42)" stroke="#000" stroke-width="1.7"/>
<circle cx="1417.2" cy="837.3" r="7.4" fill="rgba(40,175,60,0.42)" stroke="#000" stroke-width="1.7"/>
<circle cx="1420.3" cy="842.5" r="7.4" fill="rgba(40,175,60,0.42)" stroke="#000" stroke-width="1.7"/>
<circle cx="1419.3" cy="842.0" r="7.4" fill="rgba(40,175,60,0.42)" stroke="#000" stroke-width="1.7"/>
<circle cx="1406.5" cy="830.1" r="7.4" fill="rgba(40,175,60,0.42)" stroke="#000" stroke-width="1.7"/>
<circle cx="1423.0" cy="834.9" r="7.4" fill="rgba(40,175,60,0.42)" stroke="#000" stroke-width="1.7"/>
<circle cx="1422.2" cy="820.9" r="7.4" fill="rgba(40,175,60,0.42)" stroke="#000" stroke-width="1.7"/>
<circle cx="1414.4" cy="824.4" r="7.4" fill="rgba(40,175,60,0.42)" stroke="#000" stroke-width="1.7"/>
<circle cx="1415.8" cy="832.9" r="7.4" fill="rgba(40,175,60,0.42)" stroke="#000" stroke-width="1.7"/>
<circle cx="1406.2" cy="823.6" r="7.4" fill="rgba(40,175,60,0.42)" stroke="#000" stroke-width="1.7"/>
<circle cx="1411.0" cy="841.8" r="7.4" fill="rgba(40,175,60,0.42)" stroke="#000" stroke-width="1.7"/>
<circle cx="1419.8" cy="822.1" r="7.4" fill="rgba(40,175,60,0.42)" stroke="#000" stroke-width="1.7"/>
<circle cx="1420.3" cy="821.6" r="7.4" fill="rgba(40,175,60,0.42)" stroke="#000" stroke-width="1.7"/>
<circle cx="1486.1" cy="975.3" r="7.4" fill="rgba(230,50,65,0.42)" stroke="#000" stroke-width="1.7"/>
<circle cx="1507.4" cy="977.5" r="7.4" fill="rgba(230,50,65,0.42)" stroke="#000" stroke-width="1.7"/>
<circle cx="1512.6" cy="1008.5" r="7.4" fill="rgba(230,50,65,0.42)" stroke="#000" stroke-width="1.7"/>
<circle cx="1524.2" cy="1066.3" r="7.4" fill="rgba(230,50,65,0.42)" stroke="#000" stroke-width="1.7"/>
<circle cx="1530.3" cy="1074.5" r="7.4" fill="rgba(230,50,65,0.42)" stroke="#000" stroke-width="1.7"/>
<circle cx="1515.6" cy="1088.9" r="7.4" fill="rgba(230,50,65,0.42)" stroke="#000" stroke-width="1.7"/>
<circle cx="1518.0" cy="1090.8" r="7.4" fill="rgba(230,50,65,0.42)" stroke="#000" stroke-width="1.7"/>
<circle cx="1504.4" cy="1101.1" r="7.4" fill="rgba(230,50,65,0.42)" stroke="#000" stroke-width="1.7"/>
<circle cx="1519.6" cy="1114.2" r="7.4" fill="rgba(230,50,65,0.42)" stroke="#000" stroke-width="1.7"/>
<circle cx="1520.5" cy="1118.3" r="7.4" fill="rgba(230,50,65,0.42)" stroke="#000" stroke-width="1.7"/>
<circle cx="1502.5" cy="1116.7" r="7.4" fill="rgba(230,50,65,0.42)" stroke="#000" stroke-width="1.7"/>
<circle cx="1496.8" cy="1119.1" r="7.4" fill="rgba(230,50,65,0.42)" stroke="#000" stroke-width="1.7"/>
<circle cx="1512.3" cy="1118.3" r="7.4" fill="rgba(230,50,65,0.42)" stroke="#000" stroke-width="1.7"/>
<circle cx="1507.4" cy="1129.7" r="7.4" fill="rgba(230,50,65,0.42)" stroke="#000" stroke-width="1.7"/>
<circle cx="1497.6" cy="1133.0" r="7.4" fill="rgba(230,50,65,0.42)" stroke="#000" stroke-width="1.7"/>
<circle cx="1495.1" cy="1137.9" r="7.4" fill="rgba(230,50,65,0.42)" stroke="#000" stroke-width="1.7"/>
<circle cx="1499.2" cy="1141.2" r="7.4" fill="rgba(230,50,65,0.42)" stroke="#000" stroke-width="1.7"/>
<circle cx="1507.4" cy="1154.2" r="7.4" fill="rgba(230,50,65,0.42)" stroke="#000" stroke-width="1.7"/>
<circle cx="1496.8" cy="1151.0" r="7.4" fill="rgba(230,50,65,0.42)" stroke="#000" stroke-width="1.7"/>
<circle cx="1500.8" cy="1152.6" r="7.4" fill="rgba(230,50,65,0.42)" stroke="#000" stroke-width="1.7"/>
<circle cx="1495.1" cy="1160.8" r="7.4" fill="rgba(230,50,65,0.42)" stroke="#000" stroke-width="1.7"/>
<circle cx="1500.8" cy="1164.0" r="7.4" fill="rgba(230,50,65,0.42)" stroke="#000" stroke-width="1.7"/>
<circle cx="1496.0" cy="1170.6" r="7.4" fill="rgba(230,50,65,0.42)" stroke="#000" stroke-width="1.7"/>
<circle cx="1498.4" cy="1173.9" r="7.4" fill="rgba(230,50,65,0.42)" stroke="#000" stroke-width="1.7"/>
<circle cx="1507.0" cy="1108.9" r="7.4" fill="rgba(230,50,65,0.42)" stroke="#000" stroke-width="1.7"/>
<circle cx="1494.0" cy="1161.0" r="7.4" fill="rgba(230,50,65,0.42)" stroke="#000" stroke-width="1.7"/>
<circle cx="1498.4" cy="1115.1" r="7.4" fill="rgba(230,50,65,0.42)" stroke="#000" stroke-width="1.7"/>
<circle cx="1514.6" cy="1161.1" r="7.4" fill="rgba(230,50,65,0.42)" stroke="#000" stroke-width="1.7"/>
<circle cx="1500.1" cy="1167.3" r="7.4" fill="rgba(230,50,65,0.42)" stroke="#000" stroke-width="1.7"/>
<circle cx="1505.3" cy="1147.4" r="7.4" fill="rgba(230,50,65,0.42)" stroke="#000" stroke-width="1.7"/>
<circle cx="1498.3" cy="1165.9" r="7.4" fill="rgba(230,50,65,0.42)" stroke="#000" stroke-width="1.7"/>
<circle cx="1508.5" cy="1167.7" r="7.4" fill="rgba(230,50,65,0.42)" stroke="#000" stroke-width="1.7"/>
<circle cx="1512.8" cy="1120.9" r="7.4" fill="rgba(230,50,65,0.42)" stroke="#000" stroke-width="1.7"/>
<circle cx="1501.6" cy="1111.6" r="7.4" fill="rgba(230,50,65,0.42)" stroke="#000" stroke-width="1.7"/>
<circle cx="1497.1" cy="1104.6" r="7.4" fill="rgba(230,50,65,0.42)" stroke="#000" stroke-width="1.7"/>
<circle cx="1500.3" cy="1142.2" r="7.4" fill="rgba(230,50,65,0.42)" stroke="#000" stroke-width="1.7"/>
<circle cx="1494.1" cy="1147.5" r="7.4" fill="rgba(230,50,65,0.42)" stroke="#000" stroke-width="1.7"/>
<circle cx="1501.1" cy="1121.7" r="7.4" fill="rgba(230,50,65,0.42)" stroke="#000" stroke-width="1.7"/>
<circle cx="1769.0" cy="920.7" r="7.4" fill="rgba(50,90,225,0.42)" stroke="#000" stroke-width="1.7"/>
<circle cx="1783.2" cy="914.4" r="7.4" fill="rgba(50,90,225,0.42)" stroke="#000" stroke-width="1.7"/>
<circle cx="1781.7" cy="920.2" r="7.4" fill="rgba(50,90,225,0.42)" stroke="#000" stroke-width="1.7"/>
<circle cx="1792.9" cy="921.7" r="7.4" fill="rgba(50,90,225,0.42)" stroke="#000" stroke-width="1.7"/>
<circle cx="1793.9" cy="917.3" r="7.4" fill="rgba(50,90,225,0.42)" stroke="#000" stroke-width="1.7"/>
<circle cx="1803.7" cy="912.9" r="7.4" fill="rgba(50,90,225,0.42)" stroke="#000" stroke-width="1.7"/>
<circle cx="1805.1" cy="925.1" r="7.4" fill="rgba(50,90,225,0.42)" stroke="#000" stroke-width="1.7"/>
<circle cx="1812.9" cy="911.5" r="7.4" fill="rgba(50,90,225,0.42)" stroke="#000" stroke-width="1.7"/>
<circle cx="1813.4" cy="921.7" r="7.4" fill="rgba(50,90,225,0.42)" stroke="#000" stroke-width="1.7"/>
<circle cx="1819.3" cy="919.3" r="7.4" fill="rgba(50,90,225,0.42)" stroke="#000" stroke-width="1.7"/>
<circle cx="1822.2" cy="917.3" r="7.4" fill="rgba(50,90,225,0.42)" stroke="#000" stroke-width="1.7"/>
<circle cx="1788.0" cy="933.9" r="7.4" fill="rgba(50,90,225,0.42)" stroke="#000" stroke-width="1.7"/>
<circle cx="1780.2" cy="940.2" r="7.4" fill="rgba(50,90,225,0.42)" stroke="#000" stroke-width="1.7"/>
<circle cx="1784.1" cy="938.3" r="7.4" fill="rgba(50,90,225,0.42)" stroke="#000" stroke-width="1.7"/>
<circle cx="1798.8" cy="912.9" r="7.4" fill="rgba(50,90,225,0.42)" stroke="#000" stroke-width="1.7"/>
<circle cx="1808.5" cy="924.1" r="7.4" fill="rgba(50,90,225,0.42)" stroke="#000" stroke-width="1.7"/>
<circle cx="1813.8" cy="918.8" r="7.4" fill="rgba(50,90,225,0.42)" stroke="#000" stroke-width="1.7"/>
<circle cx="1796.7" cy="918.8" r="7.4" fill="rgba(50,90,225,0.42)" stroke="#000" stroke-width="1.7"/>
<circle cx="1810.0" cy="913.7" r="7.4" fill="rgba(50,90,225,0.42)" stroke="#000" stroke-width="1.7"/>
<circle cx="1819.2" cy="913.3" r="7.4" fill="rgba(50,90,225,0.42)" stroke="#000" stroke-width="1.7"/>
<circle cx="1811.5" cy="923.1" r="7.4" fill="rgba(50,90,225,0.42)" stroke="#000" stroke-width="1.7"/>
<circle cx="1786.6" cy="922.5" r="7.4" fill="rgba(50,90,225,0.42)" stroke="#000" stroke-width="1.7"/>
<circle cx="1798.5" cy="919.9" r="7.4" fill="rgba(50,90,225,0.42)" stroke="#000" stroke-width="1.7"/>
<circle cx="1786.3" cy="913.6" r="7.4" fill="rgba(50,90,225,0.42)" stroke="#000" stroke-width="1.7"/>
<circle cx="1792.2" cy="924.5" r="7.4" fill="rgba(50,90,225,0.42)" stroke="#000" stroke-width="1.7"/>
<circle cx="1792.7" cy="922.1" r="7.4" fill="rgba(50,90,225,0.42)" stroke="#000" stroke-width="1.7"/>
<circle cx="1817.6" cy="924.3" r="7.4" fill="rgba(50,90,225,0.42)" stroke="#000" stroke-width="1.7"/>
<circle cx="1797.7" cy="917.3" r="7.4" fill="rgba(50,90,225,0.42)" stroke="#000" stroke-width="1.7"/>
<rect x="1354" y="754" width="533" height="533.5" fill="none" stroke="#111" stroke-width="1.8"/>
<line x1="1423.9" y1="1287.5" x2="1423.9" y2="1299.8" stroke="#111" stroke-width="1.6"/>
<text x="1423.9" y="1333.5" text-anchor="middle" font-family="'Liberation Sans', Arial, sans-serif" font-size="20.8" fill="#111">-20</text>
<line x1="1499.1" y1="1287.5" x2="1499.1" y2="1299.8" stroke="#111" stroke-width="1.6"/>
<text x="1499.1" y="1333.5" text-anchor="middle" font-family="'Liberation Sans', Arial, sans-serif" font-size="20.8" fill="#111">-10</text>
<line x1="1574.3" y1="1287.5" x2="1574.3" y2="1299.8" stroke="#111" stroke-width="1.6"/>
<text x="1574.3" y="1333.5" text-anchor="middle" font-family="'Liberation Sans', Arial, sans-serif" font-size="20.8" fill="#111">0</text>
<line x1="1649.5" y1="1287.5" x2="1649.5" y2="1299.8" stroke="#111" stroke-width="1.6"/>
<text x="1649.5" y="1333.5" text-anchor="middle" font-family="'Liberation Sans', Arial, sans-serif" font-size="20.8" fill="#111">10</text>
<line x1="1724.7" y1="1287.5" x2="1724.7" y2="1299.8" stroke="#111" stroke-width="1.6"/>
<text x="1724.7" y="1333.5" text-anchor="middle" font-family="'Liberation Sans', Arial, sans-serif" font-size="20.8" fill="#111">20</text>
<line x1="1799.9" y1="1287.5" x2="1799.9" y2="1299.8" stroke="#111" stroke-width="1.6"/>
<text x="1799.9" y="1333.5" text-anchor="middle" font-family="'Liberation Sans', Arial, sans-serif" font-size="20.8" fill="#111">30</text>
<line x1="1875.1" y1="1287.5" x2="1875.1" y2="1299.8" stroke="#111" stroke-width="1.6"/>
<text x="1875.1" y="1333.5" text-anchor="middle" font-family="'Liberation Sans', Arial, sans-serif" font-size="20.8" fill="#111">40</text>
<line x1="1341.7" y1="1224.0" x2="1354" y2="1224.0" stroke="#111" stroke-width="1.6"/>
<text transform="translate(1328.3,1224.0) rotate(-90)" text-anchor="middle" font-family="'Liberation Sans', Arial, sans-serif" font-size="20.8" fill="#111">-40</text>
<line x1="1341.7" y1="1090.3" x2="1354" y2="1090.3" stroke="#111" stroke-width="1.6"/>
<text transform="translate(1328.3,1090.3) rotate(-90)" text-anchor="middle" font-family="'Liberation Sans', Arial, sans-serif" font-size="20.8" fill="#111">-20</text>
<line x1="1341.7" y1="956.6" x2="1354" y2="956.6" stroke="#111" stroke-width="1.6"/>
<text transform="translate(1328.3,956.6) rotate(-90)" text-anchor="middle" font-family="'Liberation Sans', Arial, sans-serif" font-size="20.8" fill="#111">0</text>
<line x1="1341.7" y1="822.9" x2="1354" y2="822.9" stroke="#111" stroke-width="1.6"/>
<text transform="translate(1328.3,822.9) rotate(-90)" text-anchor="middle" font-family="'Liberation Sans', Arial, sans-serif" font-size="20.8" fill="#111">20</text>
<text id="sp725" x="1553.2" y="725" font-family="'Liberation Sans', Arial, sans-serif" font-weight="bold" font-size="24" fill="#111" textLength="134.3" lengthAdjust="spacingAndGlyphs">Scores Plot</text>
<text id="xl1382.5" x="1553.2" y="1382.5" font-family="'Liberation Sans', Arial, sans-serif" font-size="20.5" fill="#111" textLength="134.9" lengthAdjust="spacingAndGlyphs">PC 1 ( 42.3 %)</text>
<text transform="translate(1280,1021) rotate(-90)" text-anchor="middle" font-family="'Liberation Sans', Arial, sans-serif" font-size="20.5" fill="#111">PC 2 ( 29.4 %)</text>
<circle cx="1923.6" cy="794.6" r="4.9" fill="none" stroke="rgb(230, 40, 60)" stroke-width="1.6"/>
<text x="1942.5" y="801.6" font-family="'Liberation Sans', Arial, sans-serif" font-size="19.6" fill="#111">Millepora</text>
<circle cx="1923.6" cy="819" r="4.9" fill="none" stroke="rgb(65, 100, 215)" stroke-width="1.6"/>
<text x="1942.5" y="826" font-family="'Liberation Sans', Arial, sans-serif" font-size="19.6" fill="#111">Pocillopora</text>
<circle cx="1923.6" cy="842.7" r="4.9" fill="none" stroke="rgb(40, 180, 70)" stroke-width="1.6"/>
<text x="1942.5" y="849.7" font-family="'Liberation Sans', Arial, sans-serif" font-size="19.6" fill="#111">Porites</text>
<text id="l_poc" x="1634.6" y="855.7" font-family="Carlito, 'Liberation Sans', sans-serif" font-weight="bold" font-size="34.5" fill="#0070c0" textLength="246.9" lengthAdjust="spacingAndGlyphs"><tspan font-style="italic">Pocillopora</tspan> spp.</text>
<text id="l_por" x="1420.6" y="905.7" font-family="Carlito, 'Liberation Sans', sans-serif" font-weight="bold" font-size="34.5" fill="#00b050" textLength="180.5" lengthAdjust="spacingAndGlyphs"><tspan font-style="italic">Porites</tspan> spp.</text>
<text id="l_mil" x="1464.5" y="1249.8" font-family="Carlito, 'Liberation Sans', sans-serif" font-weight="bold" font-size="34.5" fill="#ff0000" textLength="384.8" lengthAdjust="spacingAndGlyphs"><tspan font-style="italic">Millepora</tspan> cf. <tspan font-style="italic">platyphylla.</tspan></text>
<rect x="30" y="1466" width="213" height="263" fill="#fff" stroke="#6e6e6e" stroke-width="1.8"/>
<rect x="30" y="1403.5" width="215.6" height="62.5" fill="#dadada" stroke="#6e6e6e" stroke-width="1.6"/>
<text id="h_AlaB" x="62.9" y="1432.4" font-family="'Liberation Sans', Arial, sans-serif" font-weight="bold" font-size="26" textLength="62.7" lengthAdjust="spacingAndGlyphs">AlaB</text>
<g>
<line x1="26.5" y1="1502.4" x2="30" y2="1502.4" stroke="#8a8a8a" stroke-width="1"/>
<text x="25" y="1506.1" text-anchor="end" font-family="'Liberation Sans', Arial, sans-serif" font-size="10.5" fill="#7f7f7f">30</text>
<line x1="26.5" y1="1553.0" x2="30" y2="1553.0" stroke="#8a8a8a" stroke-width="1"/>
<text x="25" y="1556.7" text-anchor="end" font-family="'Liberation Sans', Arial, sans-serif" font-size="10.5" fill="#7f7f7f">20</text>
<line x1="26.5" y1="1603.5" x2="30" y2="1603.5" stroke="#8a8a8a" stroke-width="1"/>
<text x="25" y="1607.2" text-anchor="end" font-family="'Liberation Sans', Arial, sans-serif" font-size="10.5" fill="#7f7f7f">10</text>
<line x1="26.5" y1="1654.0" x2="30" y2="1654.0" stroke="#8a8a8a" stroke-width="1"/>
<text x="25" y="1657.8" text-anchor="end" font-family="'Liberation Sans', Arial, sans-serif" font-size="10.5" fill="#7f7f7f">0</text>
<line x1="26.5" y1="1704.6" x2="30" y2="1704.6" stroke="#8a8a8a" stroke-width="1"/>
<text x="25" y="1708.3" text-anchor="end" font-family="'Liberation Sans', Arial, sans-serif" font-size="10.5" fill="#7f7f7f">-10</text>
</g>
<line x1="69.6" y1="1729" x2="69.6" y2="1733" stroke="#6e6e6e" stroke-width="1.2"/>
<line x1="137" y1="1729" x2="137" y2="1733" stroke="#6e6e6e" stroke-width="1.2"/>
<line x1="203.7" y1="1729" x2="203.7" y2="1733" stroke="#6e6e6e" stroke-width="1.2"/>
<line x1="68.8" y1="1696.5" x2="68.8" y2="1713.5" stroke="#444" stroke-width="1.3"/>
<rect x="42.4" y="1703" width="52.800000000000004" height="5.5" fill="#e8184a" stroke="#333" stroke-width="1.2"/>
<line x1="42.4" y1="1705.7" x2="95.2" y2="1705.7" stroke="#333" stroke-width="2.4"/>
<line x1="136.65" y1="1499.8" x2="136.65" y2="1577.4" stroke="#444" stroke-width="1.3"/>
<rect x="111.3" y="1535" width="50.7" height="30.7" fill="#3db549" stroke="#333" stroke-width="1.2"/>
<line x1="111.3" y1="1550" x2="162" y2="1550" stroke="#333" stroke-width="2.4"/>
<line x1="203.65" y1="1704" x2="203.65" y2="1718" stroke="#444" stroke-width="1.3"/>
<rect x="178" y="1709.6" width="51.30000000000001" height="5.4" fill="#4169e1" stroke="#333" stroke-width="1.2"/>
<line x1="178" y1="1712.3" x2="229.3" y2="1712.3" stroke="#333" stroke-width="2.4"/>
<circle cx="119.1" cy="1478.5" r="2.6" fill="#000"/>
<circle cx="149.1" cy="1499.1" r="2.6" fill="#000"/>
<circle cx="134.8" cy="1532.4" r="2.6" fill="#000"/>
<circle cx="111.3" cy="1536.3" r="2.6" fill="#000"/>
<circle cx="123.5" cy="1542.2" r="2.6" fill="#000"/>
<circle cx="117.4" cy="1550.9" r="2.6" fill="#000"/>
<circle cx="141.7" cy="1554.8" r="2.6" fill="#000"/>
<circle cx="157.0" cy="1549.3" r="2.6" fill="#000"/>
<circle cx="117.4" cy="1565.7" r="2.6" fill="#000"/>
<circle cx="143.9" cy="1566.1" r="2.6" fill="#000"/>
<circle cx="152.6" cy="1571.1" r="2.6" fill="#000"/>
<circle cx="123.0" cy="1577.4" r="2.6" fill="#000"/>
<circle cx="48.3" cy="1713.5" r="2.6" fill="#000"/>
<circle cx="58.3" cy="1709.6" r="2.6" fill="#000"/>
<circle cx="62.0" cy="1698.7" r="2.6" fill="#000"/>
<circle cx="63.0" cy="1699.8" r="2.6" fill="#000"/>
<circle cx="81.7" cy="1710.4" r="2.6" fill="#000"/>
<circle cx="90.2" cy="1697.0" r="2.6" fill="#000"/>
<circle cx="93.0" cy="1706.3" r="2.6" fill="#000"/>
<circle cx="45.7" cy="1705.9" r="2.6" fill="#000"/>
<circle cx="34.8" cy="1705.2" r="2.6" fill="#000"/>
<circle cx="198.5" cy="1704.8" r="2.6" fill="#000"/>
<circle cx="213.0" cy="1703.7" r="2.6" fill="#000"/>
<circle cx="215.2" cy="1709.1" r="2.6" fill="#000"/>
<circle cx="187.0" cy="1716.1" r="2.6" fill="#000"/>
<circle cx="217.4" cy="1716.1" r="2.6" fill="#000"/>
<circle cx="227.2" cy="1715.0" r="2.6" fill="#000"/>
<circle cx="221.7" cy="1717.2" r="2.6" fill="#000"/>
<circle cx="181.5" cy="1713.9" r="2.6" fill="#000"/>
<polygon points="69.6,1702.1 73.2,1705.7 69.6,1709.3 66.0,1705.7" fill="#ffff00"/>
<polygon points="136.5,1540.1 140.1,1543.7 136.5,1547.3 132.9,1543.7" fill="#ffff00"/>
<polygon points="203.7,1709.2 207.3,1712.8 203.7,1716.4 200.1,1712.8" fill="#ffff00"/>
<line x1="70" y1="1485.6" x2="116.3" y2="1485.6" stroke="#8a8a8a" stroke-width="1.3"/>
<polygon transform="translate(86.50,1476.20)" points="0.00,-5.54 1.48,-1.28 5.99,-1.19 2.40,1.53 3.70,5.85 0.00,3.28 -3.70,5.85 -2.40,1.53 -5.99,-1.19 -1.48,-1.28" fill="#e4e4e4" stroke="#7c7c7c" stroke-width="1.25" stroke-linejoin="miter"/>
<polygon transform="translate(100.50,1476.20)" points="0.00,-5.54 1.48,-1.28 5.99,-1.19 2.40,1.53 3.70,5.85 0.00,3.28 -3.70,5.85 -2.40,1.53 -5.99,-1.19 -1.48,-1.28" fill="#e4e4e4" stroke="#7c7c7c" stroke-width="1.25" stroke-linejoin="miter"/>
<line x1="162.6" y1="1485.6" x2="208.7" y2="1485.6" stroke="#8a8a8a" stroke-width="1.3"/>
<polygon transform="translate(177.80,1476.20)" points="0.00,-5.54 1.48,-1.28 5.99,-1.19 2.40,1.53 3.70,5.85 0.00,3.28 -3.70,5.85 -2.40,1.53 -5.99,-1.19 -1.48,-1.28" fill="#e4e4e4" stroke="#7c7c7c" stroke-width="1.25" stroke-linejoin="miter"/>
<polygon transform="translate(191.80,1476.20)" points="0.00,-5.54 1.48,-1.28 5.99,-1.19 2.40,1.53 3.70,5.85 0.00,3.28 -3.70,5.85 -2.40,1.53 -5.99,-1.19 -1.48,-1.28" fill="#e4e4e4" stroke="#7c7c7c" stroke-width="1.25" stroke-linejoin="miter"/>
<text id="c_AlaB_Mil" x="48.1" y="1767" font-family="Carlito, 'Liberation Sans', sans-serif" font-size="26.5" textLength="37.1" lengthAdjust="spacingAndGlyphs">Mil</text>
<text id="c_AlaB_Por" x="109.9" y="1767" font-family="Carlito, 'Liberation Sans', sans-serif" font-size="26.5" textLength="39.0" lengthAdjust="spacingAndGlyphs">Por</text>
<text id="c_AlaB_Poc" x="185.8" y="1767" font-family="Carlito, 'Liberation Sans', sans-serif" font-size="26.5" textLength="41.5" lengthAdjust="spacingAndGlyphs">Poc</text>
<rect x="269" y="1467.2" width="213.60000000000002" height="261.5" fill="#fff" stroke="#6e6e6e" stroke-width="1.8"/>
<rect x="267.8" y="1406.3" width="215.89999999999998" height="60.90000000000009" fill="#dadada" stroke="#6e6e6e" stroke-width="1.6"/>
<text id="h_GlyB" x="294.3" y="1432.4" font-family="'Liberation Sans', Arial, sans-serif" font-weight="bold" font-size="26" textLength="64.8" lengthAdjust="spacingAndGlyphs">GlyB</text>
<g clip-path="url(#glyclip)">
<line x1="265.5" y1="1498.0" x2="269" y2="1498.0" stroke="#8a8a8a" stroke-width="1"/>
<text x="264" y="1501.7" text-anchor="end" font-family="'Liberation Sans', Arial, sans-serif" font-size="10.5" fill="#7f7f7f">100</text>
<line x1="265.5" y1="1567.6" x2="269" y2="1567.6" stroke="#8a8a8a" stroke-width="1"/>
<text x="264" y="1571.3" text-anchor="end" font-family="'Liberation Sans', Arial, sans-serif" font-size="10.5" fill="#7f7f7f">50</text>
<line x1="265.5" y1="1637.1" x2="269" y2="1637.1" stroke="#8a8a8a" stroke-width="1"/>
<text x="264" y="1640.8" text-anchor="end" font-family="'Liberation Sans', Arial, sans-serif" font-size="10.5" fill="#7f7f7f">0</text>
<line x1="265.5" y1="1706.7" x2="269" y2="1706.7" stroke="#8a8a8a" stroke-width="1"/>
<text x="264" y="1710.4" text-anchor="end" font-family="'Liberation Sans', Arial, sans-serif" font-size="10.5" fill="#7f7f7f">-50</text>
</g>
<line x1="308.3" y1="1728.7" x2="308.3" y2="1732.7" stroke="#6e6e6e" stroke-width="1.2"/>
<line x1="375.4" y1="1728.7" x2="375.4" y2="1732.7" stroke="#6e6e6e" stroke-width="1.2"/>
<line x1="442.4" y1="1728.7" x2="442.4" y2="1732.7" stroke="#6e6e6e" stroke-width="1.2"/>
<line x1="309.0" y1="1694" x2="309.0" y2="1712" stroke="#444" stroke-width="1.3"/>
<rect x="283.7" y="1699" width="50.60000000000002" height="10.0" fill="#e8184a" stroke="#333" stroke-width="1.2"/>
<line x1="283.7" y1="1704" x2="334.3" y2="1704" stroke="#333" stroke-width="2.4"/>
<line x1="375.7" y1="1710" x2="375.7" y2="1717.5" stroke="#444" stroke-width="1.3"/>
<rect x="350.4" y="1711.7" width="50.60000000000002" height="4.3" fill="#3a7a3a" stroke="#333" stroke-width="1.2"/>
<line x1="350.4" y1="1714" x2="401" y2="1714" stroke="#333" stroke-width="2.4"/>
<line x1="442.7" y1="1477" x2="442.7" y2="1508" stroke="#444" stroke-width="1.3"/>
<rect x="417.4" y="1485" width="50.60000000000002" height="16.3" fill="#4169e1" stroke="#333" stroke-width="1.2"/>
<line x1="417.4" y1="1491.5" x2="468" y2="1491.5" stroke="#333" stroke-width="2.4"/>
<circle cx="428.3" cy="1479.6" r="2.6" fill="#000"/>
<circle cx="447.8" cy="1477.0" r="2.6" fill="#000"/>
<circle cx="458.7" cy="1484.1" r="2.6" fill="#000"/>
<circle cx="452.2" cy="1489.6" r="2.6" fill="#000"/>
<circle cx="452.2" cy="1495.9" r="2.6" fill="#000"/>
<circle cx="443.5" cy="1498.0" r="2.6" fill="#000"/>
<circle cx="436.5" cy="1499.8" r="2.6" fill="#000"/>
<circle cx="445.7" cy="1503.7" r="2.6" fill="#000"/>
<circle cx="446.7" cy="1508.5" r="2.6" fill="#000"/>
<circle cx="417.4" cy="1508.0" r="2.6" fill="#000"/>
<circle cx="443.5" cy="1485.7" r="2.6" fill="#000"/>
<circle cx="285.9" cy="1698.7" r="2.6" fill="#000"/>
<circle cx="284.8" cy="1704.8" r="2.6" fill="#000"/>
<circle cx="296.7" cy="1708.0" r="2.6" fill="#000"/>
<circle cx="300.7" cy="1710.7" r="2.6" fill="#000"/>
<circle cx="307.0" cy="1712.8" r="2.6" fill="#000"/>
<circle cx="313.0" cy="1700.9" r="2.6" fill="#000"/>
<circle cx="319.6" cy="1696.1" r="2.6" fill="#000"/>
<circle cx="317.8" cy="1714.6" r="2.6" fill="#000"/>
<circle cx="327.2" cy="1706.3" r="2.6" fill="#000"/>
<circle cx="334.1" cy="1707.4" r="2.6" fill="#000"/>
<circle cx="315.2" cy="1698.7" r="2.6" fill="#000"/>
<circle cx="356.5" cy="1712.4" r="2.6" fill="#000"/>
<circle cx="360.9" cy="1716.1" r="2.6" fill="#000"/>
<circle cx="371.7" cy="1715.0" r="2.6" fill="#000"/>
<circle cx="384.8" cy="1711.7" r="2.6" fill="#000"/>
<circle cx="391.3" cy="1713.9" r="2.6" fill="#000"/>
<circle cx="398.9" cy="1712.8" r="2.6" fill="#000"/>
<circle cx="380.4" cy="1716.1" r="2.6" fill="#000"/>
<polygon points="308.7,1701.6 312.3,1705.2 308.7,1708.8 305.1,1705.2" fill="#ffff00"/>
<polygon points="375.7,1710.7 379.3,1714.3 375.7,1717.9 372.1,1714.3" fill="#ffff00"/>
<polygon points="442.4,1489.7 446.0,1493.3 442.4,1496.9 438.8,1493.3" fill="#ffff00"/>
<line x1="312.6" y1="1475.4" x2="420.7" y2="1475.4" stroke="#8a8a8a" stroke-width="1.3"/>
<polygon transform="translate(361.50,1470.70)" points="0.00,-5.54 1.48,-1.28 5.99,-1.19 2.40,1.53 3.70,5.85 0.00,3.28 -3.70,5.85 -2.40,1.53 -5.99,-1.19 -1.48,-1.28" fill="#e4e4e4" stroke="#7c7c7c" stroke-width="1.25" stroke-linejoin="miter"/>
<polygon transform="translate(375.50,1470.70)" points="0.00,-5.54 1.48,-1.28 5.99,-1.19 2.40,1.53 3.70,5.85 0.00,3.28 -3.70,5.85 -2.40,1.53 -5.99,-1.19 -1.48,-1.28" fill="#e4e4e4" stroke="#7c7c7c" stroke-width="1.25" stroke-linejoin="miter"/>
<line x1="381.5" y1="1484.6" x2="415" y2="1484.6" stroke="#8a8a8a" stroke-width="1.3"/>
<polygon transform="translate(393.00,1481.20)" points="0.00,-5.54 1.48,-1.28 5.99,-1.19 2.40,1.53 3.70,5.85 0.00,3.28 -3.70,5.85 -2.40,1.53 -5.99,-1.19 -1.48,-1.28" fill="#e4e4e4" stroke="#7c7c7c" stroke-width="1.25" stroke-linejoin="miter"/>
<polygon transform="translate(407.00,1481.20)" points="0.00,-5.54 1.48,-1.28 5.99,-1.19 2.40,1.53 3.70,5.85 0.00,3.28 -3.70,5.85 -2.40,1.53 -5.99,-1.19 -1.48,-1.28" fill="#e4e4e4" stroke="#7c7c7c" stroke-width="1.25" stroke-linejoin="miter"/>
<line x1="324" y1="1674.3" x2="369.6" y2="1674.3" stroke="#8a8a8a" stroke-width="1.3"/>
<polygon transform="translate(347.80,1659.90)" points="0.00,-6.60 1.76,-1.53 7.13,-1.42 2.85,1.83 4.41,6.97 0.00,3.90 -4.41,6.97 -2.85,1.83 -7.13,-1.42 -1.76,-1.53" fill="#e4e4e4" stroke="#7c7c7c" stroke-width="1.25" stroke-linejoin="miter"/>
<text id="c_GlyB_Mil" x="289.5" y="1767" font-family="Carlito, 'Liberation Sans', sans-serif" font-size="26.5" textLength="37.9" lengthAdjust="spacingAndGlyphs">Mil</text>
<text id="c_GlyB_Por" x="350.9" y="1767" font-family="Carlito, 'Liberation Sans', sans-serif" font-size="26.5" textLength="38.5" lengthAdjust="spacingAndGlyphs">Por</text>
<text id="c_GlyB_Poc" x="427.9" y="1767" font-family="Carlito, 'Liberation Sans', sans-serif" font-size="26.5" textLength="39.8" lengthAdjust="spacingAndGlyphs">Poc</text>
<rect x="511.7" y="1465.7" width="214.8" height="264.5" fill="#fff" stroke="#6e6e6e" stroke-width="1.8"/>
<rect x="512.4" y="1404.6" width="214.60000000000002" height="61.100000000000136" fill="#dadada" stroke="#6e6e6e" stroke-width="1.6"/>
<text id="h_Homarine" x="517.8" y="1432.9" font-family="'Liberation Sans', Arial, sans-serif" font-weight="bold" font-size="26" textLength="123.1" lengthAdjust="spacingAndGlyphs">Homarine</text>
<g>
<line x1="508.2" y1="1470.9" x2="511.7" y2="1470.9" stroke="#8a8a8a" stroke-width="1"/>
<text x="506.7" y="1474.6" text-anchor="end" font-family="'Liberation Sans', Arial, sans-serif" font-size="10.5" fill="#7f7f7f">40</text>
<line x1="508.2" y1="1521.0" x2="511.7" y2="1521.0" stroke="#8a8a8a" stroke-width="1"/>
<text x="506.7" y="1524.7" text-anchor="end" font-family="'Liberation Sans', Arial, sans-serif" font-size="10.5" fill="#7f7f7f">30</text>
<line x1="508.2" y1="1571.1" x2="511.7" y2="1571.1" stroke="#8a8a8a" stroke-width="1"/>
<text x="506.7" y="1574.8" text-anchor="end" font-family="'Liberation Sans', Arial, sans-serif" font-size="10.5" fill="#7f7f7f">20</text>
<line x1="508.2" y1="1621.1" x2="511.7" y2="1621.1" stroke="#8a8a8a" stroke-width="1"/>
<text x="506.7" y="1624.8" text-anchor="end" font-family="'Liberation Sans', Arial, sans-serif" font-size="10.5" fill="#7f7f7f">10</text>
<line x1="508.2" y1="1671.2" x2="511.7" y2="1671.2" stroke="#8a8a8a" stroke-width="1"/>
<text x="506.7" y="1674.9" text-anchor="end" font-family="'Liberation Sans', Arial, sans-serif" font-size="10.5" fill="#7f7f7f">0</text>
<line x1="508.2" y1="1721.3" x2="511.7" y2="1721.3" stroke="#8a8a8a" stroke-width="1"/>
<text x="506.7" y="1725.0" text-anchor="end" font-family="'Liberation Sans', Arial, sans-serif" font-size="10.5" fill="#7f7f7f">-10</text>
</g>
<line x1="551.5" y1="1730.2" x2="551.5" y2="1734.2" stroke="#6e6e6e" stroke-width="1.2"/>
<line x1="619.3" y1="1730.2" x2="619.3" y2="1734.2" stroke="#6e6e6e" stroke-width="1.2"/>
<line x1="686.3" y1="1730.2" x2="686.3" y2="1734.2" stroke="#6e6e6e" stroke-width="1.2"/>
<line x1="551.45" y1="1713" x2="551.45" y2="1718" stroke="#444" stroke-width="1.3"/>
<rect x="525.9" y="1714.4" width="51.10000000000002" height="2.2" fill="#3a2030" stroke="#333" stroke-width="1.2"/>
<line x1="525.9" y1="1715.5" x2="577" y2="1715.5" stroke="#333" stroke-width="2.4"/>
<line x1="619.0" y1="1478" x2="619.0" y2="1654.8" stroke="#444" stroke-width="1.3"/>
<rect x="593.7" y="1555.2" width="50.59999999999991" height="60.8" fill="#3db549" stroke="#333" stroke-width="1.2"/>
<line x1="593.7" y1="1584.6" x2="644.3" y2="1584.6" stroke="#333" stroke-width="2.4"/>
<line x1="687.05" y1="1713" x2="687.05" y2="1717" stroke="#444" stroke-width="1.3"/>
<rect x="660.2" y="1714" width="53.69999999999993" height="2.0" fill="#202040" stroke="#333" stroke-width="1.2"/>
<line x1="660.2" y1="1715" x2="713.9" y2="1715" stroke="#333" stroke-width="2.4"/>
<circle cx="605.2" cy="1477.8" r="2.6" fill="#000"/>
<circle cx="593.3" cy="1545.7" r="2.6" fill="#000"/>
<circle cx="637.8" cy="1543.5" r="2.6" fill="#000"/>
<circle cx="620.0" cy="1558.0" r="2.6" fill="#000"/>
<circle cx="608.5" cy="1567.8" r="2.6" fill="#000"/>
<circle cx="595.4" cy="1586.3" r="2.6" fill="#000"/>
<circle cx="625.2" cy="1584.1" r="2.6" fill="#000"/>
<circle cx="611.3" cy="1607.0" r="2.6" fill="#000"/>
<circle cx="608.5" cy="1613.9" r="2.6" fill="#000"/>
<circle cx="610.0" cy="1621.1" r="2.6" fill="#000"/>
<circle cx="605.2" cy="1628.7" r="2.6" fill="#000"/>
<circle cx="642.2" cy="1655.2" r="2.6" fill="#000"/>
<circle cx="528.0" cy="1716.1" r="2.6" fill="#000"/>
<circle cx="537.4" cy="1713.5" r="2.6" fill="#000"/>
<circle cx="543.3" cy="1717.2" r="2.6" fill="#000"/>
<circle cx="557.4" cy="1715.4" r="2.6" fill="#000"/>
<circle cx="567.2" cy="1715.0" r="2.6" fill="#000"/>
<circle cx="571.5" cy="1718.3" r="2.6" fill="#000"/>
<circle cx="574.8" cy="1716.7" r="2.6" fill="#000"/>
<circle cx="661.7" cy="1714.3" r="2.6" fill="#000"/>
<circle cx="677.0" cy="1715.0" r="2.6" fill="#000"/>
<circle cx="681.7" cy="1706.7" r="2.6" fill="#000"/>
<circle cx="694.3" cy="1715.4" r="2.6" fill="#000"/>
<circle cx="704.1" cy="1716.1" r="2.6" fill="#000"/>
<circle cx="711.7" cy="1714.6" r="2.6" fill="#000"/>
<circle cx="712.2" cy="1716.5" r="2.6" fill="#000"/>
<polygon points="552.0,1712.5 555.6,1716.1 552.0,1719.7 548.4,1716.1" fill="#ffff00"/>
<polygon points="618.7,1578.8 622.3,1582.4 618.7,1586.0 615.1,1582.4" fill="#ffff00"/>
<polygon points="686.3,1711.0 689.9,1714.6 686.3,1718.2 682.7,1714.6" fill="#ffff00"/>
<line x1="550.4" y1="1485.6" x2="596.5" y2="1485.6" stroke="#8a8a8a" stroke-width="1.3"/>
<polygon transform="translate(567.00,1476.20)" points="0.00,-5.54 1.48,-1.28 5.99,-1.19 2.40,1.53 3.70,5.85 0.00,3.28 -3.70,5.85 -2.40,1.53 -5.99,-1.19 -1.48,-1.28" fill="#e4e4e4" stroke="#7c7c7c" stroke-width="1.25" stroke-linejoin="miter"/>
<polygon transform="translate(581.00,1476.20)" points="0.00,-5.54 1.48,-1.28 5.99,-1.19 2.40,1.53 3.70,5.85 0.00,3.28 -3.70,5.85 -2.40,1.53 -5.99,-1.19 -1.48,-1.28" fill="#e4e4e4" stroke="#7c7c7c" stroke-width="1.25" stroke-linejoin="miter"/>
<line x1="637.4" y1="1485.6" x2="683.5" y2="1485.6" stroke="#8a8a8a" stroke-width="1.3"/>
<polygon transform="translate(654.00,1476.20)" points="0.00,-5.54 1.48,-1.28 5.99,-1.19 2.40,1.53 3.70,5.85 0.00,3.28 -3.70,5.85 -2.40,1.53 -5.99,-1.19 -1.48,-1.28" fill="#e4e4e4" stroke="#7c7c7c" stroke-width="1.25" stroke-linejoin="miter"/>
<polygon transform="translate(668.00,1476.20)" points="0.00,-5.54 1.48,-1.28 5.99,-1.19 2.40,1.53 3.70,5.85 0.00,3.28 -3.70,5.85 -2.40,1.53 -5.99,-1.19 -1.48,-1.28" fill="#e4e4e4" stroke="#7c7c7c" stroke-width="1.25" stroke-linejoin="miter"/>
<text id="c_Homarine_Mil" x="534.5" y="1768.8" font-family="Carlito, 'Liberation Sans', sans-serif" font-size="26.5" textLength="37.9" lengthAdjust="spacingAndGlyphs">Mil</text>
<text id="c_Homarine_Por" x="595.9" y="1768.8" font-family="Carlito, 'Liberation Sans', sans-serif" font-size="26.5" textLength="38.5" lengthAdjust="spacingAndGlyphs">Por</text>
<text id="c_Homarine_Poc" x="673.6" y="1768.8" font-family="Carlito, 'Liberation Sans', sans-serif" font-size="26.5" textLength="39.9" lengthAdjust="spacingAndGlyphs">Poc</text>
<rect x="758.5" y="1465.7" width="213.0" height="263.0" fill="#fff" stroke="#6e6e6e" stroke-width="1.8"/>
<rect x="758.5" y="1404.6" width="213.5" height="61.100000000000136" fill="#dadada" stroke="#6e6e6e" stroke-width="1.6"/>
<text id="h_HProB" x="786.5" y="1432.9" font-family="'Liberation Sans', Arial, sans-serif" font-weight="bold" font-size="26" textLength="83.7" lengthAdjust="spacingAndGlyphs">HProB</text>
<g>
<line x1="755.0" y1="1524.1" x2="758.5" y2="1524.1" stroke="#8a8a8a" stroke-width="1"/>
<text x="753.5" y="1527.8" text-anchor="end" font-family="'Liberation Sans', Arial, sans-serif" font-size="10.5" fill="#7f7f7f">20</text>
<line x1="755.0" y1="1585.7" x2="758.5" y2="1585.7" stroke="#8a8a8a" stroke-width="1"/>
<text x="753.5" y="1589.4" text-anchor="end" font-family="'Liberation Sans', Arial, sans-serif" font-size="10.5" fill="#7f7f7f">10</text>
<line x1="755.0" y1="1647.3" x2="758.5" y2="1647.3" stroke="#8a8a8a" stroke-width="1"/>
<text x="753.5" y="1651.0" text-anchor="end" font-family="'Liberation Sans', Arial, sans-serif" font-size="10.5" fill="#7f7f7f">0</text>
<line x1="755.0" y1="1708.9" x2="758.5" y2="1708.9" stroke="#8a8a8a" stroke-width="1"/>
<text x="753.5" y="1712.6" text-anchor="end" font-family="'Liberation Sans', Arial, sans-serif" font-size="10.5" fill="#7f7f7f">-10</text>
</g>
<line x1="797.6" y1="1728.7" x2="797.6" y2="1732.7" stroke="#6e6e6e" stroke-width="1.2"/>
<line x1="864.8" y1="1728.7" x2="864.8" y2="1732.7" stroke="#6e6e6e" stroke-width="1.2"/>
<line x1="931.7" y1="1728.7" x2="931.7" y2="1732.7" stroke="#6e6e6e" stroke-width="1.2"/>
<line x1="797.7" y1="1484.6" x2="797.7" y2="1612.8" stroke="#444" stroke-width="1.3"/>
<rect x="772.4" y="1519.3" width="50.60000000000002" height="55.0" fill="#e8184a" stroke="#333" stroke-width="1.2"/>
<line x1="772.4" y1="1555.7" x2="823" y2="1555.7" stroke="#333" stroke-width="2.4"/>
<line x1="864.9" y1="1666" x2="864.9" y2="1717.2" stroke="#444" stroke-width="1.3"/>
<rect x="839.8" y="1686.7" width="50.200000000000045" height="18.5" fill="#3db549" stroke="#333" stroke-width="1.2"/>
<line x1="839.8" y1="1697" x2="890" y2="1697" stroke="#333" stroke-width="2.4"/>
<line x1="931.95" y1="1681.3" x2="931.95" y2="1705.7" stroke="#444" stroke-width="1.3"/>
<rect x="906.7" y="1688.3" width="50.5" height="10.8" fill="#4169e1" stroke="#333" stroke-width="1.2"/>
<line x1="906.7" y1="1694.3" x2="957.2" y2="1694.3" stroke="#333" stroke-width="2.4"/>
<circle cx="796.3" cy="1482.0" r="2.6" fill="#000"/>
<circle cx="801.1" cy="1478.0" r="2.6" fill="#000"/>
<circle cx="775.2" cy="1510.7" r="2.6" fill="#000"/>
<circle cx="776.3" cy="1522.2" r="2.6" fill="#000"/>
<circle cx="772.0" cy="1526.5" r="2.6" fill="#000"/>
<circle cx="781.7" cy="1552.4" r="2.6" fill="#000"/>
<circle cx="775.9" cy="1562.8" r="2.6" fill="#000"/>
<circle cx="823.5" cy="1560.0" r="2.6" fill="#000"/>
<circle cx="803.5" cy="1572.6" r="2.6" fill="#000"/>
<circle cx="811.1" cy="1579.6" r="2.6" fill="#000"/>
<circle cx="782.8" cy="1613.5" r="2.6" fill="#000"/>
<circle cx="782.8" cy="1665.0" r="2.6" fill="#000"/>
<circle cx="842.2" cy="1665.4" r="2.6" fill="#000"/>
<circle cx="858.9" cy="1686.7" r="2.6" fill="#000"/>
<circle cx="865.0" cy="1686.7" r="2.6" fill="#000"/>
<circle cx="884.6" cy="1686.3" r="2.6" fill="#000"/>
<circle cx="849.8" cy="1693.3" r="2.6" fill="#000"/>
<circle cx="846.5" cy="1698.3" r="2.6" fill="#000"/>
<circle cx="857.8" cy="1697.2" r="2.6" fill="#000"/>
<circle cx="847.6" cy="1707.4" r="2.6" fill="#000"/>
<circle cx="878.5" cy="1704.1" r="2.6" fill="#000"/>
<circle cx="888.3" cy="1704.1" r="2.6" fill="#000"/>
<circle cx="888.3" cy="1710.7" r="2.6" fill="#000"/>
<circle cx="847.6" cy="1717.6" r="2.6" fill="#000"/>
<circle cx="912.2" cy="1680.9" r="2.6" fill="#000"/>
<circle cx="925.9" cy="1680.2" r="2.6" fill="#000"/>
<circle cx="933.5" cy="1682.0" r="2.6" fill="#000"/>
<circle cx="905.7" cy="1690.7" r="2.6" fill="#000"/>
<circle cx="914.3" cy="1690.7" r="2.6" fill="#000"/>
<circle cx="906.7" cy="1694.3" r="2.6" fill="#000"/>
<circle cx="910.7" cy="1698.7" r="2.6" fill="#000"/>
<circle cx="924.1" cy="1700.4" r="2.6" fill="#000"/>
<circle cx="953.0" cy="1698.3" r="2.6" fill="#000"/>
<circle cx="905.7" cy="1705.9" r="2.6" fill="#000"/>
<circle cx="910.7" cy="1704.8" r="2.6" fill="#000"/>
<polygon points="797.6,1548.4 801.2,1552.0 797.6,1555.6 794.0,1552.0" fill="#ffff00"/>
<polygon points="864.8,1692.9 868.4,1696.5 864.8,1700.1 861.2,1696.5" fill="#ffff00"/>
<polygon points="931.7,1690.1 935.3,1693.7 931.7,1697.3 928.1,1693.7" fill="#ffff00"/>
<line x1="816.5" y1="1489" x2="924.6" y2="1489" stroke="#8a8a8a" stroke-width="1.3"/>
<polygon transform="translate(862.80,1478.80)" points="0.00,-5.54 1.48,-1.28 5.99,-1.19 2.40,1.53 3.70,5.85 0.00,3.28 -3.70,5.85 -2.40,1.53 -5.99,-1.19 -1.48,-1.28" fill="#e4e4e4" stroke="#7c7c7c" stroke-width="1.25" stroke-linejoin="miter"/>
<polygon transform="translate(876.80,1478.80)" points="0.00,-5.54 1.48,-1.28 5.99,-1.19 2.40,1.53 3.70,5.85 0.00,3.28 -3.70,5.85 -2.40,1.53 -5.99,-1.19 -1.48,-1.28" fill="#e4e4e4" stroke="#7c7c7c" stroke-width="1.25" stroke-linejoin="miter"/>
<line x1="810.7" y1="1505.7" x2="849" y2="1505.7" stroke="#8a8a8a" stroke-width="1.3"/>
<polygon transform="translate(824.70,1497.90)" points="0.00,-5.54 1.48,-1.28 5.99,-1.19 2.40,1.53 3.70,5.85 0.00,3.28 -3.70,5.85 -2.40,1.53 -5.99,-1.19 -1.48,-1.28" fill="#e4e4e4" stroke="#7c7c7c" stroke-width="1.25" stroke-linejoin="miter"/>
<polygon transform="translate(838.70,1497.90)" points="0.00,-5.54 1.48,-1.28 5.99,-1.19 2.40,1.53 3.70,5.85 0.00,3.28 -3.70,5.85 -2.40,1.53 -5.99,-1.19 -1.48,-1.28" fill="#e4e4e4" stroke="#7c7c7c" stroke-width="1.25" stroke-linejoin="miter"/>
<text id="c_HProB_Mil" x="781.5" y="1768.5" font-family="Carlito, 'Liberation Sans', sans-serif" font-size="26.5" textLength="37.3" lengthAdjust="spacingAndGlyphs">Mil</text>
<text id="c_HProB_Por" x="843.6" y="1768.5" font-family="Carlito, 'Liberation Sans', sans-serif" font-size="26.5" textLength="37.3" lengthAdjust="spacingAndGlyphs">Por</text>
<text id="c_HProB_Poc" x="919.5" y="1768.5" font-family="Carlito, 'Liberation Sans', sans-serif" font-size="26.5" textLength="41.2" lengthAdjust="spacingAndGlyphs">Poc</text>
<rect x="998.5" y="1466.5" width="215.5" height="263.70000000000005" fill="#fff" stroke="#6e6e6e" stroke-width="1.8"/>
<rect x="998.5" y="1404.6" width="216.29999999999995" height="61.90000000000009" fill="#dadada" stroke="#6e6e6e" stroke-width="1.6"/>
<text id="h_ProB" x="1025.0" y="1432.9" font-family="'Liberation Sans', Arial, sans-serif" font-weight="bold" font-size="26" textLength="64.2" lengthAdjust="spacingAndGlyphs">ProB</text>
<g>
<line x1="995.0" y1="1504.6" x2="998.5" y2="1504.6" stroke="#8a8a8a" stroke-width="1"/>
<text x="993.5" y="1508.3" text-anchor="end" font-family="'Liberation Sans', Arial, sans-serif" font-size="10.5" fill="#7f7f7f">40</text>
<line x1="995.0" y1="1580.4" x2="998.5" y2="1580.4" stroke="#8a8a8a" stroke-width="1"/>
<text x="993.5" y="1584.1" text-anchor="end" font-family="'Liberation Sans', Arial, sans-serif" font-size="10.5" fill="#7f7f7f">20</text>
<line x1="995.0" y1="1656.3" x2="998.5" y2="1656.3" stroke="#8a8a8a" stroke-width="1"/>
<text x="993.5" y="1660.0" text-anchor="end" font-family="'Liberation Sans', Arial, sans-serif" font-size="10.5" fill="#7f7f7f">0</text>
</g>
<line x1="1038.5" y1="1730.2" x2="1038.5" y2="1734.2" stroke="#6e6e6e" stroke-width="1.2"/>
<line x1="1105.9" y1="1730.2" x2="1105.9" y2="1734.2" stroke="#6e6e6e" stroke-width="1.2"/>
<line x1="1172.8" y1="1730.2" x2="1172.8" y2="1734.2" stroke="#6e6e6e" stroke-width="1.2"/>
<line x1="1038.15" y1="1678" x2="1038.15" y2="1717" stroke="#444" stroke-width="1.3"/>
<rect x="1012.6" y="1698.7" width="51.10000000000002" height="18.0" fill="#e8184a" stroke="#333" stroke-width="1.2"/>
<line x1="1012.6" y1="1711.3" x2="1063.7" y2="1711.3" stroke="#333" stroke-width="2.4"/>
<line x1="1105.95" y1="1478" x2="1105.95" y2="1608.5" stroke="#444" stroke-width="1.3"/>
<rect x="1080.4" y="1529.6" width="51.09999999999991" height="53.4" fill="#3db549" stroke="#333" stroke-width="1.2"/>
<line x1="1080.4" y1="1550.2" x2="1131.5" y2="1550.2" stroke="#333" stroke-width="2.4"/>
<line x1="1173.35" y1="1696.5" x2="1173.35" y2="1716.5" stroke="#444" stroke-width="1.3"/>
<rect x="1147.8" y="1707.4" width="51.100000000000136" height="8.7" fill="#4169e1" stroke="#333" stroke-width="1.2"/>
<line x1="1147.8" y1="1711" x2="1198.9" y2="1711" stroke="#333" stroke-width="2.4"/>
<circle cx="1112.0" cy="1477.6" r="2.6" fill="#000"/>
<circle cx="1128.5" cy="1523.7" r="2.6" fill="#000"/>
<circle cx="1113.3" cy="1526.5" r="2.6" fill="#000"/>
<circle cx="1117.4" cy="1530.9" r="2.6" fill="#000"/>
<circle cx="1107.2" cy="1541.7" r="2.6" fill="#000"/>
<circle cx="1087.0" cy="1546.1" r="2.6" fill="#000"/>
<circle cx="1100.7" cy="1555.7" r="2.6" fill="#000"/>
<circle cx="1123.3" cy="1576.5" r="2.6" fill="#000"/>
<circle cx="1112.0" cy="1581.3" r="2.6" fill="#000"/>
<circle cx="1128.5" cy="1589.6" r="2.6" fill="#000"/>
<circle cx="1084.8" cy="1603.7" r="2.6" fill="#000"/>
<circle cx="1108.3" cy="1608.9" r="2.6" fill="#000"/>
<circle cx="1044.1" cy="1666.1" r="2.6" fill="#000"/>
<circle cx="1032.2" cy="1677.4" r="2.6" fill="#000"/>
<circle cx="1045.9" cy="1692.2" r="2.6" fill="#000"/>
<circle cx="1021.3" cy="1700.9" r="2.6" fill="#000"/>
<circle cx="1050.0" cy="1706.3" r="2.6" fill="#000"/>
<circle cx="1014.1" cy="1713.9" r="2.6" fill="#000"/>
<circle cx="1019.6" cy="1717.2" r="2.6" fill="#000"/>
<circle cx="1022.4" cy="1717.2" r="2.6" fill="#000"/>
<circle cx="1047.4" cy="1718.3" r="2.6" fill="#000"/>
<circle cx="1058.3" cy="1715.7" r="2.6" fill="#000"/>
<circle cx="1171.7" cy="1690.0" r="2.6" fill="#000"/>
<circle cx="1158.7" cy="1697.0" r="2.6" fill="#000"/>
<circle cx="1165.2" cy="1709.1" r="2.6" fill="#000"/>
<circle cx="1183.7" cy="1711.3" r="2.6" fill="#000"/>
<circle cx="1187.0" cy="1707.4" r="2.6" fill="#000"/>
<circle cx="1151.1" cy="1716.1" r="2.6" fill="#000"/>
<circle cx="1158.7" cy="1716.7" r="2.6" fill="#000"/>
<circle cx="1167.4" cy="1716.7" r="2.6" fill="#000"/>
<polygon points="1038.0,1701.2 1041.6,1704.8 1038.0,1708.4 1034.4,1704.8" fill="#ffff00"/>
<polygon points="1105.4,1552.1 1109.0,1555.7 1105.4,1559.3 1101.8,1555.7" fill="#ffff00"/>
<polygon points="1173.3,1705.5 1176.9,1709.1 1173.3,1712.7 1169.7,1709.1" fill="#ffff00"/>
<line x1="1048.9" y1="1493.3" x2="1087" y2="1493.3" stroke="#8a8a8a" stroke-width="1.3"/>
<polygon transform="translate(1061.50,1482.70)" points="0.00,-5.54 1.48,-1.28 5.99,-1.19 2.40,1.53 3.70,5.85 0.00,3.28 -3.70,5.85 -2.40,1.53 -5.99,-1.19 -1.48,-1.28" fill="#e4e4e4" stroke="#7c7c7c" stroke-width="1.25" stroke-linejoin="miter"/>
<polygon transform="translate(1075.50,1482.70)" points="0.00,-5.54 1.48,-1.28 5.99,-1.19 2.40,1.53 3.70,5.85 0.00,3.28 -3.70,5.85 -2.40,1.53 -5.99,-1.19 -1.48,-1.28" fill="#e4e4e4" stroke="#7c7c7c" stroke-width="1.25" stroke-linejoin="miter"/>
<line x1="1129.3" y1="1493.3" x2="1167.4" y2="1493.3" stroke="#8a8a8a" stroke-width="1.3"/>
<polygon transform="translate(1142.00,1482.70)" points="0.00,-5.54 1.48,-1.28 5.99,-1.19 2.40,1.53 3.70,5.85 0.00,3.28 -3.70,5.85 -2.40,1.53 -5.99,-1.19 -1.48,-1.28" fill="#e4e4e4" stroke="#7c7c7c" stroke-width="1.25" stroke-linejoin="miter"/>
<polygon transform="translate(1156.00,1482.70)" points="0.00,-5.54 1.48,-1.28 5.99,-1.19 2.40,1.53 3.70,5.85 0.00,3.28 -3.70,5.85 -2.40,1.53 -5.99,-1.19 -1.48,-1.28" fill="#e4e4e4" stroke="#7c7c7c" stroke-width="1.25" stroke-linejoin="miter"/>
<text id="c_ProB_Mil" x="1019.5" y="1768.5" font-family="Carlito, 'Liberation Sans', sans-serif" font-size="26.5" textLength="37.1" lengthAdjust="spacingAndGlyphs">Mil</text>
<text id="c_ProB_Por" x="1080.9" y="1768.5" font-family="Carlito, 'Liberation Sans', sans-serif" font-size="26.5" textLength="38.5" lengthAdjust="spacingAndGlyphs">Por</text>
<text id="c_ProB_Poc" x="1157.5" y="1768.5" font-family="Carlito, 'Liberation Sans', sans-serif" font-size="26.5" textLength="41.0" lengthAdjust="spacingAndGlyphs">Poc</text>
<rect x="1244.3" y="1465.7" width="213.70000000000005" height="263.89999999999986" fill="#fff" stroke="#6e6e6e" stroke-width="1.8"/>
<rect x="1244.3" y="1403.5" width="214.79999999999995" height="62.200000000000045" fill="#dadada" stroke="#6e6e6e" stroke-width="1.6"/>
<text id="h_Sarcosine" x="1251.0" y="1430.6000000000001" font-family="'Liberation Sans', Arial, sans-serif" font-weight="bold" font-size="26" textLength="116.9" lengthAdjust="spacingAndGlyphs">Sarcosine</text>
<g>
<line x1="1240.8" y1="1504.6" x2="1244.3" y2="1504.6" stroke="#8a8a8a" stroke-width="1"/>
<text x="1239.3" y="1508.3" text-anchor="end" font-family="'Liberation Sans', Arial, sans-serif" font-size="10.5" fill="#7f7f7f">150</text>
<line x1="1240.8" y1="1556.5" x2="1244.3" y2="1556.5" stroke="#8a8a8a" stroke-width="1"/>
<text x="1239.3" y="1560.2" text-anchor="end" font-family="'Liberation Sans', Arial, sans-serif" font-size="10.5" fill="#7f7f7f">100</text>
<line x1="1240.8" y1="1608.5" x2="1244.3" y2="1608.5" stroke="#8a8a8a" stroke-width="1"/>
<text x="1239.3" y="1612.2" text-anchor="end" font-family="'Liberation Sans', Arial, sans-serif" font-size="10.5" fill="#7f7f7f">50</text>
<line x1="1240.8" y1="1660.5" x2="1244.3" y2="1660.5" stroke="#8a8a8a" stroke-width="1"/>
<text x="1239.3" y="1664.2" text-anchor="end" font-family="'Liberation Sans', Arial, sans-serif" font-size="10.5" fill="#7f7f7f">0</text>
<line x1="1240.8" y1="1712.4" x2="1244.3" y2="1712.4" stroke="#8a8a8a" stroke-width="1"/>
<text x="1239.3" y="1716.1" text-anchor="end" font-family="'Liberation Sans', Arial, sans-serif" font-size="10.5" fill="#7f7f7f">-50</text>
</g>
<line x1="1283.7" y1="1729.6" x2="1283.7" y2="1733.6" stroke="#6e6e6e" stroke-width="1.2"/>
<line x1="1350.9" y1="1729.6" x2="1350.9" y2="1733.6" stroke="#6e6e6e" stroke-width="1.2"/>
<line x1="1417.8" y1="1729.6" x2="1417.8" y2="1733.6" stroke="#6e6e6e" stroke-width="1.2"/>
<line x1="1284.1" y1="1475.9" x2="1284.1" y2="1624.3" stroke="#444" stroke-width="1.3"/>
<rect x="1259.1" y="1488.3" width="50.0" height="78.2" fill="#e8184a" stroke="#333" stroke-width="1.2"/>
<line x1="1259.1" y1="1518.9" x2="1309.1" y2="1518.9" stroke="#333" stroke-width="2.4"/>
<line x1="1347.7" y1="1716" x2="1347.7" y2="1718" stroke="#444" stroke-width="1.3"/>
<rect x="1318.9" y="1716.3" width="57.59999999999991" height="1.5" fill="#202020" stroke="#333" stroke-width="1.2"/>
<line x1="1318.9" y1="1717" x2="1376.5" y2="1717" stroke="#333" stroke-width="2.4"/>
<line x1="1418.35" y1="1715" x2="1418.35" y2="1717" stroke="#444" stroke-width="1.3"/>
<rect x="1392.8" y="1715.3" width="51.100000000000136" height="1.5" fill="#202020" stroke="#333" stroke-width="1.2"/>
<line x1="1392.8" y1="1716" x2="1443.9" y2="1716" stroke="#333" stroke-width="2.4"/>
<circle cx="1302.6" cy="1475.2" r="2.6" fill="#000"/>
<circle cx="1275.0" cy="1478.5" r="2.6" fill="#000"/>
<circle cx="1282.0" cy="1485.7" r="2.6" fill="#000"/>
<circle cx="1264.6" cy="1488.9" r="2.6" fill="#000"/>
<circle cx="1268.9" cy="1501.5" r="2.6" fill="#000"/>
<circle cx="1262.4" cy="1515.4" r="2.6" fill="#000"/>
<circle cx="1263.5" cy="1522.6" r="2.6" fill="#000"/>
<circle cx="1278.7" cy="1541.7" r="2.6" fill="#000"/>
<circle cx="1272.2" cy="1547.2" r="2.6" fill="#000"/>
<circle cx="1301.5" cy="1624.3" r="2.6" fill="#000"/>
<circle cx="1297.8" cy="1688.3" r="2.6" fill="#000"/>
<circle cx="1275.4" cy="1711.7" r="2.6" fill="#000"/>
<circle cx="1332.6" cy="1716.7" r="2.6" fill="#000"/>
<circle cx="1339.6" cy="1717.2" r="2.6" fill="#000"/>
<circle cx="1346.1" cy="1717.2" r="2.6" fill="#000"/>
<circle cx="1362.4" cy="1715.4" r="2.6" fill="#000"/>
<circle cx="1367.4" cy="1718.3" r="2.6" fill="#000"/>
<circle cx="1337.4" cy="1717.8" r="2.6" fill="#000"/>
<circle cx="1397.2" cy="1716.1" r="2.6" fill="#000"/>
<circle cx="1407.0" cy="1715.7" r="2.6" fill="#000"/>
<circle cx="1424.3" cy="1716.1" r="2.6" fill="#000"/>
<circle cx="1429.8" cy="1716.7" r="2.6" fill="#000"/>
<circle cx="1442.2" cy="1716.1" r="2.6" fill="#000"/>
<polygon points="1283.7,1545.1 1287.3,1548.7 1283.7,1552.3 1280.1,1548.7" fill="#ffff00"/>
<polygon points="1350.9,1713.6 1354.5,1717.2 1350.9,1720.8 1347.3,1717.2" fill="#ffff00"/>
<polygon points="1417.8,1712.9 1421.4,1716.5 1417.8,1720.1 1414.2,1716.5" fill="#ffff00"/>
<line x1="1293.9" y1="1475.4" x2="1417.8" y2="1475.4" stroke="#8a8a8a" stroke-width="1.3"/>
<polygon transform="translate(1351.00,1470.70)" points="0.00,-5.54 1.48,-1.28 5.99,-1.19 2.40,1.53 3.70,5.85 0.00,3.28 -3.70,5.85 -2.40,1.53 -5.99,-1.19 -1.48,-1.28" fill="#e4e4e4" stroke="#7c7c7c" stroke-width="1.25" stroke-linejoin="miter"/>
<polygon transform="translate(1365.00,1470.70)" points="0.00,-5.54 1.48,-1.28 5.99,-1.19 2.40,1.53 3.70,5.85 0.00,3.28 -3.70,5.85 -2.40,1.53 -5.99,-1.19 -1.48,-1.28" fill="#e4e4e4" stroke="#7c7c7c" stroke-width="1.25" stroke-linejoin="miter"/>
<line x1="1295" y1="1486.7" x2="1348.7" y2="1486.7" stroke="#8a8a8a" stroke-width="1.3"/>
<polygon transform="translate(1321.00,1482.70)" points="0.00,-5.54 1.48,-1.28 5.99,-1.19 2.40,1.53 3.70,5.85 0.00,3.28 -3.70,5.85 -2.40,1.53 -5.99,-1.19 -1.48,-1.28" fill="#e4e4e4" stroke="#7c7c7c" stroke-width="1.25" stroke-linejoin="miter"/>
<polygon transform="translate(1335.00,1482.70)" points="0.00,-5.54 1.48,-1.28 5.99,-1.19 2.40,1.53 3.70,5.85 0.00,3.28 -3.70,5.85 -2.40,1.53 -5.99,-1.19 -1.48,-1.28" fill="#e4e4e4" stroke="#7c7c7c" stroke-width="1.25" stroke-linejoin="miter"/>
<text id="c_Sarcosine_Mil" x="1258.6" y="1768.2" font-family="Carlito, 'Liberation Sans', sans-serif" font-size="26.5" textLength="37.5" lengthAdjust="spacingAndGlyphs">Mil</text>
<text id="c_Sarcosine_Por" x="1321.6" y="1768.2" font-family="Carlito, 'Liberation Sans', sans-serif" font-size="26.5" textLength="37.1" lengthAdjust="spacingAndGlyphs">Por</text>
<text id="c_Sarcosine_Poc" x="1397.5" y="1768.2" font-family="Carlito, 'Liberation Sans', sans-serif" font-size="26.5" textLength="40.6" lengthAdjust="spacingAndGlyphs">Poc</text>
<rect x="1484" y="1465" width="211.20000000000005" height="264.79999999999995" fill="#fff" stroke="#6e6e6e" stroke-width="1.8"/>
<rect x="1481.7" y="1400.9" width="215.29999999999995" height="63.0" fill="#dadada" stroke="#6e6e6e" stroke-width="1.6"/>
<text id="h_TauB" x="1499.0" y="1429.1000000000001" font-family="'Liberation Sans', Arial, sans-serif" font-weight="bold" font-size="26" textLength="66.1" lengthAdjust="spacingAndGlyphs">TauB</text>
<g>
<line x1="1480.5" y1="1502.0" x2="1484" y2="1502.0" stroke="#8a8a8a" stroke-width="1"/>
<text x="1479" y="1505.7" text-anchor="end" font-family="'Liberation Sans', Arial, sans-serif" font-size="10.5" fill="#7f7f7f">20</text>
<line x1="1480.5" y1="1565.6" x2="1484" y2="1565.6" stroke="#8a8a8a" stroke-width="1"/>
<text x="1479" y="1569.3" text-anchor="end" font-family="'Liberation Sans', Arial, sans-serif" font-size="10.5" fill="#7f7f7f">10</text>
<line x1="1480.5" y1="1629.2" x2="1484" y2="1629.2" stroke="#8a8a8a" stroke-width="1"/>
<text x="1479" y="1632.9" text-anchor="end" font-family="'Liberation Sans', Arial, sans-serif" font-size="10.5" fill="#7f7f7f">0</text>
<line x1="1480.5" y1="1692.8" x2="1484" y2="1692.8" stroke="#8a8a8a" stroke-width="1"/>
<text x="1479" y="1696.5" text-anchor="end" font-family="'Liberation Sans', Arial, sans-serif" font-size="10.5" fill="#7f7f7f">-10</text>
</g>
<line x1="1523.5" y1="1729.8" x2="1523.5" y2="1733.8" stroke="#6e6e6e" stroke-width="1.2"/>
<line x1="1590" y1="1729.8" x2="1590" y2="1733.8" stroke="#6e6e6e" stroke-width="1.2"/>
<line x1="1656.7" y1="1729.8" x2="1656.7" y2="1733.8" stroke="#6e6e6e" stroke-width="1.2"/>
<line x1="1523.25" y1="1642.8" x2="1523.25" y2="1693.3" stroke="#444" stroke-width="1.3"/>
<rect x="1498" y="1667.8" width="50.5" height="17.9" fill="#e8184a" stroke="#333" stroke-width="1.2"/>
<line x1="1498" y1="1673.7" x2="1548.5" y2="1673.7" stroke="#333" stroke-width="2.4"/>
<line x1="1590.2" y1="1478" x2="1590.2" y2="1552" stroke="#444" stroke-width="1.3"/>
<rect x="1565.4" y="1497" width="49.59999999999991" height="33.9" fill="#3db549" stroke="#333" stroke-width="1.2"/>
<line x1="1565.4" y1="1516" x2="1615" y2="1516" stroke="#333" stroke-width="2.4"/>
<line x1="1656.7" y1="1689.6" x2="1656.7" y2="1718" stroke="#444" stroke-width="1.3"/>
<rect x="1631.7" y="1702" width="50.0" height="13.0" fill="#4169e1" stroke="#333" stroke-width="1.2"/>
<line x1="1631.7" y1="1710" x2="1681.7" y2="1710" stroke="#333" stroke-width="2.4"/>
<circle cx="1563.7" cy="1477.6" r="2.6" fill="#000"/>
<circle cx="1598.0" cy="1493.9" r="2.6" fill="#000"/>
<circle cx="1602.8" cy="1493.9" r="2.6" fill="#000"/>
<circle cx="1585.7" cy="1498.3" r="2.6" fill="#000"/>
<circle cx="1564.3" cy="1503.0" r="2.6" fill="#000"/>
<circle cx="1586.1" cy="1520.4" r="2.6" fill="#000"/>
<circle cx="1607.8" cy="1516.5" r="2.6" fill="#000"/>
<circle cx="1549.3" cy="1526.5" r="2.6" fill="#000"/>
<circle cx="1565.2" cy="1529.6" r="2.6" fill="#000"/>
<circle cx="1586.5" cy="1536.1" r="2.6" fill="#000"/>
<circle cx="1610.7" cy="1544.3" r="2.6" fill="#000"/>
<circle cx="1563.5" cy="1552.6" r="2.6" fill="#000"/>
<circle cx="1507.8" cy="1642.6" r="2.6" fill="#000"/>
<circle cx="1541.5" cy="1668.9" r="2.6" fill="#000"/>
<circle cx="1510.7" cy="1672.2" r="2.6" fill="#000"/>
<circle cx="1518.7" cy="1672.6" r="2.6" fill="#000"/>
<circle cx="1519.8" cy="1675.9" r="2.6" fill="#000"/>
<circle cx="1515.4" cy="1678.5" r="2.6" fill="#000"/>
<circle cx="1535.0" cy="1684.6" r="2.6" fill="#000"/>
<circle cx="1513.7" cy="1690.0" r="2.6" fill="#000"/>
<circle cx="1528.0" cy="1693.7" r="2.6" fill="#000"/>
<circle cx="1517.2" cy="1715.7" r="2.6" fill="#000"/>
<circle cx="1650.9" cy="1688.9" r="2.6" fill="#000"/>
<circle cx="1643.3" cy="1692.8" r="2.6" fill="#000"/>
<circle cx="1653.5" cy="1697.2" r="2.6" fill="#000"/>
<circle cx="1643.3" cy="1704.8" r="2.6" fill="#000"/>
<circle cx="1672.0" cy="1703.5" r="2.6" fill="#000"/>
<circle cx="1639.3" cy="1709.1" r="2.6" fill="#000"/>
<circle cx="1668.3" cy="1710.7" r="2.6" fill="#000"/>
<circle cx="1633.9" cy="1713.9" r="2.6" fill="#000"/>
<circle cx="1680.7" cy="1714.6" r="2.6" fill="#000"/>
<circle cx="1640.9" cy="1717.8" r="2.6" fill="#000"/>
<circle cx="1663.3" cy="1718.7" r="2.6" fill="#000"/>
<circle cx="1680.0" cy="1716.7" r="2.6" fill="#000"/>
<polygon points="1523.0,1661.8 1526.6,1665.4 1523.0,1669.0 1519.4,1665.4" fill="#ffff00"/>
<polygon points="1589.8,1511.8 1593.4,1515.4 1589.8,1519.0 1586.2,1515.4" fill="#ffff00"/>
<polygon points="1656.3,1704.2 1659.9,1707.8 1656.3,1711.4 1652.7,1707.8" fill="#ffff00"/>
<line x1="1530" y1="1484.6" x2="1568.7" y2="1484.6" stroke="#8a8a8a" stroke-width="1.3"/>
<polygon transform="translate(1542.00,1476.20)" points="0.00,-5.54 1.48,-1.28 5.99,-1.19 2.40,1.53 3.70,5.85 0.00,3.28 -3.70,5.85 -2.40,1.53 -5.99,-1.19 -1.48,-1.28" fill="#e4e4e4" stroke="#7c7c7c" stroke-width="1.25" stroke-linejoin="miter"/>
<polygon transform="translate(1556.00,1476.20)" points="0.00,-5.54 1.48,-1.28 5.99,-1.19 2.40,1.53 3.70,5.85 0.00,3.28 -3.70,5.85 -2.40,1.53 -5.99,-1.19 -1.48,-1.28" fill="#e4e4e4" stroke="#7c7c7c" stroke-width="1.25" stroke-linejoin="miter"/>
<line x1="1611.5" y1="1484.6" x2="1649.8" y2="1484.6" stroke="#8a8a8a" stroke-width="1.3"/>
<polygon transform="translate(1627.00,1476.20)" points="0.00,-5.54 1.48,-1.28 5.99,-1.19 2.40,1.53 3.70,5.85 0.00,3.28 -3.70,5.85 -2.40,1.53 -5.99,-1.19 -1.48,-1.28" fill="#e4e4e4" stroke="#7c7c7c" stroke-width="1.25" stroke-linejoin="miter"/>
<polygon transform="translate(1641.00,1476.20)" points="0.00,-5.54 1.48,-1.28 5.99,-1.19 2.40,1.53 3.70,5.85 0.00,3.28 -3.70,5.85 -2.40,1.53 -5.99,-1.19 -1.48,-1.28" fill="#e4e4e4" stroke="#7c7c7c" stroke-width="1.25" stroke-linejoin="miter"/>
<line x1="1540.4" y1="1654.8" x2="1648.7" y2="1654.8" stroke="#8a8a8a" stroke-width="1.3"/>
<polygon transform="translate(1594.80,1643.50)" points="0.00,-6.60 1.76,-1.53 7.13,-1.42 2.85,1.83 4.41,6.97 0.00,3.90 -4.41,6.97 -2.85,1.83 -7.13,-1.42 -1.76,-1.53" fill="#e4e4e4" stroke="#7c7c7c" stroke-width="1.25" stroke-linejoin="miter"/>
<text id="c_TauB_Mil" x="1496.2" y="1769.7" font-family="Carlito, 'Liberation Sans', sans-serif" font-size="26.5" textLength="37.9" lengthAdjust="spacingAndGlyphs">Mil</text>
<text id="c_TauB_Por" x="1559.4" y="1769.7" font-family="Carlito, 'Liberation Sans', sans-serif" font-size="26.5" textLength="37.7" lengthAdjust="spacingAndGlyphs">Por</text>
<text id="c_TauB_Poc" x="1635.3" y="1769.7" font-family="Carlito, 'Liberation Sans', sans-serif" font-size="26.5" textLength="41.2" lengthAdjust="spacingAndGlyphs">Poc</text>
<rect x="1718.3" y="1465.7" width="214.70000000000005" height="264.0999999999999" fill="#fff" stroke="#6e6e6e" stroke-width="1.8"/>
<rect x="1716.7" y="1403.5" width="214.5999999999999" height="60.799999999999955" fill="#dadada" stroke="#6e6e6e" stroke-width="1.6"/>
<text id="h_Acetate" x="1736.4" y="1430.2" font-family="'Liberation Sans', Arial, sans-serif" font-weight="bold" font-size="26" textLength="96.7" lengthAdjust="spacingAndGlyphs">Acetate</text>
<g>
<line x1="1714.8" y1="1472.6" x2="1718.3" y2="1472.6" stroke="#8a8a8a" stroke-width="1"/>
<text x="1713.3" y="1476.3" text-anchor="end" font-family="'Liberation Sans', Arial, sans-serif" font-size="10.5" fill="#7f7f7f">30</text>
<line x1="1714.8" y1="1532.6" x2="1718.3" y2="1532.6" stroke="#8a8a8a" stroke-width="1"/>
<text x="1713.3" y="1536.3" text-anchor="end" font-family="'Liberation Sans', Arial, sans-serif" font-size="10.5" fill="#7f7f7f">20</text>
<line x1="1714.8" y1="1592.7" x2="1718.3" y2="1592.7" stroke="#8a8a8a" stroke-width="1"/>
<text x="1713.3" y="1596.4" text-anchor="end" font-family="'Liberation Sans', Arial, sans-serif" font-size="10.5" fill="#7f7f7f">10</text>
<line x1="1714.8" y1="1652.8" x2="1718.3" y2="1652.8" stroke="#8a8a8a" stroke-width="1"/>
<text x="1713.3" y="1656.5" text-anchor="end" font-family="'Liberation Sans', Arial, sans-serif" font-size="10.5" fill="#7f7f7f">0</text>
<line x1="1714.8" y1="1712.8" x2="1718.3" y2="1712.8" stroke="#8a8a8a" stroke-width="1"/>
<text x="1713.3" y="1716.5" text-anchor="end" font-family="'Liberation Sans', Arial, sans-serif" font-size="10.5" fill="#7f7f7f">-10</text>
</g>
<line x1="1758.5" y1="1729.8" x2="1758.5" y2="1733.8" stroke="#6e6e6e" stroke-width="1.2"/>
<line x1="1825.9" y1="1729.8" x2="1825.9" y2="1733.8" stroke="#6e6e6e" stroke-width="1.2"/>
<line x1="1892.8" y1="1729.8" x2="1892.8" y2="1733.8" stroke="#6e6e6e" stroke-width="1.2"/>
<line x1="1758.5" y1="1704" x2="1758.5" y2="1719" stroke="#444" stroke-width="1.3"/>
<rect x="1733" y="1710" width="51" height="5.4" fill="#7a1a35" stroke="#333" stroke-width="1.2"/>
<line x1="1733" y1="1712.5" x2="1784" y2="1712.5" stroke="#333" stroke-width="2.4"/>
<line x1="1825.85" y1="1513.5" x2="1825.85" y2="1571" stroke="#444" stroke-width="1.3"/>
<rect x="1800.4" y="1532" width="50.899999999999864" height="25.0" fill="#3db549" stroke="#333" stroke-width="1.2"/>
<line x1="1800.4" y1="1545.4" x2="1851.3" y2="1545.4" stroke="#333" stroke-width="2.4"/>
<line x1="1893.05" y1="1692" x2="1893.05" y2="1718" stroke="#444" stroke-width="1.3"/>
<rect x="1867.8" y="1697.2" width="50.5" height="16.8" fill="#4169e1" stroke="#333" stroke-width="1.2"/>
<line x1="1867.8" y1="1712" x2="1918.3" y2="1712" stroke="#333" stroke-width="2.4"/>
<circle cx="1827.4" cy="1477.0" r="2.6" fill="#000"/>
<circle cx="1820.4" cy="1488.9" r="2.6" fill="#000"/>
<circle cx="1815.0" cy="1513.3" r="2.6" fill="#000"/>
<circle cx="1800.2" cy="1538.3" r="2.6" fill="#000"/>
<circle cx="1805.2" cy="1547.0" r="2.6" fill="#000"/>
<circle cx="1815.7" cy="1542.8" r="2.6" fill="#000"/>
<circle cx="1819.3" cy="1544.3" r="2.6" fill="#000"/>
<circle cx="1821.5" cy="1550.4" r="2.6" fill="#000"/>
<circle cx="1807.8" cy="1557.0" r="2.6" fill="#000"/>
<circle cx="1835.7" cy="1557.0" r="2.6" fill="#000"/>
<circle cx="1850.9" cy="1571.5" r="2.6" fill="#000"/>
<circle cx="1851.3" cy="1601.5" r="2.6" fill="#000"/>
<circle cx="1767.2" cy="1685.2" r="2.6" fill="#000"/>
<circle cx="1750.4" cy="1703.7" r="2.6" fill="#000"/>
<circle cx="1771.5" cy="1709.1" r="2.6" fill="#000"/>
<circle cx="1731.7" cy="1713.5" r="2.6" fill="#000"/>
<circle cx="1735.0" cy="1718.7" r="2.6" fill="#000"/>
<circle cx="1748.3" cy="1716.7" r="2.6" fill="#000"/>
<circle cx="1753.7" cy="1715.4" r="2.6" fill="#000"/>
<circle cx="1767.2" cy="1715.7" r="2.6" fill="#000"/>
<circle cx="1776.5" cy="1713.5" r="2.6" fill="#000"/>
<circle cx="1763.9" cy="1710.7" r="2.6" fill="#000"/>
<circle cx="1875.4" cy="1696.1" r="2.6" fill="#000"/>
<circle cx="1897.0" cy="1697.6" r="2.6" fill="#000"/>
<circle cx="1904.1" cy="1696.5" r="2.6" fill="#000"/>
<circle cx="1911.7" cy="1692.8" r="2.6" fill="#000"/>
<circle cx="1866.1" cy="1711.1" r="2.6" fill="#000"/>
<circle cx="1872.2" cy="1713.9" r="2.6" fill="#000"/>
<circle cx="1879.1" cy="1713.9" r="2.6" fill="#000"/>
<circle cx="1898.3" cy="1711.3" r="2.6" fill="#000"/>
<circle cx="1905.7" cy="1716.1" r="2.6" fill="#000"/>
<circle cx="1911.7" cy="1713.3" r="2.6" fill="#000"/>
<polygon points="1758.5,1706.6 1762.1,1710.2 1758.5,1713.8 1754.9,1710.2" fill="#ffff00"/>
<polygon points="1825.4,1537.1 1829.0,1540.7 1825.4,1544.3 1821.8,1540.7" fill="#ffff00"/>
<polygon points="1892.8,1703.8 1896.4,1707.4 1892.8,1711.0 1889.2,1707.4" fill="#ffff00"/>
<line x1="1765" y1="1517.8" x2="1803" y2="1517.8" stroke="#8a8a8a" stroke-width="1.3"/>
<polygon transform="translate(1777.60,1508.80)" points="0.00,-5.54 1.48,-1.28 5.99,-1.19 2.40,1.53 3.70,5.85 0.00,3.28 -3.70,5.85 -2.40,1.53 -5.99,-1.19 -1.48,-1.28" fill="#e4e4e4" stroke="#7c7c7c" stroke-width="1.25" stroke-linejoin="miter"/>
<polygon transform="translate(1791.60,1508.80)" points="0.00,-5.54 1.48,-1.28 5.99,-1.19 2.40,1.53 3.70,5.85 0.00,3.28 -3.70,5.85 -2.40,1.53 -5.99,-1.19 -1.48,-1.28" fill="#e4e4e4" stroke="#7c7c7c" stroke-width="1.25" stroke-linejoin="miter"/>
<line x1="1834" y1="1517.8" x2="1880.2" y2="1517.8" stroke="#8a8a8a" stroke-width="1.3"/>
<polygon transform="translate(1850.40,1508.80)" points="0.00,-5.54 1.48,-1.28 5.99,-1.19 2.40,1.53 3.70,5.85 0.00,3.28 -3.70,5.85 -2.40,1.53 -5.99,-1.19 -1.48,-1.28" fill="#e4e4e4" stroke="#7c7c7c" stroke-width="1.25" stroke-linejoin="miter"/>
<polygon transform="translate(1864.40,1508.80)" points="0.00,-5.54 1.48,-1.28 5.99,-1.19 2.40,1.53 3.70,5.85 0.00,3.28 -3.70,5.85 -2.40,1.53 -5.99,-1.19 -1.48,-1.28" fill="#e4e4e4" stroke="#7c7c7c" stroke-width="1.25" stroke-linejoin="miter"/>
<text id="c_Acetate_Mil" x="1736.9" y="1769" font-family="Carlito, 'Liberation Sans', sans-serif" font-size="26.5" textLength="37.3" lengthAdjust="spacingAndGlyphs">Mil</text>
<text id="c_Acetate_Por" x="1798.7" y="1769" font-family="Carlito, 'Liberation Sans', sans-serif" font-size="26.5" textLength="38.1" lengthAdjust="spacingAndGlyphs">Por</text>
<text id="c_Acetate_Poc" x="1874.9" y="1769" font-family="Carlito, 'Liberation Sans', sans-serif" font-size="26.5" textLength="40.5" lengthAdjust="spacingAndGlyphs">Poc</text>
<polyline points="164.1,1408.6 170.3,1418.5" fill="none" stroke="#262626" stroke-width="1.3" stroke-linecap="butt" stroke-linejoin="miter"/>
<polyline points="182.7,1409.1 177.3,1418.0" fill="none" stroke="#262626" stroke-width="1.3" stroke-linecap="butt" stroke-linejoin="miter"/>
<polyline points="155.6,1424.7 168.7,1424.7" fill="none" stroke="#262626" stroke-width="1.3" stroke-linecap="butt" stroke-linejoin="miter"/>
<text x="174.5" y="1428.2" text-anchor="middle" font-family="'Liberation Sans', Arial, sans-serif" font-size="9.8" fill="#111">N</text>
<text x="182.3" y="1426.5" text-anchor="middle" font-family="'Liberation Sans', Arial, sans-serif" font-size="8" fill="#111">+</text>
<polyline points="177.6,1431.4 180.0,1434.9" fill="none" stroke="#262626" stroke-width="1.3" stroke-linecap="butt" stroke-linejoin="miter"/>
<text x="192.2" y="1444.8" text-anchor="middle" font-family="'Liberation Sans', Arial, sans-serif" font-size="11.6" fill="#111">CHC</text>
<polyline points="179.7,1446.7 173.3,1456.1" fill="none" stroke="#262626" stroke-width="1.3" stroke-linecap="butt" stroke-linejoin="miter"/>
<polyline points="203.3,1433.8 205.7,1429.2" fill="none" stroke="#262626" stroke-width="1.3" stroke-linecap="butt" stroke-linejoin="miter"/>
<polyline points="206.5,1435.1 208.7,1431.7" fill="none" stroke="#262626" stroke-width="1.3" stroke-linecap="butt" stroke-linejoin="miter"/>
<text x="210.6" y="1429.2" text-anchor="middle" font-family="'Liberation Sans', Arial, sans-serif" font-size="11.4" fill="#111">O</text>
<polyline points="204.1,1446.7 207.1,1450.7" fill="none" stroke="#262626" stroke-width="1.3" stroke-linecap="butt" stroke-linejoin="miter"/>
<text x="210.6" y="1460.6" text-anchor="middle" font-family="'Liberation Sans', Arial, sans-serif" font-size="11.0" fill="#111">O</text>
<text x="217.0" y="1456.0" text-anchor="middle" font-family="'Liberation Sans', Arial, sans-serif" font-size="7" fill="#111">-</text>
<polyline points="377.2,1411.3 387.2,1422.6" fill="none" stroke="#262626" stroke-width="1.5" stroke-linecap="butt" stroke-linejoin="miter"/>
<polyline points="386.6,1436.0 376.2,1447.3" fill="none" stroke="#262626" stroke-width="1.5" stroke-linecap="butt" stroke-linejoin="miter"/>
<polyline points="395.2,1438.7 400.3,1451.6" fill="none" stroke="#262626" stroke-width="1.5" stroke-linecap="butt" stroke-linejoin="miter"/>
<text x="393.6" y="1434.7" text-anchor="middle" font-family="'Liberation Sans', Arial, sans-serif" font-size="14.2" fill="#111">N</text>
<text x="402.6" y="1431.5" text-anchor="middle" font-family="'Liberation Sans', Arial, sans-serif" font-size="10" fill="#111">+</text>
<polyline points="407.0,1423.1 415.1,1418.8 435.2,1430.4 448.9,1423.1" fill="none" stroke="#262626" stroke-width="1.5" stroke-linecap="butt" stroke-linejoin="miter"/>
<text x="456.5" y="1424.7" text-anchor="middle" font-family="'Liberation Sans', Arial, sans-serif" font-size="15.1" fill="#111">O</text>
<text x="465.0" y="1419.5" text-anchor="middle" font-family="'Liberation Sans', Arial, sans-serif" font-size="8" fill="#111">-</text>
<polyline points="433.3,1431.4 433.3,1445.9" fill="none" stroke="#262626" stroke-width="1.5" stroke-linecap="butt" stroke-linejoin="miter"/>
<polyline points="437.9,1431.4 437.9,1445.9" fill="none" stroke="#262626" stroke-width="1.5" stroke-linecap="butt" stroke-linejoin="miter"/>
<text x="436.0" y="1460.4" text-anchor="middle" font-family="'Liberation Sans', Arial, sans-serif" font-size="14.7" fill="#111">O</text>
<polyline points="660.2,1439.2 650.8,1433.3 650.8,1416.6 665.2,1408.5 680.2,1417.0 680.2,1433.7 675.6,1435.7" fill="none" stroke="#262626" stroke-width="1.3" stroke-linecap="butt" stroke-linejoin="miter"/>
<polyline points="665.9,1412.9 677.1,1419.2" fill="none" stroke="#262626" stroke-width="1.2" stroke-linecap="butt" stroke-linejoin="miter"/>
<polyline points="653.4,1419.7 653.4,1430.7" fill="none" stroke="#262626" stroke-width="1.2" stroke-linecap="butt" stroke-linejoin="miter"/>
<polyline points="673.4,1433.7 676.7,1432.0" fill="none" stroke="#262626" stroke-width="1.2" stroke-linecap="butt" stroke-linejoin="miter"/>
<text x="666.6" y="1445.4" text-anchor="middle" font-family="'Liberation Sans', Arial, sans-serif" font-size="10.2" fill="#111">N</text>
<text x="674.0" y="1442.5" text-anchor="middle" font-family="'Liberation Sans', Arial, sans-serif" font-size="7.5" fill="#111">+</text>
<polyline points="665.9,1448.0 665.9,1457.7" fill="none" stroke="#262626" stroke-width="1.3" stroke-linecap="butt" stroke-linejoin="miter"/>
<polyline points="680.2,1433.7 694.2,1441.4 703.4,1436.4" fill="none" stroke="#262626" stroke-width="1.3" stroke-linecap="butt" stroke-linejoin="miter"/>
<text x="708.7" y="1437.7" text-anchor="middle" font-family="'Liberation Sans', Arial, sans-serif" font-size="11.5" fill="#111">O</text>
<text x="716.0" y="1434.0" text-anchor="middle" font-family="'Liberation Sans', Arial, sans-serif" font-size="6" fill="#111">-</text>
<polyline points="692.7,1441.6 692.7,1451.3" fill="none" stroke="#262626" stroke-width="1.3" stroke-linecap="butt" stroke-linejoin="miter"/>
<polyline points="696.0,1441.6 696.0,1451.3" fill="none" stroke="#262626" stroke-width="1.3" stroke-linecap="butt" stroke-linejoin="miter"/>
<text x="694.8" y="1462.5" text-anchor="middle" font-family="'Liberation Sans', Arial, sans-serif" font-size="11.1" fill="#111">O</text>
<text x="898.8" y="1413.5" text-anchor="middle" font-family="'Liberation Sans', Arial, sans-serif" font-size="9.8" font-weight="bold" fill="#111">HO</text>
<polyline points="905.0,1414.4 909.6,1422.3" fill="none" stroke="#262626" stroke-width="1.3" stroke-linecap="butt" stroke-linejoin="miter"/>
<polyline points="910.0,1443.2 902.1,1436.4 909.6,1422.3 923.6,1423.9 927.8,1438.1 923.0,1442.0" fill="none" stroke="#262626" stroke-width="1.3" stroke-linecap="butt" stroke-linejoin="miter"/>
<text x="916.2" y="1450.0" text-anchor="middle" font-family="'Liberation Sans', Arial, sans-serif" font-size="8.0" font-weight="bold" fill="#111">N</text>
<text x="921.5" y="1447.5" text-anchor="middle" font-family="'Liberation Sans', Arial, sans-serif" font-size="6" fill="#111">+</text>
<polygon points="927.8,1438.1 941.5,1445.8 942.7,1443.2" fill="#111"/>
<polyline points="942.1,1444.5 950.4,1438.1" fill="none" stroke="#262626" stroke-width="1.3" stroke-linecap="butt" stroke-linejoin="miter"/>
<text x="955.1" y="1439.4" text-anchor="middle" font-family="'Liberation Sans', Arial, sans-serif" font-size="9.9" fill="#111">O</text>
<text x="960.5" y="1435.0" text-anchor="middle" font-family="'Liberation Sans', Arial, sans-serif" font-size="5" fill="#111">-</text>
<polyline points="941.6,1446.0 941.6,1453.9" fill="none" stroke="#262626" stroke-width="1.3" stroke-linecap="butt" stroke-linejoin="miter"/>
<polyline points="945.1,1446.0 945.1,1453.9" fill="none" stroke="#262626" stroke-width="1.3" stroke-linecap="butt" stroke-linejoin="miter"/>
<text x="944.7" y="1463.4" text-anchor="middle" font-family="'Liberation Sans', Arial, sans-serif" font-size="9.7" fill="#111">O</text>
<polyline points="910.7,1452.0 905.4,1459.8" fill="none" stroke="#262626" stroke-width="1.3" stroke-linecap="butt" stroke-linejoin="miter"/>
<polyline points="916.8,1452.6 920.8,1460.3" fill="none" stroke="#262626" stroke-width="1.3" stroke-linecap="butt" stroke-linejoin="miter"/>
<polyline points="1129.1,1432.8 1121.3,1423.5 1132.1,1406.4 1151.1,1411.5 1152.8,1430.3 1146.2,1433.7" fill="none" stroke="#262626" stroke-width="1.4" stroke-linecap="butt" stroke-linejoin="miter"/>
<text x="1135.1" y="1443.0" text-anchor="middle" font-family="'Liberation Sans', Arial, sans-serif" font-size="11.6" font-weight="bold" fill="#111">N</text>
<text x="1142.6" y="1440.0" text-anchor="middle" font-family="'Liberation Sans', Arial, sans-serif" font-size="6" fill="#111">+</text>
<polygon points="1152.8,1430.8 1170.4,1441.0 1171.8,1438.2" fill="#111"/>
<polyline points="1171.1,1439.6 1180.4,1433.2" fill="none" stroke="#262626" stroke-width="1.3" stroke-linecap="butt" stroke-linejoin="miter"/>
<text x="1186.7" y="1435.2" text-anchor="middle" font-family="'Liberation Sans', Arial, sans-serif" font-size="12.7" fill="#111">O</text>
<text x="1193.5" y="1431.0" text-anchor="middle" font-family="'Liberation Sans', Arial, sans-serif" font-size="6" fill="#111">-</text>
<polyline points="1167.4,1442.0 1167.4,1452.8" fill="none" stroke="#262626" stroke-width="1.5" stroke-linecap="butt" stroke-linejoin="miter"/>
<polyline points="1171.1,1442.0 1171.1,1452.8" fill="none" stroke="#262626" stroke-width="1.5" stroke-linecap="butt" stroke-linejoin="miter"/>
<text x="1169.9" y="1464.7" text-anchor="middle" font-family="'Liberation Sans', Arial, sans-serif" font-size="13.0" fill="#111">O</text>
<polyline points="1129.1,1444.2 1121.1,1453.5" fill="none" stroke="#262626" stroke-width="1.4" stroke-linecap="butt" stroke-linejoin="miter"/>
<polyline points="1136.5,1446.4 1139.9,1456.9" fill="none" stroke="#262626" stroke-width="1.4" stroke-linecap="butt" stroke-linejoin="miter"/>
<polyline points="1369.6,1445.9 1381.3,1438.9" fill="none" stroke="#262626" stroke-width="1.3" stroke-linecap="butt" stroke-linejoin="miter"/>
<text x="1388.7" y="1428.6" text-anchor="middle" font-family="'Liberation Sans', Arial, sans-serif" font-size="12.3" fill="#111">H</text>
<text x="1388.7" y="1439.6" text-anchor="middle" font-family="'Liberation Sans', Arial, sans-serif" font-size="11.3" font-weight="bold" fill="#111">N</text>
<polyline points="1395.5,1439.6 1405.2,1445.4 1422.8,1435.7 1434.8,1442.0" fill="none" stroke="#262626" stroke-width="1.3" stroke-linecap="butt" stroke-linejoin="miter"/>
<polyline points="1421.1,1422.0 1421.1,1435.2" fill="none" stroke="#262626" stroke-width="1.4" stroke-linecap="butt" stroke-linejoin="miter"/>
<polyline points="1425.2,1422.0 1425.2,1435.2" fill="none" stroke="#262626" stroke-width="1.4" stroke-linecap="butt" stroke-linejoin="miter"/>
<text x="1423.4" y="1419.8" text-anchor="middle" font-family="'Liberation Sans', Arial, sans-serif" font-size="14.4" fill="#111">O</text>
<text x="1445.8" y="1451.0" text-anchor="middle" font-family="'Liberation Sans', Arial, sans-serif" font-size="14.2" fill="#111">OH</text>
<polyline points="1599.6,1420.2 1602.8,1432.5" fill="none" stroke="#262626" stroke-width="1.3" stroke-linecap="butt" stroke-linejoin="miter"/>
<polyline points="1585.3,1446.0 1598.7,1441.6" fill="none" stroke="#262626" stroke-width="1.3" stroke-linecap="butt" stroke-linejoin="miter"/>
<polyline points="1607.5,1447.7 1611.6,1460.0" fill="none" stroke="#262626" stroke-width="1.3" stroke-linecap="butt" stroke-linejoin="miter"/>
<text x="1605.5" y="1443.9" text-anchor="middle" font-family="'Liberation Sans', Arial, sans-serif" font-size="11.5" font-weight="bold" fill="#111">N</text>
<text x="1613.2" y="1441.3" text-anchor="middle" font-family="'Liberation Sans', Arial, sans-serif" font-size="7" fill="#111">+</text>
<polyline points="1615.4,1433.7 1622.1,1429.6 1639.4,1440.4 1651.1,1433.4" fill="none" stroke="#262626" stroke-width="1.3" stroke-linecap="butt" stroke-linejoin="miter"/>
<text x="1657.5" y="1435.1" text-anchor="middle" font-family="'Liberation Sans', Arial, sans-serif" font-size="13.6" fill="#111">S</text>
<text x="1647.3" y="1417.0" text-anchor="middle" font-family="'Liberation Sans', Arial, sans-serif" font-size="13.7" fill="#111">O</text>
<polyline points="1649.4,1419.9 1652.0,1423.7" fill="none" stroke="#262626" stroke-width="1.3" stroke-linecap="butt" stroke-linejoin="miter"/>
<polyline points="1652.3,1417.6 1654.9,1422.2" fill="none" stroke="#262626" stroke-width="1.3" stroke-linecap="butt" stroke-linejoin="miter"/>
<text x="1674.7" y="1424.0" text-anchor="middle" font-family="'Liberation Sans', Arial, sans-serif" font-size="12.5" fill="#111">O</text>
<text x="1682.2" y="1420.0" text-anchor="middle" font-family="'Liberation Sans', Arial, sans-serif" font-size="6" fill="#111">-</text>
<polyline points="1663.1,1426.6 1668.1,1423.1" fill="none" stroke="#262626" stroke-width="1.3" stroke-linecap="butt" stroke-linejoin="miter"/>
<text x="1667.3" y="1452.7" text-anchor="middle" font-family="'Liberation Sans', Arial, sans-serif" font-size="12.9" fill="#111">O</text>
<polyline points="1658.4,1436.6 1661.7,1441.9" fill="none" stroke="#262626" stroke-width="1.3" stroke-linecap="butt" stroke-linejoin="miter"/>
<polyline points="1661.7,1435.7 1664.9,1440.4" fill="none" stroke="#262626" stroke-width="1.3" stroke-linecap="butt" stroke-linejoin="miter"/>
<text x="1881.2" y="1421.2" text-anchor="middle" font-family="'Liberation Sans', Arial, sans-serif" font-size="16.0" fill="#111">O</text>
<polyline points="1878.3,1424.4 1878.3,1442.5" fill="none" stroke="#262626" stroke-width="1.5" stroke-linecap="butt" stroke-linejoin="miter"/>
<polyline points="1882.7,1424.4 1882.7,1442.0" fill="none" stroke="#262626" stroke-width="1.5" stroke-linecap="butt" stroke-linejoin="miter"/>
<polyline points="1858.3,1454.4 1880.5,1442.0 1895.6,1450.2" fill="none" stroke="#262626" stroke-width="1.5" stroke-linecap="butt" stroke-linejoin="miter"/>
<text x="1903.3" y="1460.5" text-anchor="middle" font-family="'Liberation Sans', Arial, sans-serif" font-size="16.4" fill="#111">O</text>
<text x="1912.5" y="1455.0" text-anchor="middle" font-family="'Liberation Sans', Arial, sans-serif" font-size="8" fill="#111">-</text>
</svg>
</body></html>
